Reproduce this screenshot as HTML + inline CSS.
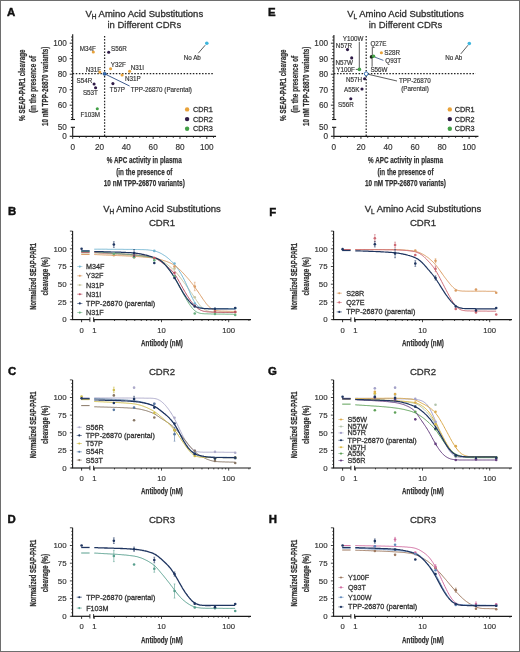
<!DOCTYPE html>
<html><head><meta charset="utf-8"><style>
html,body{margin:0;padding:0;background:#fff;}
#fig{position:relative;width:520px;height:652px;overflow:hidden;background:#fff;}
#fig svg{position:absolute;left:0;top:0;filter:blur(0.45px);}
#frame{position:absolute;left:0;top:0;width:520px;height:652px;box-sizing:border-box;border:1px solid #6e6e6e;}
text{font-family:"Liberation Sans", sans-serif;}
.cond{font-weight:bold;stroke:#303030;stroke-width:0.25px;}
.let{stroke:#111;stroke-width:0.45px;}
</style></head><body><div id="fig">
<svg width="520" height="652" viewBox="0 0 520 652" font-family='"Liberation Sans", sans-serif'>
<text x="6.90" y="16.20" font-size="11.4" font-weight="bold" fill="#111" class="let">A</text>
<text x="144.30" y="17.3" font-size="9.5" text-anchor="middle" fill="#303030" stroke="#303030" stroke-width="0.32">V<tspan font-size="6.5" dy="2">H</tspan><tspan dy="-2"> Amino Acid Substitutions</tspan></text>
<text x="144.30" y="28.30" font-size="9.5" text-anchor="middle" fill="#303030" stroke="#303030" stroke-width="0.26">in Different CDRs</text>
<line x1="72.70" y1="34.20" x2="72.70" y2="119.50" stroke="#1a1a1a" stroke-width="1.1"/>
<line x1="70.80" y1="119.50" x2="75.00" y2="119.50" stroke="#1a1a1a" stroke-width="1.1"/>
<line x1="72.70" y1="127.30" x2="72.70" y2="136.30" stroke="#1a1a1a" stroke-width="1.1"/>
<line x1="70.80" y1="127.30" x2="75.00" y2="127.30" stroke="#1a1a1a" stroke-width="1.1"/>
<line x1="71.10" y1="117.60" x2="72.70" y2="117.60" stroke="#1a1a1a" stroke-width="0.9"/>
<line x1="71.10" y1="114.50" x2="72.70" y2="114.50" stroke="#1a1a1a" stroke-width="0.9"/>
<line x1="71.10" y1="111.40" x2="72.70" y2="111.40" stroke="#1a1a1a" stroke-width="0.9"/>
<line x1="71.10" y1="108.30" x2="72.70" y2="108.30" stroke="#1a1a1a" stroke-width="0.9"/>
<line x1="69.70" y1="105.20" x2="72.70" y2="105.20" stroke="#1a1a1a" stroke-width="0.9"/>
<line x1="71.10" y1="102.10" x2="72.70" y2="102.10" stroke="#1a1a1a" stroke-width="0.9"/>
<line x1="71.10" y1="99.00" x2="72.70" y2="99.00" stroke="#1a1a1a" stroke-width="0.9"/>
<line x1="71.10" y1="95.90" x2="72.70" y2="95.90" stroke="#1a1a1a" stroke-width="0.9"/>
<line x1="71.10" y1="92.80" x2="72.70" y2="92.80" stroke="#1a1a1a" stroke-width="0.9"/>
<line x1="69.70" y1="89.70" x2="72.70" y2="89.70" stroke="#1a1a1a" stroke-width="0.9"/>
<line x1="71.10" y1="86.60" x2="72.70" y2="86.60" stroke="#1a1a1a" stroke-width="0.9"/>
<line x1="71.10" y1="83.50" x2="72.70" y2="83.50" stroke="#1a1a1a" stroke-width="0.9"/>
<line x1="71.10" y1="80.40" x2="72.70" y2="80.40" stroke="#1a1a1a" stroke-width="0.9"/>
<line x1="71.10" y1="77.30" x2="72.70" y2="77.30" stroke="#1a1a1a" stroke-width="0.9"/>
<line x1="69.70" y1="74.20" x2="72.70" y2="74.20" stroke="#1a1a1a" stroke-width="0.9"/>
<line x1="71.10" y1="71.10" x2="72.70" y2="71.10" stroke="#1a1a1a" stroke-width="0.9"/>
<line x1="71.10" y1="68.00" x2="72.70" y2="68.00" stroke="#1a1a1a" stroke-width="0.9"/>
<line x1="71.10" y1="64.90" x2="72.70" y2="64.90" stroke="#1a1a1a" stroke-width="0.9"/>
<line x1="71.10" y1="61.80" x2="72.70" y2="61.80" stroke="#1a1a1a" stroke-width="0.9"/>
<line x1="69.70" y1="58.70" x2="72.70" y2="58.70" stroke="#1a1a1a" stroke-width="0.9"/>
<line x1="71.10" y1="55.60" x2="72.70" y2="55.60" stroke="#1a1a1a" stroke-width="0.9"/>
<line x1="71.10" y1="52.50" x2="72.70" y2="52.50" stroke="#1a1a1a" stroke-width="0.9"/>
<line x1="71.10" y1="49.40" x2="72.70" y2="49.40" stroke="#1a1a1a" stroke-width="0.9"/>
<line x1="71.10" y1="46.30" x2="72.70" y2="46.30" stroke="#1a1a1a" stroke-width="0.9"/>
<line x1="69.70" y1="43.20" x2="72.70" y2="43.20" stroke="#1a1a1a" stroke-width="0.9"/>
<line x1="71.10" y1="40.10" x2="72.70" y2="40.10" stroke="#1a1a1a" stroke-width="0.9"/>
<line x1="71.10" y1="37.00" x2="72.70" y2="37.00" stroke="#1a1a1a" stroke-width="0.9"/>
<text x="66.80" y="46.10" font-size="8.2" text-anchor="end" fill="#333" stroke="#333" stroke-width="0.16">100</text>
<text x="66.80" y="61.60" font-size="8.2" text-anchor="end" fill="#333" stroke="#333" stroke-width="0.16">90</text>
<text x="66.80" y="77.10" font-size="8.2" text-anchor="end" fill="#333" stroke="#333" stroke-width="0.16">80</text>
<text x="66.80" y="92.60" font-size="8.2" text-anchor="end" fill="#333" stroke="#333" stroke-width="0.16">70</text>
<text x="66.80" y="108.10" font-size="8.2" text-anchor="end" fill="#333" stroke="#333" stroke-width="0.16">60</text>
<text x="66.80" y="130.20" font-size="8.2" text-anchor="end" fill="#333" stroke="#333" stroke-width="0.16">50</text>
<text x="66.80" y="139.20" font-size="8.2" text-anchor="end" fill="#333" stroke="#333" stroke-width="0.16">0</text>
<line x1="69.70" y1="136.30" x2="72.70" y2="136.30" stroke="#1a1a1a" stroke-width="1.1"/>
<line x1="72.70" y1="136.30" x2="216.05" y2="136.30" stroke="#1a1a1a" stroke-width="1.2"/>
<line x1="72.70" y1="136.30" x2="72.70" y2="138.90" stroke="#1a1a1a" stroke-width="0.9"/>
<line x1="79.41" y1="136.30" x2="79.41" y2="137.80" stroke="#1a1a1a" stroke-width="0.9"/>
<line x1="86.11" y1="136.30" x2="86.11" y2="137.80" stroke="#1a1a1a" stroke-width="0.9"/>
<line x1="92.81" y1="136.30" x2="92.81" y2="137.80" stroke="#1a1a1a" stroke-width="0.9"/>
<line x1="99.52" y1="136.30" x2="99.52" y2="138.90" stroke="#1a1a1a" stroke-width="0.9"/>
<line x1="106.22" y1="136.30" x2="106.22" y2="137.80" stroke="#1a1a1a" stroke-width="0.9"/>
<line x1="112.93" y1="136.30" x2="112.93" y2="137.80" stroke="#1a1a1a" stroke-width="0.9"/>
<line x1="119.64" y1="136.30" x2="119.64" y2="137.80" stroke="#1a1a1a" stroke-width="0.9"/>
<line x1="126.34" y1="136.30" x2="126.34" y2="138.90" stroke="#1a1a1a" stroke-width="0.9"/>
<line x1="133.05" y1="136.30" x2="133.05" y2="137.80" stroke="#1a1a1a" stroke-width="0.9"/>
<line x1="139.75" y1="136.30" x2="139.75" y2="137.80" stroke="#1a1a1a" stroke-width="0.9"/>
<line x1="146.45" y1="136.30" x2="146.45" y2="137.80" stroke="#1a1a1a" stroke-width="0.9"/>
<line x1="153.16" y1="136.30" x2="153.16" y2="138.90" stroke="#1a1a1a" stroke-width="0.9"/>
<line x1="159.87" y1="136.30" x2="159.87" y2="137.80" stroke="#1a1a1a" stroke-width="0.9"/>
<line x1="166.57" y1="136.30" x2="166.57" y2="137.80" stroke="#1a1a1a" stroke-width="0.9"/>
<line x1="173.28" y1="136.30" x2="173.28" y2="137.80" stroke="#1a1a1a" stroke-width="0.9"/>
<line x1="179.98" y1="136.30" x2="179.98" y2="138.90" stroke="#1a1a1a" stroke-width="0.9"/>
<line x1="186.69" y1="136.30" x2="186.69" y2="137.80" stroke="#1a1a1a" stroke-width="0.9"/>
<line x1="193.39" y1="136.30" x2="193.39" y2="137.80" stroke="#1a1a1a" stroke-width="0.9"/>
<line x1="200.09" y1="136.30" x2="200.09" y2="137.80" stroke="#1a1a1a" stroke-width="0.9"/>
<line x1="206.80" y1="136.30" x2="206.80" y2="138.90" stroke="#1a1a1a" stroke-width="0.9"/>
<line x1="213.50" y1="136.30" x2="213.50" y2="137.80" stroke="#1a1a1a" stroke-width="0.9"/>
<text x="72.70" y="149.60" font-size="8.2" text-anchor="middle" fill="#333" stroke="#333" stroke-width="0.16">0</text>
<text x="99.52" y="149.60" font-size="8.2" text-anchor="middle" fill="#333" stroke="#333" stroke-width="0.16">20</text>
<text x="126.34" y="149.60" font-size="8.2" text-anchor="middle" fill="#333" stroke="#333" stroke-width="0.16">40</text>
<text x="153.16" y="149.60" font-size="8.2" text-anchor="middle" fill="#333" stroke="#333" stroke-width="0.16">60</text>
<text x="179.98" y="149.60" font-size="8.2" text-anchor="middle" fill="#333" stroke="#333" stroke-width="0.16">80</text>
<text x="206.80" y="149.60" font-size="8.2" text-anchor="middle" fill="#333" stroke="#333" stroke-width="0.16">100</text>
<text x="144.30" y="163.20" font-size="9.9" text-anchor="middle" fill="#303030" textLength="74.9" lengthAdjust="spacingAndGlyphs" class="cond">% APC activity in plasma</text>
<text x="144.30" y="174.60" font-size="9.9" text-anchor="middle" fill="#303030" textLength="56.1" lengthAdjust="spacingAndGlyphs" class="cond">(in the presence of</text>
<text x="144.30" y="185.60" font-size="9.9" text-anchor="middle" fill="#303030" textLength="81.0" lengthAdjust="spacingAndGlyphs" class="cond">10 nM TPP-26870 variants)</text>
<text transform="translate(25.00,85.20) rotate(-90)" x="0" y="0" font-size="9.9" text-anchor="middle" fill="#303030" textLength="71.4" lengthAdjust="spacingAndGlyphs" class="cond">% SEAP-PAR1 cleavage</text>
<text transform="translate(36.40,84.40) rotate(-90)" x="0" y="0" font-size="9.9" text-anchor="middle" fill="#303030" textLength="56.9" lengthAdjust="spacingAndGlyphs" class="cond">(in the presence of</text>
<text transform="translate(47.90,86.30) rotate(-90)" x="0" y="0" font-size="9.9" text-anchor="middle" fill="#303030" textLength="79.4" lengthAdjust="spacingAndGlyphs" class="cond">10 nM TPP-26870 variants)</text>
<line x1="104.60" y1="36.00" x2="104.60" y2="136.30" stroke="#222" stroke-width="1.25" stroke-dasharray="1.5,1.58"/>
<line x1="72.70" y1="73.70" x2="213.00" y2="73.70" stroke="#222" stroke-width="1.25" stroke-dasharray="1.5,1.58"/>
<circle cx="93.30" cy="52.00" r="1.55" fill="#e8a23a"/>
<circle cx="108.70" cy="52.30" r="1.55" fill="#2e1a46"/>
<circle cx="110.60" cy="68.70" r="1.55" fill="#e8a23a"/>
<circle cx="129.60" cy="71.30" r="1.55" fill="#e8a23a"/>
<circle cx="99.80" cy="72.10" r="1.55" fill="#e8a23a"/>
<circle cx="122.10" cy="75.00" r="1.55" fill="#e8a23a"/>
<circle cx="94.10" cy="84.00" r="1.55" fill="#2e1a46"/>
<circle cx="95.60" cy="87.70" r="1.55" fill="#2e1a46"/>
<circle cx="112.90" cy="83.60" r="1.55" fill="#2e1a46"/>
<circle cx="97.30" cy="108.80" r="1.55" fill="#43a047"/>
<line x1="104.60" y1="73.80" x2="129.60" y2="86.00" stroke="#2b4a80" stroke-width="0.9"/>
<circle cx="104.60" cy="73.80" r="1.6" fill="#2f6db5" stroke="#1d3f73" stroke-width="0.6"/>
<circle cx="206.80" cy="43.20" r="1.8" fill="#3fb6dd"/>
<line x1="205.20" y1="45.20" x2="198.30" y2="53.20" stroke="#333" stroke-width="0.8"/>
<text x="79.80" y="50.80" font-size="6.3" fill="#333" stroke="#333" stroke-width="0.16">M34F</text>
<text x="111.00" y="51.30" font-size="6.3" fill="#333" stroke="#333" stroke-width="0.16">S56R</text>
<text x="110.80" y="66.70" font-size="6.3" fill="#333" stroke="#333" stroke-width="0.16">Y32F</text>
<text x="130.70" y="69.80" font-size="6.3" fill="#333" stroke="#333" stroke-width="0.16">N31I</text>
<text x="85.80" y="72.10" font-size="6.3" fill="#333" stroke="#333" stroke-width="0.16">N31F</text>
<text x="125.00" y="81.00" font-size="6.3" fill="#333" stroke="#333" stroke-width="0.16">N31P</text>
<text x="92.30" y="83.10" font-size="6.3" text-anchor="end" fill="#333" stroke="#333" stroke-width="0.16">S54R</text>
<text x="82.90" y="95.20" font-size="6.3" fill="#333" stroke="#333" stroke-width="0.16">S53T</text>
<text x="109.80" y="91.70" font-size="6.3" fill="#333" stroke="#333" stroke-width="0.16">T57P</text>
<text x="90.20" y="116.80" font-size="6.3" text-anchor="middle" fill="#333" stroke="#333" stroke-width="0.16">F103M</text>
<text x="130.70" y="91.70" font-size="6.3" fill="#333" stroke="#333" stroke-width="0.16">TPP-26870 (Parental)</text>
<text x="192.30" y="60.20" font-size="6.3" text-anchor="middle" fill="#333" stroke="#333" stroke-width="0.16">No Ab</text>
<circle cx="187.10" cy="109.40" r="2.2" fill="#e8a23a"/>
<text x="192.90" y="111.90" font-size="7.3" fill="#303030" stroke="#303030" stroke-width="0.26">CDR1</text>
<circle cx="187.10" cy="119.10" r="2.2" fill="#2e1a46"/>
<text x="192.90" y="121.60" font-size="7.3" fill="#303030" stroke="#303030" stroke-width="0.26">CDR2</text>
<circle cx="187.10" cy="128.80" r="2.2" fill="#43a047"/>
<text x="192.90" y="131.30" font-size="7.3" fill="#303030" stroke="#303030" stroke-width="0.26">CDR3</text>
<text x="268.10" y="16.20" font-size="11.4" font-weight="bold" fill="#111" class="let">E</text>
<text x="405.50" y="17.3" font-size="9.5" text-anchor="middle" fill="#303030" stroke="#303030" stroke-width="0.32">V<tspan font-size="6.5" dy="2">L</tspan><tspan dy="-2"> Amino Acid Substitutions</tspan></text>
<text x="405.50" y="28.30" font-size="9.5" text-anchor="middle" fill="#303030" stroke="#303030" stroke-width="0.26">in Different CDRs</text>
<line x1="333.90" y1="35.00" x2="333.90" y2="119.50" stroke="#1a1a1a" stroke-width="1.1"/>
<line x1="332.00" y1="119.50" x2="336.20" y2="119.50" stroke="#1a1a1a" stroke-width="1.1"/>
<line x1="333.90" y1="127.30" x2="333.90" y2="136.30" stroke="#1a1a1a" stroke-width="1.1"/>
<line x1="332.00" y1="127.30" x2="336.20" y2="127.30" stroke="#1a1a1a" stroke-width="1.1"/>
<line x1="332.30" y1="117.60" x2="333.90" y2="117.60" stroke="#1a1a1a" stroke-width="0.9"/>
<line x1="332.30" y1="114.50" x2="333.90" y2="114.50" stroke="#1a1a1a" stroke-width="0.9"/>
<line x1="332.30" y1="111.40" x2="333.90" y2="111.40" stroke="#1a1a1a" stroke-width="0.9"/>
<line x1="332.30" y1="108.30" x2="333.90" y2="108.30" stroke="#1a1a1a" stroke-width="0.9"/>
<line x1="330.90" y1="105.20" x2="333.90" y2="105.20" stroke="#1a1a1a" stroke-width="0.9"/>
<line x1="332.30" y1="102.10" x2="333.90" y2="102.10" stroke="#1a1a1a" stroke-width="0.9"/>
<line x1="332.30" y1="99.00" x2="333.90" y2="99.00" stroke="#1a1a1a" stroke-width="0.9"/>
<line x1="332.30" y1="95.90" x2="333.90" y2="95.90" stroke="#1a1a1a" stroke-width="0.9"/>
<line x1="332.30" y1="92.80" x2="333.90" y2="92.80" stroke="#1a1a1a" stroke-width="0.9"/>
<line x1="330.90" y1="89.70" x2="333.90" y2="89.70" stroke="#1a1a1a" stroke-width="0.9"/>
<line x1="332.30" y1="86.60" x2="333.90" y2="86.60" stroke="#1a1a1a" stroke-width="0.9"/>
<line x1="332.30" y1="83.50" x2="333.90" y2="83.50" stroke="#1a1a1a" stroke-width="0.9"/>
<line x1="332.30" y1="80.40" x2="333.90" y2="80.40" stroke="#1a1a1a" stroke-width="0.9"/>
<line x1="332.30" y1="77.30" x2="333.90" y2="77.30" stroke="#1a1a1a" stroke-width="0.9"/>
<line x1="330.90" y1="74.20" x2="333.90" y2="74.20" stroke="#1a1a1a" stroke-width="0.9"/>
<line x1="332.30" y1="71.10" x2="333.90" y2="71.10" stroke="#1a1a1a" stroke-width="0.9"/>
<line x1="332.30" y1="68.00" x2="333.90" y2="68.00" stroke="#1a1a1a" stroke-width="0.9"/>
<line x1="332.30" y1="64.90" x2="333.90" y2="64.90" stroke="#1a1a1a" stroke-width="0.9"/>
<line x1="332.30" y1="61.80" x2="333.90" y2="61.80" stroke="#1a1a1a" stroke-width="0.9"/>
<line x1="330.90" y1="58.70" x2="333.90" y2="58.70" stroke="#1a1a1a" stroke-width="0.9"/>
<line x1="332.30" y1="55.60" x2="333.90" y2="55.60" stroke="#1a1a1a" stroke-width="0.9"/>
<line x1="332.30" y1="52.50" x2="333.90" y2="52.50" stroke="#1a1a1a" stroke-width="0.9"/>
<line x1="332.30" y1="49.40" x2="333.90" y2="49.40" stroke="#1a1a1a" stroke-width="0.9"/>
<line x1="332.30" y1="46.30" x2="333.90" y2="46.30" stroke="#1a1a1a" stroke-width="0.9"/>
<line x1="330.90" y1="43.20" x2="333.90" y2="43.20" stroke="#1a1a1a" stroke-width="0.9"/>
<line x1="332.30" y1="40.10" x2="333.90" y2="40.10" stroke="#1a1a1a" stroke-width="0.9"/>
<line x1="332.30" y1="37.00" x2="333.90" y2="37.00" stroke="#1a1a1a" stroke-width="0.9"/>
<text x="328.00" y="46.10" font-size="8.2" text-anchor="end" fill="#333" stroke="#333" stroke-width="0.16">100</text>
<text x="328.00" y="61.60" font-size="8.2" text-anchor="end" fill="#333" stroke="#333" stroke-width="0.16">90</text>
<text x="328.00" y="77.10" font-size="8.2" text-anchor="end" fill="#333" stroke="#333" stroke-width="0.16">80</text>
<text x="328.00" y="92.60" font-size="8.2" text-anchor="end" fill="#333" stroke="#333" stroke-width="0.16">70</text>
<text x="328.00" y="108.10" font-size="8.2" text-anchor="end" fill="#333" stroke="#333" stroke-width="0.16">60</text>
<text x="328.00" y="130.20" font-size="8.2" text-anchor="end" fill="#333" stroke="#333" stroke-width="0.16">50</text>
<text x="328.00" y="139.20" font-size="8.2" text-anchor="end" fill="#333" stroke="#333" stroke-width="0.16">0</text>
<line x1="330.90" y1="136.30" x2="333.90" y2="136.30" stroke="#1a1a1a" stroke-width="1.1"/>
<line x1="333.90" y1="136.30" x2="478.43" y2="136.30" stroke="#1a1a1a" stroke-width="1.2"/>
<line x1="333.90" y1="136.30" x2="333.90" y2="138.90" stroke="#1a1a1a" stroke-width="0.9"/>
<line x1="340.66" y1="136.30" x2="340.66" y2="137.80" stroke="#1a1a1a" stroke-width="0.9"/>
<line x1="347.42" y1="136.30" x2="347.42" y2="137.80" stroke="#1a1a1a" stroke-width="0.9"/>
<line x1="354.18" y1="136.30" x2="354.18" y2="137.80" stroke="#1a1a1a" stroke-width="0.9"/>
<line x1="360.94" y1="136.30" x2="360.94" y2="138.90" stroke="#1a1a1a" stroke-width="0.9"/>
<line x1="367.70" y1="136.30" x2="367.70" y2="137.80" stroke="#1a1a1a" stroke-width="0.9"/>
<line x1="374.46" y1="136.30" x2="374.46" y2="137.80" stroke="#1a1a1a" stroke-width="0.9"/>
<line x1="381.22" y1="136.30" x2="381.22" y2="137.80" stroke="#1a1a1a" stroke-width="0.9"/>
<line x1="387.98" y1="136.30" x2="387.98" y2="138.90" stroke="#1a1a1a" stroke-width="0.9"/>
<line x1="394.74" y1="136.30" x2="394.74" y2="137.80" stroke="#1a1a1a" stroke-width="0.9"/>
<line x1="401.50" y1="136.30" x2="401.50" y2="137.80" stroke="#1a1a1a" stroke-width="0.9"/>
<line x1="408.26" y1="136.30" x2="408.26" y2="137.80" stroke="#1a1a1a" stroke-width="0.9"/>
<line x1="415.02" y1="136.30" x2="415.02" y2="138.90" stroke="#1a1a1a" stroke-width="0.9"/>
<line x1="421.78" y1="136.30" x2="421.78" y2="137.80" stroke="#1a1a1a" stroke-width="0.9"/>
<line x1="428.54" y1="136.30" x2="428.54" y2="137.80" stroke="#1a1a1a" stroke-width="0.9"/>
<line x1="435.30" y1="136.30" x2="435.30" y2="137.80" stroke="#1a1a1a" stroke-width="0.9"/>
<line x1="442.06" y1="136.30" x2="442.06" y2="138.90" stroke="#1a1a1a" stroke-width="0.9"/>
<line x1="448.82" y1="136.30" x2="448.82" y2="137.80" stroke="#1a1a1a" stroke-width="0.9"/>
<line x1="455.58" y1="136.30" x2="455.58" y2="137.80" stroke="#1a1a1a" stroke-width="0.9"/>
<line x1="462.34" y1="136.30" x2="462.34" y2="137.80" stroke="#1a1a1a" stroke-width="0.9"/>
<line x1="469.10" y1="136.30" x2="469.10" y2="138.90" stroke="#1a1a1a" stroke-width="0.9"/>
<line x1="475.86" y1="136.30" x2="475.86" y2="137.80" stroke="#1a1a1a" stroke-width="0.9"/>
<text x="333.90" y="149.60" font-size="8.2" text-anchor="middle" fill="#333" stroke="#333" stroke-width="0.16">0</text>
<text x="360.94" y="149.60" font-size="8.2" text-anchor="middle" fill="#333" stroke="#333" stroke-width="0.16">20</text>
<text x="387.98" y="149.60" font-size="8.2" text-anchor="middle" fill="#333" stroke="#333" stroke-width="0.16">40</text>
<text x="415.02" y="149.60" font-size="8.2" text-anchor="middle" fill="#333" stroke="#333" stroke-width="0.16">60</text>
<text x="442.06" y="149.60" font-size="8.2" text-anchor="middle" fill="#333" stroke="#333" stroke-width="0.16">80</text>
<text x="469.10" y="149.60" font-size="8.2" text-anchor="middle" fill="#333" stroke="#333" stroke-width="0.16">100</text>
<text x="405.50" y="163.20" font-size="9.9" text-anchor="middle" fill="#303030" textLength="74.9" lengthAdjust="spacingAndGlyphs" class="cond">% APC activity in plasma</text>
<text x="405.50" y="174.60" font-size="9.9" text-anchor="middle" fill="#303030" textLength="56.1" lengthAdjust="spacingAndGlyphs" class="cond">(in the presence of</text>
<text x="405.50" y="185.60" font-size="9.9" text-anchor="middle" fill="#303030" textLength="81.0" lengthAdjust="spacingAndGlyphs" class="cond">10 nM TPP-26870 variants)</text>
<text transform="translate(286.20,85.20) rotate(-90)" x="0" y="0" font-size="9.9" text-anchor="middle" fill="#303030" textLength="71.4" lengthAdjust="spacingAndGlyphs" class="cond">% SEAP-PAR1 cleavage</text>
<text transform="translate(297.60,84.40) rotate(-90)" x="0" y="0" font-size="9.9" text-anchor="middle" fill="#303030" textLength="56.9" lengthAdjust="spacingAndGlyphs" class="cond">(in the presence of</text>
<text transform="translate(309.10,86.30) rotate(-90)" x="0" y="0" font-size="9.9" text-anchor="middle" fill="#303030" textLength="79.4" lengthAdjust="spacingAndGlyphs" class="cond">10 nM TPP-26870 variants)</text>
<line x1="366.20" y1="36.00" x2="366.20" y2="136.30" stroke="#222" stroke-width="1.25" stroke-dasharray="1.5,1.58"/>
<line x1="333.90" y1="73.70" x2="475.70" y2="73.70" stroke="#222" stroke-width="1.25" stroke-dasharray="1.5,1.58"/>
<circle cx="347.50" cy="49.60" r="1.55" fill="#2e1a46"/>
<circle cx="351.70" cy="57.90" r="1.55" fill="#2e1a46"/>
<circle cx="364.60" cy="78.70" r="1.55" fill="#2e1a46"/>
<circle cx="362.00" cy="89.00" r="1.55" fill="#2e1a46"/>
<circle cx="350.80" cy="98.70" r="1.55" fill="#2e1a46"/>
<circle cx="381.40" cy="52.80" r="1.55" fill="#e8a23a"/>
<line x1="359.30" y1="41.80" x2="359.30" y2="69.00" stroke="#333" stroke-width="0.8"/>
<line x1="355.80" y1="69.40" x2="358.00" y2="69.40" stroke="#333" stroke-width="0.8"/>
<circle cx="359.40" cy="69.40" r="1.8" fill="#43a047"/>
<line x1="372.30" y1="46.60" x2="372.30" y2="55.00" stroke="#333" stroke-width="0.8"/>
<line x1="372.10" y1="58.50" x2="372.10" y2="66.70" stroke="#333" stroke-width="0.8"/>
<line x1="375.00" y1="57.20" x2="383.40" y2="60.40" stroke="#2b4a80" stroke-width="0.8"/>
<circle cx="371.50" cy="56.90" r="1.8" fill="#1c2a1c"/>
<circle cx="373.60" cy="56.30" r="1.7" fill="#43a047"/>
<line x1="366.20" y1="73.80" x2="397.00" y2="81.00" stroke="#333" stroke-width="0.8"/>
<circle cx="366.20" cy="73.80" r="1.9" fill="#ffffff" stroke="#2f6db5" stroke-width="0.95"/>
<circle cx="469.30" cy="43.50" r="1.8" fill="#3fb6dd"/>
<line x1="468.00" y1="45.20" x2="460.80" y2="53.90" stroke="#333" stroke-width="0.8"/>
<text x="342.70" y="41.00" font-size="6.3" fill="#333" stroke="#333" stroke-width="0.16">Y100W</text>
<text x="343.90" y="48.20" font-size="6.3" text-anchor="middle" fill="#333" stroke="#333" stroke-width="0.16">N57R</text>
<text x="344.20" y="64.60" font-size="6.3" text-anchor="middle" fill="#333" stroke="#333" stroke-width="0.16">N57W</text>
<text x="354.80" y="72.20" font-size="6.3" text-anchor="end" fill="#333" stroke="#333" stroke-width="0.16">Y100F</text>
<text x="362.00" y="82.10" font-size="6.3" text-anchor="end" fill="#333" stroke="#333" stroke-width="0.16">N57H</text>
<text x="359.40" y="91.70" font-size="6.3" text-anchor="end" fill="#333" stroke="#333" stroke-width="0.16">A55K</text>
<text x="346.00" y="106.50" font-size="6.3" text-anchor="middle" fill="#333" stroke="#333" stroke-width="0.16">S56R</text>
<text x="370.40" y="45.60" font-size="6.3" fill="#333" stroke="#333" stroke-width="0.16">Q27E</text>
<text x="384.30" y="54.80" font-size="6.3" fill="#333" stroke="#333" stroke-width="0.16">S28R</text>
<text x="385.30" y="63.40" font-size="6.3" fill="#333" stroke="#333" stroke-width="0.16">Q93T</text>
<text x="370.40" y="72.20" font-size="6.3" fill="#333" stroke="#333" stroke-width="0.16">S56W</text>
<text x="399.00" y="83.00" font-size="6.3" fill="#333" stroke="#333" stroke-width="0.16">TPP-26870</text>
<text x="415.00" y="91.00" font-size="6.3" text-anchor="middle" fill="#333" stroke="#333" stroke-width="0.16">(Parental)</text>
<text x="453.80" y="60.40" font-size="6.3" text-anchor="middle" fill="#333" stroke="#333" stroke-width="0.16">No Ab</text>
<circle cx="449.80" cy="109.40" r="2.2" fill="#e8a23a"/>
<text x="454.80" y="111.90" font-size="7.3" fill="#303030" stroke="#303030" stroke-width="0.26">CDR1</text>
<circle cx="449.80" cy="119.10" r="2.2" fill="#2e1a46"/>
<text x="454.80" y="121.60" font-size="7.3" fill="#303030" stroke="#303030" stroke-width="0.26">CDR2</text>
<circle cx="449.80" cy="128.80" r="2.2" fill="#43a047"/>
<text x="454.80" y="131.30" font-size="7.3" fill="#303030" stroke="#303030" stroke-width="0.26">CDR3</text>
<text x="8.00" y="215.00" font-size="11.4" font-weight="bold" fill="#111" class="let">B</text>
<text x="162.00" y="211.70" font-size="9.5" text-anchor="middle" fill="#303030" stroke="#303030" stroke-width="0.32">V<tspan font-size="6.4" dy="2">H</tspan><tspan dy="-2"> Amino Acid Substitutions</tspan></text>
<text x="162.00" y="226.20" font-size="9.6" text-anchor="middle" fill="#303030" stroke="#303030" stroke-width="0.26">CDR1</text>
<line x1="72.60" y1="231.10" x2="72.60" y2="319.60" stroke="#1a1a1a" stroke-width="1.1"/>
<line x1="69.90" y1="319.60" x2="72.60" y2="319.60" stroke="#1a1a1a" stroke-width="0.8"/>
<line x1="71.30" y1="316.06" x2="72.60" y2="316.06" stroke="#1a1a1a" stroke-width="0.8"/>
<line x1="71.30" y1="312.52" x2="72.60" y2="312.52" stroke="#1a1a1a" stroke-width="0.8"/>
<line x1="71.30" y1="308.98" x2="72.60" y2="308.98" stroke="#1a1a1a" stroke-width="0.8"/>
<line x1="71.30" y1="305.44" x2="72.60" y2="305.44" stroke="#1a1a1a" stroke-width="0.8"/>
<line x1="69.90" y1="301.90" x2="72.60" y2="301.90" stroke="#1a1a1a" stroke-width="0.8"/>
<line x1="71.30" y1="298.36" x2="72.60" y2="298.36" stroke="#1a1a1a" stroke-width="0.8"/>
<line x1="71.30" y1="294.82" x2="72.60" y2="294.82" stroke="#1a1a1a" stroke-width="0.8"/>
<line x1="71.30" y1="291.28" x2="72.60" y2="291.28" stroke="#1a1a1a" stroke-width="0.8"/>
<line x1="71.30" y1="287.74" x2="72.60" y2="287.74" stroke="#1a1a1a" stroke-width="0.8"/>
<line x1="69.90" y1="284.20" x2="72.60" y2="284.20" stroke="#1a1a1a" stroke-width="0.8"/>
<line x1="71.30" y1="280.66" x2="72.60" y2="280.66" stroke="#1a1a1a" stroke-width="0.8"/>
<line x1="71.30" y1="277.12" x2="72.60" y2="277.12" stroke="#1a1a1a" stroke-width="0.8"/>
<line x1="71.30" y1="273.58" x2="72.60" y2="273.58" stroke="#1a1a1a" stroke-width="0.8"/>
<line x1="71.30" y1="270.04" x2="72.60" y2="270.04" stroke="#1a1a1a" stroke-width="0.8"/>
<line x1="69.90" y1="266.50" x2="72.60" y2="266.50" stroke="#1a1a1a" stroke-width="0.8"/>
<line x1="71.30" y1="262.96" x2="72.60" y2="262.96" stroke="#1a1a1a" stroke-width="0.8"/>
<line x1="71.30" y1="259.42" x2="72.60" y2="259.42" stroke="#1a1a1a" stroke-width="0.8"/>
<line x1="71.30" y1="255.88" x2="72.60" y2="255.88" stroke="#1a1a1a" stroke-width="0.8"/>
<line x1="71.30" y1="252.34" x2="72.60" y2="252.34" stroke="#1a1a1a" stroke-width="0.8"/>
<line x1="69.90" y1="248.80" x2="72.60" y2="248.80" stroke="#1a1a1a" stroke-width="0.8"/>
<line x1="71.30" y1="245.26" x2="72.60" y2="245.26" stroke="#1a1a1a" stroke-width="0.8"/>
<line x1="71.30" y1="241.72" x2="72.60" y2="241.72" stroke="#1a1a1a" stroke-width="0.8"/>
<line x1="71.30" y1="238.18" x2="72.60" y2="238.18" stroke="#1a1a1a" stroke-width="0.8"/>
<line x1="71.30" y1="234.64" x2="72.60" y2="234.64" stroke="#1a1a1a" stroke-width="0.8"/>
<line x1="69.90" y1="231.10" x2="72.60" y2="231.10" stroke="#1a1a1a" stroke-width="0.8"/>
<text x="66.60" y="322.40" font-size="7.9" text-anchor="end" fill="#333" stroke="#333" stroke-width="0.16">0</text>
<text x="66.60" y="304.70" font-size="7.9" text-anchor="end" fill="#333" stroke="#333" stroke-width="0.16">25</text>
<text x="66.60" y="287.00" font-size="7.9" text-anchor="end" fill="#333" stroke="#333" stroke-width="0.16">50</text>
<text x="66.60" y="269.30" font-size="7.9" text-anchor="end" fill="#333" stroke="#333" stroke-width="0.16">75</text>
<text x="66.60" y="251.60" font-size="7.9" text-anchor="end" fill="#333" stroke="#333" stroke-width="0.16">100</text>
<line x1="71.50" y1="319.60" x2="89.90" y2="319.60" stroke="#1a1a1a" stroke-width="1.2"/>
<line x1="93.60" y1="319.60" x2="251.00" y2="319.60" stroke="#1a1a1a" stroke-width="1.2"/>
<line x1="89.90" y1="317.40" x2="89.90" y2="321.80" stroke="#1a1a1a" stroke-width="0.9"/>
<line x1="93.60" y1="317.40" x2="93.60" y2="321.80" stroke="#1a1a1a" stroke-width="0.9"/>
<line x1="81.60" y1="319.60" x2="81.60" y2="322.20" stroke="#1a1a1a" stroke-width="0.9"/>
<line x1="94.30" y1="319.60" x2="94.30" y2="322.20" stroke="#1a1a1a" stroke-width="0.8"/>
<line x1="114.53" y1="319.60" x2="114.53" y2="321.00" stroke="#1a1a1a" stroke-width="0.8"/>
<line x1="126.36" y1="319.60" x2="126.36" y2="321.00" stroke="#1a1a1a" stroke-width="0.8"/>
<line x1="134.76" y1="319.60" x2="134.76" y2="321.00" stroke="#1a1a1a" stroke-width="0.8"/>
<line x1="141.27" y1="319.60" x2="141.27" y2="321.00" stroke="#1a1a1a" stroke-width="0.8"/>
<line x1="146.59" y1="319.60" x2="146.59" y2="321.00" stroke="#1a1a1a" stroke-width="0.8"/>
<line x1="151.09" y1="319.60" x2="151.09" y2="321.00" stroke="#1a1a1a" stroke-width="0.8"/>
<line x1="154.99" y1="319.60" x2="154.99" y2="321.00" stroke="#1a1a1a" stroke-width="0.8"/>
<line x1="158.43" y1="319.60" x2="158.43" y2="321.00" stroke="#1a1a1a" stroke-width="0.8"/>
<line x1="161.50" y1="319.60" x2="161.50" y2="322.20" stroke="#1a1a1a" stroke-width="0.8"/>
<line x1="181.73" y1="319.60" x2="181.73" y2="321.00" stroke="#1a1a1a" stroke-width="0.8"/>
<line x1="193.56" y1="319.60" x2="193.56" y2="321.00" stroke="#1a1a1a" stroke-width="0.8"/>
<line x1="201.96" y1="319.60" x2="201.96" y2="321.00" stroke="#1a1a1a" stroke-width="0.8"/>
<line x1="208.47" y1="319.60" x2="208.47" y2="321.00" stroke="#1a1a1a" stroke-width="0.8"/>
<line x1="213.79" y1="319.60" x2="213.79" y2="321.00" stroke="#1a1a1a" stroke-width="0.8"/>
<line x1="218.29" y1="319.60" x2="218.29" y2="321.00" stroke="#1a1a1a" stroke-width="0.8"/>
<line x1="222.19" y1="319.60" x2="222.19" y2="321.00" stroke="#1a1a1a" stroke-width="0.8"/>
<line x1="225.63" y1="319.60" x2="225.63" y2="321.00" stroke="#1a1a1a" stroke-width="0.8"/>
<line x1="228.70" y1="319.60" x2="228.70" y2="322.20" stroke="#1a1a1a" stroke-width="0.8"/>
<line x1="248.93" y1="319.60" x2="248.93" y2="321.00" stroke="#1a1a1a" stroke-width="0.8"/>
<text x="81.60" y="332.50" font-size="7.7" text-anchor="middle" fill="#333" stroke="#333" stroke-width="0.16">0</text>
<text x="94.30" y="332.50" font-size="7.7" text-anchor="middle" fill="#333" stroke="#333" stroke-width="0.16">1</text>
<text x="161.50" y="332.50" font-size="7.7" text-anchor="middle" fill="#333" stroke="#333" stroke-width="0.16">10</text>
<text x="228.70" y="332.50" font-size="7.7" text-anchor="middle" fill="#333" stroke="#333" stroke-width="0.16">100</text>
<text x="162.00" y="345.90" font-size="8.8" text-anchor="middle" fill="#303030" textLength="41.8" lengthAdjust="spacingAndGlyphs" class="cond">Antibody (nM)</text>
<text transform="translate(36.00,276.40) rotate(-90)" x="0" y="0" font-size="9.3" text-anchor="middle" fill="#303030" textLength="66.8" lengthAdjust="spacingAndGlyphs" class="cond">Normalized SEAP-PAR1</text>
<text transform="translate(47.60,276.40) rotate(-90)" x="0" y="0" font-size="9.3" text-anchor="middle" fill="#303030" textLength="38.4" lengthAdjust="spacingAndGlyphs" class="cond">cleavage (%)</text>
<line x1="81.20" y1="253.05" x2="89.60" y2="253.05" stroke="#c8c5a0" stroke-width="1.0"/>
<polyline points="94.3,253.1 95.1,253.2 95.9,253.2 96.7,253.3 97.5,253.3 98.3,253.4 99.1,253.4 99.9,253.5 100.7,253.5 101.5,253.6 102.3,253.6 103.1,253.7 103.9,253.7 104.7,253.8 105.5,253.8 106.3,253.9 107.1,253.9 107.9,254.0 108.7,254.0 109.5,254.1 110.3,254.1 111.1,254.2 111.9,254.2 112.7,254.3 113.5,254.3 114.3,254.4 115.1,254.4 115.9,254.5 116.7,254.5 117.5,254.6 118.3,254.6 119.1,254.7 119.9,254.7 120.7,254.7 121.5,254.8 122.3,254.8 123.1,254.9 123.9,254.9 124.7,255.0 125.5,255.1 126.3,255.1 127.1,255.2 127.9,255.2 128.7,255.3 129.5,255.3 130.3,255.4 131.1,255.5 131.9,255.5 132.7,255.6 133.5,255.6 134.3,255.7 135.1,255.8 135.9,255.8 136.7,255.9 137.5,256.0 138.3,256.1 139.1,256.1 139.9,256.2 140.7,256.3 141.5,256.4 142.3,256.5 143.1,256.6 143.9,256.7 144.7,256.8 145.5,256.9 146.3,257.0 147.1,257.1 147.9,257.2 148.7,257.3 149.5,257.4 150.3,257.5 151.1,257.6 151.9,257.8 152.7,257.9 153.5,258.1 154.3,258.3 155.1,258.5 155.9,258.7 156.7,258.9 157.5,259.2 158.3,259.5 159.1,259.9 159.9,260.2 160.7,260.6 161.5,261.0 162.3,261.4 163.1,261.9 163.9,262.3 164.7,262.8 165.5,263.3 166.3,263.9 167.1,264.5 167.9,265.0 168.7,265.6 169.5,266.3 170.3,266.9 171.1,267.6 171.9,268.3 172.7,269.0 173.5,269.8 174.3,270.6 175.1,271.4 175.9,272.2 176.7,273.1 177.5,274.1 178.3,275.0 179.1,276.0 179.9,277.1 180.7,278.1 181.5,279.2 182.3,280.3 183.1,281.3 183.9,282.4 184.7,283.5 185.5,284.6 186.3,285.7 187.1,286.8 187.9,287.9 188.7,289.0 189.5,290.1 190.3,291.3 191.1,292.4 191.9,293.5 192.7,294.7 193.5,295.9 194.3,297.1 195.1,298.3 195.9,299.5 196.7,300.7 197.5,301.9 198.3,303.1 199.1,304.2 199.9,305.3 200.7,306.2 201.5,307.1 202.3,307.9 203.1,308.5 203.9,309.1 204.7,309.7 205.5,310.1 206.3,310.5 207.1,310.8 207.9,311.1 208.7,311.3 209.5,311.5 210.3,311.6 211.1,311.8 211.9,311.8 212.7,311.9 213.5,312.0 214.3,312.0 215.1,312.1 215.9,312.1 216.7,312.1 217.5,312.1 218.3,312.2 219.1,312.2 219.9,312.2 220.7,312.2 221.5,312.2 222.3,312.3 223.1,312.3 223.9,312.3 224.7,312.3 225.5,312.3 226.3,312.3 227.1,312.4 227.9,312.4 228.7,312.4 229.5,312.4 230.3,312.4 231.1,312.4 231.9,312.4 232.7,312.5 233.5,312.5 234.3,312.5 235.1,312.5" fill="none" stroke="#c8c5a0" stroke-width="1.0" stroke-linejoin="round"/>
<line x1="81.20" y1="250.92" x2="89.60" y2="250.92" stroke="#74b6d2" stroke-width="1.0"/>
<polyline points="94.3,249.2 95.1,249.2 95.9,249.2 96.7,249.2 97.5,249.2 98.3,249.2 99.1,249.2 99.9,249.2 100.7,249.2 101.5,249.2 102.3,249.2 103.1,249.2 103.9,249.2 104.7,249.2 105.5,249.2 106.3,249.2 107.1,249.2 107.9,249.3 108.7,249.3 109.5,249.3 110.3,249.3 111.1,249.3 111.9,249.3 112.7,249.3 113.5,249.3 114.3,249.3 115.1,249.3 115.9,249.3 116.7,249.3 117.5,249.3 118.3,249.3 119.1,249.3 119.9,249.3 120.7,249.3 121.5,249.3 122.3,249.3 123.1,249.3 123.9,249.4 124.7,249.4 125.5,249.4 126.3,249.4 127.1,249.4 127.9,249.4 128.7,249.4 129.5,249.4 130.3,249.4 131.1,249.4 131.9,249.4 132.7,249.4 133.5,249.5 134.3,249.5 135.1,249.5 135.9,249.5 136.7,249.5 137.5,249.5 138.3,249.5 139.1,249.5 139.9,249.6 140.7,249.6 141.5,249.6 142.3,249.6 143.1,249.6 143.9,249.7 144.7,249.7 145.5,249.7 146.3,249.8 147.1,249.8 147.9,249.9 148.7,250.0 149.5,250.1 150.3,250.2 151.1,250.3 151.9,250.4 152.7,250.6 153.5,250.7 154.3,250.9 155.1,251.1 155.9,251.3 156.7,251.6 157.5,251.9 158.3,252.2 159.1,252.5 159.9,252.9 160.7,253.3 161.5,253.7 162.3,254.2 163.1,254.7 163.9,255.2 164.7,255.7 165.5,256.2 166.3,256.8 167.1,257.4 167.9,258.1 168.7,258.7 169.5,259.4 170.3,260.2 171.1,260.9 171.9,261.7 172.7,262.5 173.5,263.4 174.3,264.3 175.1,265.2 175.9,266.2 176.7,267.3 177.5,268.4 178.3,269.5 179.1,270.7 179.9,272.0 180.7,273.3 181.5,274.7 182.3,276.1 183.1,277.6 183.9,279.1 184.7,280.8 185.5,282.4 186.3,284.2 187.1,286.0 187.9,287.8 188.7,289.7 189.5,291.6 190.3,293.5 191.1,295.3 191.9,297.0 192.7,298.7 193.5,300.2 194.3,301.6 195.1,302.9 195.9,304.0 196.7,304.9 197.5,305.7 198.3,306.3 199.1,306.9 199.9,307.3 200.7,307.7 201.5,307.9 202.3,308.1 203.1,308.3 203.9,308.4 204.7,308.5 205.5,308.5 206.3,308.6 207.1,308.6 207.9,308.6 208.7,308.6 209.5,308.6 210.3,308.6 211.1,308.6 211.9,308.6 212.7,308.6 213.5,308.6 214.3,308.6 215.1,308.6 215.9,308.6 216.7,308.6 217.5,308.6 218.3,308.6 219.1,308.6 219.9,308.6 220.7,308.6 221.5,308.6 222.3,308.6 223.1,308.6 223.9,308.6 224.7,308.6 225.5,308.6 226.3,308.6 227.1,308.6 227.9,308.6 228.7,308.6 229.5,308.6 230.3,308.6 231.1,308.6 231.9,308.6 232.7,308.6 233.5,308.6 234.3,308.6 235.1,308.6" fill="none" stroke="#74b6d2" stroke-width="1.0" stroke-linejoin="round"/>
<line x1="81.20" y1="254.46" x2="89.60" y2="254.46" stroke="#db9d68" stroke-width="1.0"/>
<polyline points="94.3,254.5 95.1,254.6 95.9,254.6 96.7,254.6 97.5,254.7 98.3,254.7 99.1,254.7 99.9,254.8 100.7,254.8 101.5,254.8 102.3,254.9 103.1,254.9 103.9,255.0 104.7,255.0 105.5,255.0 106.3,255.1 107.1,255.1 107.9,255.1 108.7,255.2 109.5,255.2 110.3,255.2 111.1,255.3 111.9,255.3 112.7,255.4 113.5,255.4 114.3,255.4 115.1,255.5 115.9,255.5 116.7,255.5 117.5,255.6 118.3,255.6 119.1,255.6 119.9,255.7 120.7,255.7 121.5,255.7 122.3,255.8 123.1,255.8 123.9,255.8 124.7,255.9 125.5,255.9 126.3,256.0 127.1,256.0 127.9,256.0 128.7,256.1 129.5,256.1 130.3,256.2 131.1,256.2 131.9,256.2 132.7,256.3 133.5,256.3 134.3,256.4 135.1,256.4 135.9,256.5 136.7,256.5 137.5,256.6 138.3,256.6 139.1,256.7 139.9,256.8 140.7,256.8 141.5,256.9 142.3,256.9 143.1,257.0 143.9,257.1 144.7,257.1 145.5,257.2 146.3,257.3 147.1,257.3 147.9,257.4 148.7,257.5 149.5,257.6 150.3,257.7 151.1,257.7 151.9,257.8 152.7,257.9 153.5,258.1 154.3,258.2 155.1,258.3 155.9,258.5 156.7,258.6 157.5,258.8 158.3,259.0 159.1,259.2 159.9,259.4 160.7,259.6 161.5,259.9 162.3,260.1 163.1,260.4 163.9,260.6 164.7,260.9 165.5,261.1 166.3,261.4 167.1,261.7 167.9,262.0 168.7,262.3 169.5,262.7 170.3,263.0 171.1,263.4 171.9,263.8 172.7,264.2 173.5,264.7 174.3,265.2 175.1,265.7 175.9,266.3 176.7,266.9 177.5,267.6 178.3,268.3 179.1,269.0 179.9,269.8 180.7,270.6 181.5,271.4 182.3,272.2 183.1,273.0 183.9,273.9 184.7,274.8 185.5,275.7 186.3,276.6 187.1,277.5 187.9,278.4 188.7,279.3 189.5,280.3 190.3,281.3 191.1,282.3 191.9,283.3 192.7,284.3 193.5,285.4 194.3,286.4 195.1,287.5 195.9,288.7 196.7,289.8 197.5,291.0 198.3,292.1 199.1,293.3 199.9,294.5 200.7,295.7 201.5,296.9 202.3,298.1 203.1,299.3 203.9,300.4 204.7,301.5 205.5,302.6 206.3,303.7 207.1,304.6 207.9,305.5 208.7,306.4 209.5,307.1 210.3,307.8 211.1,308.4 211.9,308.9 212.7,309.3 213.5,309.7 214.3,310.0 215.1,310.3 215.9,310.5 216.7,310.6 217.5,310.7 218.3,310.8 219.1,310.9 219.9,311.0 220.7,311.0 221.5,311.1 222.3,311.1 223.1,311.1 223.9,311.1 224.7,311.2 225.5,311.2 226.3,311.2 227.1,311.2 227.9,311.3 228.7,311.3 229.5,311.3 230.3,311.3 231.1,311.3 231.9,311.4 232.7,311.4 233.5,311.4 234.3,311.4 235.1,311.4" fill="none" stroke="#db9d68" stroke-width="1.0" stroke-linejoin="round"/>
<line x1="81.20" y1="252.34" x2="89.60" y2="252.34" stroke="#ba5165" stroke-width="1.0"/>
<polyline points="94.3,252.4 95.1,252.5 95.9,252.5 96.7,252.5 97.5,252.6 98.3,252.6 99.1,252.7 99.9,252.7 100.7,252.8 101.5,252.9 102.3,252.9 103.1,253.0 103.9,253.0 104.7,253.0 105.5,253.1 106.3,253.1 107.1,253.2 107.9,253.2 108.7,253.3 109.5,253.3 110.3,253.3 111.1,253.4 111.9,253.4 112.7,253.5 113.5,253.5 114.3,253.5 115.1,253.6 115.9,253.6 116.7,253.7 117.5,253.7 118.3,253.8 119.1,253.8 119.9,253.8 120.7,253.9 121.5,253.9 122.3,254.0 123.1,254.0 123.9,254.1 124.7,254.1 125.5,254.2 126.3,254.2 127.1,254.3 127.9,254.3 128.7,254.4 129.5,254.4 130.3,254.5 131.1,254.5 131.9,254.6 132.7,254.7 133.5,254.7 134.3,254.8 135.1,254.9 135.9,254.9 136.7,255.0 137.5,255.1 138.3,255.2 139.1,255.2 139.9,255.3 140.7,255.4 141.5,255.5 142.3,255.6 143.1,255.7 143.9,255.8 144.7,255.9 145.5,256.0 146.3,256.1 147.1,256.2 147.9,256.3 148.7,256.5 149.5,256.6 150.3,256.7 151.1,256.9 151.9,257.1 152.7,257.3 153.5,257.6 154.3,257.9 155.1,258.2 155.9,258.6 156.7,259.0 157.5,259.5 158.3,260.0 159.1,260.5 159.9,261.1 160.7,261.6 161.5,262.2 162.3,262.8 163.1,263.4 163.9,263.9 164.7,264.5 165.5,265.1 166.3,265.7 167.1,266.4 167.9,267.0 168.7,267.7 169.5,268.4 170.3,269.1 171.1,269.9 171.9,270.8 172.7,271.7 173.5,272.7 174.3,273.7 175.1,274.8 175.9,276.0 176.7,277.3 177.5,278.6 178.3,280.0 179.1,281.4 179.9,282.8 180.7,284.3 181.5,285.7 182.3,287.1 183.1,288.6 183.9,290.0 184.7,291.4 185.5,292.7 186.3,294.1 187.1,295.4 187.9,296.6 188.7,297.9 189.5,299.0 190.3,300.2 191.1,301.3 191.9,302.3 192.7,303.3 193.5,304.3 194.3,305.2 195.1,306.0 195.9,306.8 196.7,307.5 197.5,308.2 198.3,308.8 199.1,309.3 199.9,309.8 200.7,310.2 201.5,310.5 202.3,310.8 203.1,311.1 203.9,311.3 204.7,311.4 205.5,311.6 206.3,311.7 207.1,311.8 207.9,311.9 208.7,311.9 209.5,312.0 210.3,312.0 211.1,312.1 211.9,312.1 212.7,312.2 213.5,312.2 214.3,312.2 215.1,312.2 215.9,312.3 216.7,312.3 217.5,312.3 218.3,312.3 219.1,312.3 219.9,312.3 220.7,312.3 221.5,312.4 222.3,312.4 223.1,312.4 223.9,312.4 224.7,312.4 225.5,312.4 226.3,312.4 227.1,312.4 227.9,312.4 228.7,312.4 229.5,312.4 230.3,312.5 231.1,312.5 231.9,312.5 232.7,312.5 233.5,312.5 234.3,312.5 235.1,312.5" fill="none" stroke="#ba5165" stroke-width="1.0" stroke-linejoin="round"/>
<line x1="81.20" y1="251.63" x2="89.60" y2="251.63" stroke="#68ae7d" stroke-width="1.0"/>
<polyline points="94.3,251.7 95.1,251.8 95.9,251.8 96.7,251.9 97.5,252.0 98.3,252.0 99.1,252.1 99.9,252.2 100.7,252.2 101.5,252.3 102.3,252.4 103.1,252.4 103.9,252.5 104.7,252.6 105.5,252.6 106.3,252.7 107.1,252.7 107.9,252.8 108.7,252.9 109.5,252.9 110.3,253.0 111.1,253.1 111.9,253.1 112.7,253.2 113.5,253.2 114.3,253.3 115.1,253.3 115.9,253.4 116.7,253.5 117.5,253.5 118.3,253.6 119.1,253.6 119.9,253.7 120.7,253.8 121.5,253.8 122.3,253.9 123.1,254.0 123.9,254.0 124.7,254.1 125.5,254.2 126.3,254.2 127.1,254.3 127.9,254.4 128.7,254.4 129.5,254.5 130.3,254.6 131.1,254.7 131.9,254.7 132.7,254.8 133.5,254.9 134.3,255.0 135.1,255.0 135.9,255.1 136.7,255.2 137.5,255.3 138.3,255.4 139.1,255.5 139.9,255.6 140.7,255.7 141.5,255.8 142.3,255.9 143.1,256.0 143.9,256.1 144.7,256.2 145.5,256.3 146.3,256.4 147.1,256.6 147.9,256.7 148.7,256.8 149.5,256.9 150.3,257.1 151.1,257.2 151.9,257.4 152.7,257.5 153.5,257.7 154.3,257.9 155.1,258.1 155.9,258.3 156.7,258.6 157.5,258.9 158.3,259.2 159.1,259.6 159.9,260.1 160.7,260.6 161.5,261.1 162.3,261.7 163.1,262.4 163.9,263.2 164.7,264.0 165.5,264.8 166.3,265.8 167.1,266.7 167.9,267.7 168.7,268.8 169.5,269.9 170.3,271.0 171.1,272.2 171.9,273.4 172.7,274.7 173.5,275.9 174.3,277.3 175.1,278.6 175.9,280.0 176.7,281.5 177.5,282.9 178.3,284.4 179.1,286.0 179.9,287.5 180.7,289.0 181.5,290.5 182.3,292.0 183.1,293.4 183.9,294.9 184.7,296.3 185.5,297.7 186.3,299.1 187.1,300.5 187.9,301.8 188.7,303.1 189.5,304.3 190.3,305.5 191.1,306.6 191.9,307.7 192.7,308.6 193.5,309.5 194.3,310.2 195.1,310.9 195.9,311.5 196.7,312.0 197.5,312.4 198.3,312.7 199.1,313.0 199.9,313.2 200.7,313.4 201.5,313.5 202.3,313.6 203.1,313.7 203.9,313.7 204.7,313.8 205.5,313.8 206.3,313.8 207.1,313.8 207.9,313.9 208.7,313.9 209.5,313.9 210.3,313.9 211.1,314.0 211.9,314.0 212.7,314.0 213.5,314.0 214.3,314.0 215.1,314.0 215.9,314.0 216.7,314.1 217.5,314.1 218.3,314.1 219.1,314.1 219.9,314.1 220.7,314.1 221.5,314.1 222.3,314.1 223.1,314.1 223.9,314.1 224.7,314.1 225.5,314.2 226.3,314.2 227.1,314.2 227.9,314.2 228.7,314.2 229.5,314.2 230.3,314.2 231.1,314.2 231.9,314.2 232.7,314.2 233.5,314.3 234.3,314.3 235.1,314.3" fill="none" stroke="#68ae7d" stroke-width="1.0" stroke-linejoin="round"/>
<line x1="81.20" y1="250.92" x2="89.60" y2="250.92" stroke="#1f3560" stroke-width="1.2"/>
<polyline points="94.3,251.5 95.1,251.5 95.9,251.6 96.7,251.6 97.5,251.6 98.3,251.6 99.1,251.6 99.9,251.7 100.7,251.7 101.5,251.7 102.3,251.7 103.1,251.7 103.9,251.8 104.7,251.8 105.5,251.8 106.3,251.8 107.1,251.9 107.9,251.9 108.7,251.9 109.5,251.9 110.3,251.9 111.1,252.0 111.9,252.0 112.7,252.0 113.5,252.0 114.3,252.0 115.1,252.1 115.9,252.1 116.7,252.1 117.5,252.1 118.3,252.2 119.1,252.2 119.9,252.2 120.7,252.2 121.5,252.3 122.3,252.3 123.1,252.3 123.9,252.4 124.7,252.4 125.5,252.4 126.3,252.5 127.1,252.5 127.9,252.6 128.7,252.6 129.5,252.6 130.3,252.7 131.1,252.7 131.9,252.8 132.7,252.9 133.5,252.9 134.3,253.0 135.1,253.1 135.9,253.2 136.7,253.3 137.5,253.4 138.3,253.5 139.1,253.6 139.9,253.8 140.7,253.9 141.5,254.1 142.3,254.3 143.1,254.4 143.9,254.6 144.7,254.8 145.5,255.0 146.3,255.2 147.1,255.4 147.9,255.6 148.7,255.8 149.5,256.1 150.3,256.3 151.1,256.5 151.9,256.8 152.7,257.0 153.5,257.3 154.3,257.5 155.1,257.8 155.9,258.1 156.7,258.4 157.5,258.8 158.3,259.2 159.1,259.6 159.9,260.1 160.7,260.7 161.5,261.3 162.3,262.0 163.1,262.7 163.9,263.5 164.7,264.4 165.5,265.2 166.3,266.2 167.1,267.1 167.9,268.1 168.7,269.1 169.5,270.1 170.3,271.2 171.1,272.3 171.9,273.5 172.7,274.7 173.5,276.0 174.3,277.3 175.1,278.6 175.9,280.0 176.7,281.4 177.5,282.8 178.3,284.2 179.1,285.6 179.9,287.1 180.7,288.5 181.5,289.9 182.3,291.2 183.1,292.6 183.9,293.9 184.7,295.1 185.5,296.3 186.3,297.5 187.1,298.6 187.9,299.6 188.7,300.6 189.5,301.6 190.3,302.4 191.1,303.3 191.9,304.0 192.7,304.7 193.5,305.3 194.3,305.8 195.1,306.3 195.9,306.7 196.7,307.0 197.5,307.3 198.3,307.6 199.1,307.8 199.9,308.0 200.7,308.1 201.5,308.2 202.3,308.3 203.1,308.4 203.9,308.5 204.7,308.6 205.5,308.6 206.3,308.7 207.1,308.7 207.9,308.7 208.7,308.8 209.5,308.8 210.3,308.8 211.1,308.8 211.9,308.8 212.7,308.9 213.5,308.9 214.3,308.9 215.1,308.9 215.9,308.9 216.7,308.9 217.5,308.9 218.3,308.9 219.1,308.9 219.9,308.9 220.7,308.9 221.5,308.9 222.3,308.9 223.1,308.9 223.9,308.9 224.7,308.9 225.5,308.9 226.3,308.9 227.1,308.9 227.9,308.9 228.7,309.0 229.5,309.0 230.3,309.0 231.1,309.0 231.9,309.0 232.7,309.0 233.5,309.0 234.3,309.0 235.1,309.0" fill="none" stroke="#1f3560" stroke-width="1.2" stroke-linejoin="round"/>
<circle cx="174.52" cy="268.62" r="1.3" fill="#c8c5a0"/>
<circle cx="194.75" cy="297.30" r="1.3" fill="#c8c5a0"/>
<circle cx="214.98" cy="311.81" r="1.3" fill="#c8c5a0"/>
<circle cx="235.21" cy="312.52" r="1.3" fill="#c8c5a0"/>
<circle cx="154.30" cy="250.92" r="1.3" fill="#74b6d2"/>
<circle cx="174.52" cy="263.53" r="1.3" fill="#74b6d2"/>
<circle cx="194.75" cy="303.53" r="1.3" fill="#74b6d2"/>
<circle cx="214.98" cy="308.98" r="1.3" fill="#74b6d2"/>
<circle cx="235.21" cy="308.27" r="1.3" fill="#74b6d2"/>
<circle cx="113.84" cy="255.17" r="1.3" fill="#db9d68"/>
<circle cx="134.07" cy="257.30" r="1.3" fill="#db9d68"/>
<circle cx="154.30" cy="258.00" r="1.3" fill="#db9d68"/>
<circle cx="174.52" cy="266.50" r="1.3" fill="#db9d68"/>
<line x1="194.75" y1="290.71" x2="194.75" y2="282.22" stroke="#db9d68" stroke-width="0.6"/>
<line x1="193.85" y1="282.22" x2="195.65" y2="282.22" stroke="#db9d68" stroke-width="0.5"/>
<line x1="193.85" y1="290.71" x2="195.65" y2="290.71" stroke="#db9d68" stroke-width="0.5"/>
<circle cx="194.75" cy="286.47" r="1.3" fill="#db9d68"/>
<circle cx="214.98" cy="311.10" r="1.3" fill="#db9d68"/>
<circle cx="235.21" cy="311.81" r="1.3" fill="#db9d68"/>
<circle cx="134.07" cy="255.88" r="1.3" fill="#ba5165"/>
<circle cx="154.30" cy="258.00" r="1.3" fill="#ba5165"/>
<circle cx="174.52" cy="272.73" r="1.3" fill="#ba5165"/>
<circle cx="194.75" cy="305.79" r="1.3" fill="#ba5165"/>
<circle cx="214.98" cy="311.81" r="1.3" fill="#ba5165"/>
<circle cx="235.21" cy="312.02" r="1.3" fill="#ba5165"/>
<circle cx="113.84" cy="253.76" r="1.3" fill="#68ae7d"/>
<circle cx="134.07" cy="257.30" r="1.3" fill="#68ae7d"/>
<circle cx="154.30" cy="260.13" r="1.3" fill="#68ae7d"/>
<circle cx="174.52" cy="276.41" r="1.3" fill="#68ae7d"/>
<circle cx="194.75" cy="313.51" r="1.3" fill="#68ae7d"/>
<circle cx="214.98" cy="313.94" r="1.3" fill="#68ae7d"/>
<circle cx="235.21" cy="315.00" r="1.3" fill="#68ae7d"/>
<circle cx="81.60" cy="248.80" r="1.3" fill="#1f3560"/>
<line x1="113.84" y1="247.38" x2="113.84" y2="241.72" stroke="#1f3560" stroke-width="0.6"/>
<line x1="112.94" y1="241.72" x2="114.74" y2="241.72" stroke="#1f3560" stroke-width="0.5"/>
<line x1="112.94" y1="247.38" x2="114.74" y2="247.38" stroke="#1f3560" stroke-width="0.5"/>
<circle cx="113.84" cy="244.55" r="1.3" fill="#1f3560"/>
<line x1="134.07" y1="256.59" x2="134.07" y2="249.51" stroke="#1f3560" stroke-width="0.6"/>
<line x1="133.17" y1="249.51" x2="134.97" y2="249.51" stroke="#1f3560" stroke-width="0.5"/>
<line x1="133.17" y1="256.59" x2="134.97" y2="256.59" stroke="#1f3560" stroke-width="0.5"/>
<circle cx="134.07" cy="253.05" r="1.3" fill="#1f3560"/>
<circle cx="154.30" cy="262.96" r="1.3" fill="#1f3560"/>
<circle cx="174.52" cy="277.97" r="1.3" fill="#1f3560"/>
<circle cx="194.75" cy="306.50" r="1.3" fill="#1f3560"/>
<circle cx="214.98" cy="308.84" r="1.3" fill="#1f3560"/>
<circle cx="235.21" cy="307.99" r="1.3" fill="#1f3560"/>
<line x1="77.20" y1="266.60" x2="82.40" y2="266.60" stroke="#74b6d2" stroke-width="0.75" opacity="0.8"/>
<circle cx="79.80" cy="266.60" r="1.05" fill="#74b6d2"/>
<text x="86.10" y="269.10" font-size="7.2" fill="#303030" stroke="#303030" stroke-width="0.26">M34F</text>
<line x1="77.20" y1="275.80" x2="82.40" y2="275.80" stroke="#db9d68" stroke-width="0.75" opacity="0.8"/>
<circle cx="79.80" cy="275.80" r="1.05" fill="#db9d68"/>
<text x="86.10" y="278.30" font-size="7.2" fill="#303030" stroke="#303030" stroke-width="0.26">Y32F</text>
<line x1="77.20" y1="285.00" x2="82.40" y2="285.00" stroke="#c8c5a0" stroke-width="0.75" opacity="0.8"/>
<circle cx="79.80" cy="285.00" r="1.05" fill="#c8c5a0"/>
<text x="86.10" y="287.50" font-size="7.2" fill="#303030" stroke="#303030" stroke-width="0.26">N31P</text>
<line x1="77.20" y1="294.20" x2="82.40" y2="294.20" stroke="#ba5165" stroke-width="0.75" opacity="0.8"/>
<circle cx="79.80" cy="294.20" r="1.05" fill="#ba5165"/>
<text x="86.10" y="296.70" font-size="7.2" fill="#303030" stroke="#303030" stroke-width="0.26">N31I</text>
<line x1="77.20" y1="303.40" x2="82.40" y2="303.40" stroke="#1f3560" stroke-width="0.75" opacity="0.8"/>
<circle cx="79.80" cy="303.40" r="1.05" fill="#1f3560"/>
<text x="86.10" y="305.90" font-size="7.2" fill="#303030" stroke="#303030" stroke-width="0.26">TPP-26870 (parental)</text>
<line x1="77.20" y1="312.60" x2="82.40" y2="312.60" stroke="#68ae7d" stroke-width="0.75" opacity="0.8"/>
<circle cx="79.80" cy="312.60" r="1.05" fill="#68ae7d"/>
<text x="86.10" y="315.10" font-size="7.2" fill="#303030" stroke="#303030" stroke-width="0.26">N31F</text>
<text x="7.90" y="374.50" font-size="11.4" font-weight="bold" fill="#111" class="let">C</text>
<text x="162.00" y="374.60" font-size="9.6" text-anchor="middle" fill="#303030" stroke="#303030" stroke-width="0.26">CDR2</text>
<line x1="72.60" y1="379.88" x2="72.60" y2="468.00" stroke="#1a1a1a" stroke-width="1.1"/>
<line x1="69.90" y1="468.00" x2="72.60" y2="468.00" stroke="#1a1a1a" stroke-width="0.8"/>
<line x1="71.30" y1="464.48" x2="72.60" y2="464.48" stroke="#1a1a1a" stroke-width="0.8"/>
<line x1="71.30" y1="460.95" x2="72.60" y2="460.95" stroke="#1a1a1a" stroke-width="0.8"/>
<line x1="71.30" y1="457.43" x2="72.60" y2="457.43" stroke="#1a1a1a" stroke-width="0.8"/>
<line x1="71.30" y1="453.90" x2="72.60" y2="453.90" stroke="#1a1a1a" stroke-width="0.8"/>
<line x1="69.90" y1="450.38" x2="72.60" y2="450.38" stroke="#1a1a1a" stroke-width="0.8"/>
<line x1="71.30" y1="446.85" x2="72.60" y2="446.85" stroke="#1a1a1a" stroke-width="0.8"/>
<line x1="71.30" y1="443.32" x2="72.60" y2="443.32" stroke="#1a1a1a" stroke-width="0.8"/>
<line x1="71.30" y1="439.80" x2="72.60" y2="439.80" stroke="#1a1a1a" stroke-width="0.8"/>
<line x1="71.30" y1="436.27" x2="72.60" y2="436.27" stroke="#1a1a1a" stroke-width="0.8"/>
<line x1="69.90" y1="432.75" x2="72.60" y2="432.75" stroke="#1a1a1a" stroke-width="0.8"/>
<line x1="71.30" y1="429.23" x2="72.60" y2="429.23" stroke="#1a1a1a" stroke-width="0.8"/>
<line x1="71.30" y1="425.70" x2="72.60" y2="425.70" stroke="#1a1a1a" stroke-width="0.8"/>
<line x1="71.30" y1="422.18" x2="72.60" y2="422.18" stroke="#1a1a1a" stroke-width="0.8"/>
<line x1="71.30" y1="418.65" x2="72.60" y2="418.65" stroke="#1a1a1a" stroke-width="0.8"/>
<line x1="69.90" y1="415.12" x2="72.60" y2="415.12" stroke="#1a1a1a" stroke-width="0.8"/>
<line x1="71.30" y1="411.60" x2="72.60" y2="411.60" stroke="#1a1a1a" stroke-width="0.8"/>
<line x1="71.30" y1="408.07" x2="72.60" y2="408.07" stroke="#1a1a1a" stroke-width="0.8"/>
<line x1="71.30" y1="404.55" x2="72.60" y2="404.55" stroke="#1a1a1a" stroke-width="0.8"/>
<line x1="71.30" y1="401.02" x2="72.60" y2="401.02" stroke="#1a1a1a" stroke-width="0.8"/>
<line x1="69.90" y1="397.50" x2="72.60" y2="397.50" stroke="#1a1a1a" stroke-width="0.8"/>
<line x1="71.30" y1="393.98" x2="72.60" y2="393.98" stroke="#1a1a1a" stroke-width="0.8"/>
<line x1="71.30" y1="390.45" x2="72.60" y2="390.45" stroke="#1a1a1a" stroke-width="0.8"/>
<line x1="71.30" y1="386.93" x2="72.60" y2="386.93" stroke="#1a1a1a" stroke-width="0.8"/>
<line x1="71.30" y1="383.40" x2="72.60" y2="383.40" stroke="#1a1a1a" stroke-width="0.8"/>
<line x1="69.90" y1="379.88" x2="72.60" y2="379.88" stroke="#1a1a1a" stroke-width="0.8"/>
<text x="66.60" y="470.80" font-size="7.9" text-anchor="end" fill="#333" stroke="#333" stroke-width="0.16">0</text>
<text x="66.60" y="453.18" font-size="7.9" text-anchor="end" fill="#333" stroke="#333" stroke-width="0.16">25</text>
<text x="66.60" y="435.55" font-size="7.9" text-anchor="end" fill="#333" stroke="#333" stroke-width="0.16">50</text>
<text x="66.60" y="417.93" font-size="7.9" text-anchor="end" fill="#333" stroke="#333" stroke-width="0.16">75</text>
<text x="66.60" y="400.30" font-size="7.9" text-anchor="end" fill="#333" stroke="#333" stroke-width="0.16">100</text>
<line x1="71.50" y1="468.00" x2="89.90" y2="468.00" stroke="#1a1a1a" stroke-width="1.2"/>
<line x1="93.60" y1="468.00" x2="251.00" y2="468.00" stroke="#1a1a1a" stroke-width="1.2"/>
<line x1="89.90" y1="465.80" x2="89.90" y2="470.20" stroke="#1a1a1a" stroke-width="0.9"/>
<line x1="93.60" y1="465.80" x2="93.60" y2="470.20" stroke="#1a1a1a" stroke-width="0.9"/>
<line x1="81.60" y1="468.00" x2="81.60" y2="470.60" stroke="#1a1a1a" stroke-width="0.9"/>
<line x1="94.30" y1="468.00" x2="94.30" y2="470.60" stroke="#1a1a1a" stroke-width="0.8"/>
<line x1="114.53" y1="468.00" x2="114.53" y2="469.40" stroke="#1a1a1a" stroke-width="0.8"/>
<line x1="126.36" y1="468.00" x2="126.36" y2="469.40" stroke="#1a1a1a" stroke-width="0.8"/>
<line x1="134.76" y1="468.00" x2="134.76" y2="469.40" stroke="#1a1a1a" stroke-width="0.8"/>
<line x1="141.27" y1="468.00" x2="141.27" y2="469.40" stroke="#1a1a1a" stroke-width="0.8"/>
<line x1="146.59" y1="468.00" x2="146.59" y2="469.40" stroke="#1a1a1a" stroke-width="0.8"/>
<line x1="151.09" y1="468.00" x2="151.09" y2="469.40" stroke="#1a1a1a" stroke-width="0.8"/>
<line x1="154.99" y1="468.00" x2="154.99" y2="469.40" stroke="#1a1a1a" stroke-width="0.8"/>
<line x1="158.43" y1="468.00" x2="158.43" y2="469.40" stroke="#1a1a1a" stroke-width="0.8"/>
<line x1="161.50" y1="468.00" x2="161.50" y2="470.60" stroke="#1a1a1a" stroke-width="0.8"/>
<line x1="181.73" y1="468.00" x2="181.73" y2="469.40" stroke="#1a1a1a" stroke-width="0.8"/>
<line x1="193.56" y1="468.00" x2="193.56" y2="469.40" stroke="#1a1a1a" stroke-width="0.8"/>
<line x1="201.96" y1="468.00" x2="201.96" y2="469.40" stroke="#1a1a1a" stroke-width="0.8"/>
<line x1="208.47" y1="468.00" x2="208.47" y2="469.40" stroke="#1a1a1a" stroke-width="0.8"/>
<line x1="213.79" y1="468.00" x2="213.79" y2="469.40" stroke="#1a1a1a" stroke-width="0.8"/>
<line x1="218.29" y1="468.00" x2="218.29" y2="469.40" stroke="#1a1a1a" stroke-width="0.8"/>
<line x1="222.19" y1="468.00" x2="222.19" y2="469.40" stroke="#1a1a1a" stroke-width="0.8"/>
<line x1="225.63" y1="468.00" x2="225.63" y2="469.40" stroke="#1a1a1a" stroke-width="0.8"/>
<line x1="228.70" y1="468.00" x2="228.70" y2="470.60" stroke="#1a1a1a" stroke-width="0.8"/>
<line x1="248.93" y1="468.00" x2="248.93" y2="469.40" stroke="#1a1a1a" stroke-width="0.8"/>
<text x="81.60" y="480.90" font-size="7.7" text-anchor="middle" fill="#333" stroke="#333" stroke-width="0.16">0</text>
<text x="94.30" y="480.90" font-size="7.7" text-anchor="middle" fill="#333" stroke="#333" stroke-width="0.16">1</text>
<text x="161.50" y="480.90" font-size="7.7" text-anchor="middle" fill="#333" stroke="#333" stroke-width="0.16">10</text>
<text x="228.70" y="480.90" font-size="7.7" text-anchor="middle" fill="#333" stroke="#333" stroke-width="0.16">100</text>
<text x="162.00" y="494.30" font-size="8.8" text-anchor="middle" fill="#303030" textLength="41.8" lengthAdjust="spacingAndGlyphs" class="cond">Antibody (nM)</text>
<text transform="translate(36.00,424.80) rotate(-90)" x="0" y="0" font-size="9.3" text-anchor="middle" fill="#303030" textLength="66.8" lengthAdjust="spacingAndGlyphs" class="cond">Normalized SEAP-PAR1</text>
<text transform="translate(47.60,424.80) rotate(-90)" x="0" y="0" font-size="9.3" text-anchor="middle" fill="#303030" textLength="38.4" lengthAdjust="spacingAndGlyphs" class="cond">cleavage (%)</text>
<line x1="81.20" y1="397.92" x2="89.60" y2="397.92" stroke="#adaaca" stroke-width="1.0"/>
<polyline points="94.3,397.9 95.1,397.9 95.9,397.9 96.7,397.9 97.5,397.9 98.3,397.9 99.1,397.9 99.9,398.0 100.7,398.0 101.5,398.0 102.3,398.0 103.1,398.0 103.9,398.0 104.7,398.0 105.5,398.0 106.3,398.0 107.1,398.0 107.9,398.0 108.7,398.0 109.5,398.0 110.3,398.0 111.1,398.0 111.9,398.0 112.7,398.0 113.5,398.0 114.3,398.0 115.1,398.0 115.9,398.0 116.7,398.0 117.5,398.0 118.3,398.0 119.1,398.0 119.9,398.0 120.7,398.0 121.5,398.0 122.3,398.0 123.1,398.0 123.9,398.0 124.7,398.0 125.5,398.0 126.3,398.0 127.1,398.0 127.9,398.0 128.7,398.0 129.5,398.0 130.3,398.0 131.1,398.1 131.9,398.1 132.7,398.1 133.5,398.1 134.3,398.1 135.1,398.1 135.9,398.1 136.7,398.1 137.5,398.1 138.3,398.1 139.1,398.1 139.9,398.1 140.7,398.1 141.5,398.1 142.3,398.1 143.1,398.1 143.9,398.1 144.7,398.2 145.5,398.2 146.3,398.2 147.1,398.2 147.9,398.2 148.7,398.2 149.5,398.2 150.3,398.2 151.1,398.2 151.9,398.3 152.7,398.3 153.5,398.4 154.3,398.5 155.1,398.6 155.9,398.8 156.7,399.0 157.5,399.3 158.3,399.7 159.1,400.0 159.9,400.5 160.7,401.0 161.5,401.6 162.3,402.3 163.1,403.0 163.9,403.7 164.7,404.6 165.5,405.4 166.3,406.4 167.1,407.4 167.9,408.4 168.7,409.5 169.5,410.6 170.3,411.8 171.1,413.0 171.9,414.3 172.7,415.6 173.5,417.0 174.3,418.5 175.1,420.0 175.9,421.6 176.7,423.2 177.5,424.8 178.3,426.5 179.1,428.2 179.9,429.9 180.7,431.5 181.5,433.2 182.3,434.8 183.1,436.4 183.9,437.9 184.7,439.3 185.5,440.7 186.3,442.0 187.1,443.2 187.9,444.4 188.7,445.5 189.5,446.5 190.3,447.4 191.1,448.2 191.9,448.9 192.7,449.6 193.5,450.1 194.3,450.6 195.1,451.0 195.9,451.3 196.7,451.5 197.5,451.7 198.3,451.8 199.1,451.9 199.9,452.0 200.7,452.1 201.5,452.1 202.3,452.1 203.1,452.2 203.9,452.2 204.7,452.2 205.5,452.2 206.3,452.2 207.1,452.2 207.9,452.2 208.7,452.2 209.5,452.2 210.3,452.2 211.1,452.2 211.9,452.2 212.7,452.2 213.5,452.2 214.3,452.2 215.1,452.2 215.9,452.2 216.7,452.2 217.5,452.2 218.3,452.2 219.1,452.2 219.9,452.2 220.7,452.2 221.5,452.2 222.3,452.2 223.1,452.2 223.9,452.2 224.7,452.3 225.5,452.3 226.3,452.3 227.1,452.3 227.9,452.3 228.7,452.3 229.5,452.3 230.3,452.3 231.1,452.3 231.9,452.3 232.7,452.3 233.5,452.3 234.3,452.3 235.1,452.3" fill="none" stroke="#adaaca" stroke-width="1.0" stroke-linejoin="round"/>
<line x1="81.20" y1="398.91" x2="89.60" y2="398.91" stroke="#5879a1" stroke-width="1.0"/>
<polyline points="94.3,398.6 95.1,398.6 95.9,398.7 96.7,398.7 97.5,398.7 98.3,398.8 99.1,398.8 99.9,398.8 100.7,398.9 101.5,398.9 102.3,398.9 103.1,399.0 103.9,399.0 104.7,399.0 105.5,399.1 106.3,399.1 107.1,399.1 107.9,399.2 108.7,399.2 109.5,399.2 110.3,399.3 111.1,399.3 111.9,399.3 112.7,399.4 113.5,399.4 114.3,399.4 115.1,399.5 115.9,399.5 116.7,399.5 117.5,399.6 118.3,399.6 119.1,399.7 119.9,399.7 120.7,399.7 121.5,399.8 122.3,399.8 123.1,399.9 123.9,399.9 124.7,400.0 125.5,400.0 126.3,400.1 127.1,400.1 127.9,400.2 128.7,400.3 129.5,400.3 130.3,400.4 131.1,400.4 131.9,400.5 132.7,400.6 133.5,400.7 134.3,400.8 135.1,400.9 135.9,401.0 136.7,401.1 137.5,401.2 138.3,401.3 139.1,401.4 139.9,401.6 140.7,401.7 141.5,401.9 142.3,402.1 143.1,402.3 143.9,402.5 144.7,402.7 145.5,402.9 146.3,403.1 147.1,403.3 147.9,403.6 148.7,403.8 149.5,404.1 150.3,404.4 151.1,404.7 151.9,405.0 152.7,405.3 153.5,405.7 154.3,406.1 155.1,406.5 155.9,407.0 156.7,407.5 157.5,408.0 158.3,408.6 159.1,409.2 159.9,409.8 160.7,410.5 161.5,411.1 162.3,411.8 163.1,412.5 163.9,413.2 164.7,413.9 165.5,414.6 166.3,415.3 167.1,416.1 167.9,416.9 168.7,417.7 169.5,418.5 170.3,419.4 171.1,420.3 171.9,421.2 172.7,422.2 173.5,423.3 174.3,424.4 175.1,425.6 175.9,426.9 176.7,428.2 177.5,429.7 178.3,431.2 179.1,432.7 179.9,434.3 180.7,435.9 181.5,437.5 182.3,439.0 183.1,440.5 183.9,441.9 184.7,443.3 185.5,444.6 186.3,445.7 187.1,446.9 187.9,447.9 188.7,448.9 189.5,449.8 190.3,450.6 191.1,451.3 191.9,452.0 192.7,452.7 193.5,453.2 194.3,453.7 195.1,454.2 195.9,454.6 196.7,455.0 197.5,455.3 198.3,455.6 199.1,455.8 199.9,456.1 200.7,456.3 201.5,456.5 202.3,456.6 203.1,456.7 203.9,456.8 204.7,456.9 205.5,457.0 206.3,457.1 207.1,457.1 207.9,457.1 208.7,457.1 209.5,457.2 210.3,457.2 211.1,457.2 211.9,457.2 212.7,457.2 213.5,457.2 214.3,457.2 215.1,457.3 215.9,457.3 216.7,457.3 217.5,457.3 218.3,457.3 219.1,457.3 219.9,457.3 220.7,457.3 221.5,457.3 222.3,457.3 223.1,457.3 223.9,457.3 224.7,457.3 225.5,457.3 226.3,457.3 227.1,457.4 227.9,457.4 228.7,457.4 229.5,457.4 230.3,457.4 231.1,457.4 231.9,457.4 232.7,457.4 233.5,457.4 234.3,457.4 235.1,457.4" fill="none" stroke="#5879a1" stroke-width="1.0" stroke-linejoin="round"/>
<line x1="81.20" y1="405.61" x2="89.60" y2="405.61" stroke="#877665" stroke-width="1.0"/>
<polyline points="94.3,406.8 95.1,406.8 95.9,406.8 96.7,406.8 97.5,406.9 98.3,406.9 99.1,406.9 99.9,406.9 100.7,407.0 101.5,407.0 102.3,407.0 103.1,407.0 103.9,407.0 104.7,407.1 105.5,407.1 106.3,407.1 107.1,407.1 107.9,407.2 108.7,407.2 109.5,407.2 110.3,407.2 111.1,407.3 111.9,407.3 112.7,407.3 113.5,407.3 114.3,407.4 115.1,407.4 115.9,407.4 116.7,407.4 117.5,407.5 118.3,407.5 119.1,407.5 119.9,407.5 120.7,407.6 121.5,407.6 122.3,407.6 123.1,407.7 123.9,407.7 124.7,407.8 125.5,407.8 126.3,407.8 127.1,407.9 127.9,407.9 128.7,408.0 129.5,408.0 130.3,408.1 131.1,408.1 131.9,408.2 132.7,408.2 133.5,408.3 134.3,408.4 135.1,408.5 135.9,408.6 136.7,408.7 137.5,408.8 138.3,408.9 139.1,409.0 139.9,409.2 140.7,409.3 141.5,409.5 142.3,409.7 143.1,409.9 143.9,410.1 144.7,410.3 145.5,410.5 146.3,410.7 147.1,411.0 147.9,411.2 148.7,411.5 149.5,411.8 150.3,412.1 151.1,412.4 151.9,412.7 152.7,413.1 153.5,413.5 154.3,413.9 155.1,414.3 155.9,414.8 156.7,415.3 157.5,415.9 158.3,416.4 159.1,417.0 159.9,417.5 160.7,418.1 161.5,418.6 162.3,419.1 163.1,419.6 163.9,420.1 164.7,420.6 165.5,421.1 166.3,421.6 167.1,422.1 167.9,422.6 168.7,423.2 169.5,423.7 170.3,424.3 171.1,425.0 171.9,425.6 172.7,426.3 173.5,427.0 174.3,427.8 175.1,428.5 175.9,429.3 176.7,430.2 177.5,431.1 178.3,432.0 179.1,432.9 179.9,433.9 180.7,434.8 181.5,435.8 182.3,436.8 183.1,437.8 183.9,438.8 184.7,439.8 185.5,440.8 186.3,441.8 187.1,442.8 187.9,443.8 188.7,444.7 189.5,445.7 190.3,446.7 191.1,447.6 191.9,448.5 192.7,449.4 193.5,450.2 194.3,451.0 195.1,451.8 195.9,452.5 196.7,453.1 197.5,453.8 198.3,454.4 199.1,454.9 199.9,455.5 200.7,456.0 201.5,456.4 202.3,456.9 203.1,457.3 203.9,457.7 204.7,458.1 205.5,458.5 206.3,458.9 207.1,459.2 207.9,459.5 208.7,459.8 209.5,460.1 210.3,460.4 211.1,460.6 211.9,460.8 212.7,461.0 213.5,461.2 214.3,461.3 215.1,461.4 215.9,461.5 216.7,461.6 217.5,461.6 218.3,461.7 219.1,461.7 219.9,461.8 220.7,461.8 221.5,461.8 222.3,461.9 223.1,461.9 223.9,461.9 224.7,461.9 225.5,462.0 226.3,462.0 227.1,462.0 227.9,462.0 228.7,462.0 229.5,462.1 230.3,462.1 231.1,462.1 231.9,462.1 232.7,462.1 233.5,462.2 234.3,462.2 235.1,462.2" fill="none" stroke="#877665" stroke-width="1.0" stroke-linejoin="round"/>
<line x1="81.20" y1="399.62" x2="89.60" y2="399.62" stroke="#cfbd4d" stroke-width="1.0"/>
<polyline points="94.3,401.5 95.1,401.5 95.9,401.6 96.7,401.6 97.5,401.6 98.3,401.7 99.1,401.7 99.9,401.7 100.7,401.8 101.5,401.8 102.3,401.8 103.1,401.9 103.9,401.9 104.7,402.0 105.5,402.0 106.3,402.0 107.1,402.1 107.9,402.1 108.7,402.1 109.5,402.2 110.3,402.2 111.1,402.2 111.9,402.3 112.7,402.3 113.5,402.3 114.3,402.4 115.1,402.4 115.9,402.5 116.7,402.5 117.5,402.5 118.3,402.6 119.1,402.6 119.9,402.7 120.7,402.7 121.5,402.8 122.3,402.8 123.1,402.9 123.9,402.9 124.7,403.0 125.5,403.0 126.3,403.1 127.1,403.2 127.9,403.2 128.7,403.3 129.5,403.4 130.3,403.4 131.1,403.5 131.9,403.6 132.7,403.7 133.5,403.8 134.3,403.9 135.1,404.0 135.9,404.2 136.7,404.3 137.5,404.5 138.3,404.7 139.1,404.9 139.9,405.1 140.7,405.3 141.5,405.6 142.3,405.9 143.1,406.1 143.9,406.4 144.7,406.8 145.5,407.1 146.3,407.4 147.1,407.8 147.9,408.1 148.7,408.5 149.5,408.9 150.3,409.3 151.1,409.7 151.9,410.1 152.7,410.5 153.5,411.0 154.3,411.5 155.1,412.0 155.9,412.6 156.7,413.2 157.5,413.8 158.3,414.4 159.1,415.1 159.9,415.8 160.7,416.5 161.5,417.2 162.3,417.9 163.1,418.6 163.9,419.3 164.7,420.0 165.5,420.8 166.3,421.5 167.1,422.3 167.9,423.1 168.7,423.8 169.5,424.6 170.3,425.4 171.1,426.3 171.9,427.1 172.7,428.0 173.5,428.9 174.3,429.9 175.1,430.9 175.9,431.9 176.7,433.0 177.5,434.1 178.3,435.2 179.1,436.4 179.9,437.6 180.7,438.8 181.5,440.0 182.3,441.2 183.1,442.4 183.9,443.5 184.7,444.7 185.5,445.8 186.3,446.9 187.1,448.0 187.9,449.0 188.7,450.0 189.5,451.0 190.3,451.9 191.1,452.7 191.9,453.5 192.7,454.2 193.5,454.8 194.3,455.3 195.1,455.7 195.9,456.1 196.7,456.4 197.5,456.6 198.3,456.8 199.1,457.0 199.9,457.1 200.7,457.2 201.5,457.3 202.3,457.3 203.1,457.4 203.9,457.4 204.7,457.4 205.5,457.5 206.3,457.5 207.1,457.5 207.9,457.5 208.7,457.5 209.5,457.5 210.3,457.5 211.1,457.5 211.9,457.5 212.7,457.5 213.5,457.5 214.3,457.5 215.1,457.5 215.9,457.6 216.7,457.6 217.5,457.6 218.3,457.6 219.1,457.6 219.9,457.6 220.7,457.6 221.5,457.6 222.3,457.6 223.1,457.6 223.9,457.6 224.7,457.6 225.5,457.6 226.3,457.6 227.1,457.6 227.9,457.6 228.7,457.6 229.5,457.6 230.3,457.6 231.1,457.6 231.9,457.6 232.7,457.6 233.5,457.6 234.3,457.6 235.1,457.6" fill="none" stroke="#cfbd4d" stroke-width="1.0" stroke-linejoin="round"/>
<line x1="81.20" y1="398.70" x2="89.60" y2="398.70" stroke="#1f3560" stroke-width="1.2"/>
<polyline points="94.3,399.9 95.1,400.0 95.9,400.0 96.7,400.0 97.5,400.0 98.3,400.0 99.1,400.1 99.9,400.1 100.7,400.1 101.5,400.1 102.3,400.2 103.1,400.2 103.9,400.2 104.7,400.2 105.5,400.3 106.3,400.3 107.1,400.3 107.9,400.3 108.7,400.4 109.5,400.4 110.3,400.4 111.1,400.4 111.9,400.4 112.7,400.5 113.5,400.5 114.3,400.5 115.1,400.5 115.9,400.6 116.7,400.6 117.5,400.6 118.3,400.7 119.1,400.7 119.9,400.7 120.7,400.7 121.5,400.8 122.3,400.8 123.1,400.9 123.9,400.9 124.7,400.9 125.5,401.0 126.3,401.0 127.1,401.0 127.9,401.1 128.7,401.1 129.5,401.2 130.3,401.2 131.1,401.3 131.9,401.3 132.7,401.4 133.5,401.5 134.3,401.5 135.1,401.6 135.9,401.7 136.7,401.8 137.5,401.9 138.3,402.0 139.1,402.1 139.9,402.2 140.7,402.3 141.5,402.5 142.3,402.6 143.1,402.8 143.9,402.9 144.7,403.1 145.5,403.3 146.3,403.5 147.1,403.7 147.9,403.9 148.7,404.1 149.5,404.4 150.3,404.6 151.1,404.9 151.9,405.2 152.7,405.5 153.5,405.9 154.3,406.2 155.1,406.7 155.9,407.2 156.7,407.7 157.5,408.2 158.3,408.8 159.1,409.4 159.9,410.0 160.7,410.7 161.5,411.3 162.3,411.9 163.1,412.5 163.9,413.2 164.7,413.8 165.5,414.5 166.3,415.2 167.1,415.9 167.9,416.6 168.7,417.4 169.5,418.2 170.3,419.1 171.1,419.9 171.9,420.9 172.7,421.9 173.5,423.0 174.3,424.1 175.1,425.3 175.9,426.6 176.7,428.0 177.5,429.4 178.3,430.8 179.1,432.3 179.9,433.8 180.7,435.3 181.5,436.8 182.3,438.3 183.1,439.8 183.9,441.2 184.7,442.5 185.5,443.8 186.3,445.1 187.1,446.2 187.9,447.3 188.7,448.3 189.5,449.2 190.3,450.1 191.1,450.9 191.9,451.6 192.7,452.2 193.5,452.8 194.3,453.3 195.1,453.8 195.9,454.1 196.7,454.5 197.5,454.8 198.3,455.0 199.1,455.3 199.9,455.5 200.7,455.7 201.5,455.9 202.3,456.0 203.1,456.2 203.9,456.4 204.7,456.5 205.5,456.6 206.3,456.8 207.1,456.9 207.9,457.0 208.7,457.1 209.5,457.2 210.3,457.2 211.1,457.3 211.9,457.4 212.7,457.4 213.5,457.4 214.3,457.4 215.1,457.5 215.9,457.5 216.7,457.5 217.5,457.5 218.3,457.5 219.1,457.5 219.9,457.5 220.7,457.5 221.5,457.5 222.3,457.5 223.1,457.6 223.9,457.6 224.7,457.6 225.5,457.6 226.3,457.6 227.1,457.6 227.9,457.6 228.7,457.6 229.5,457.6 230.3,457.6 231.1,457.6 231.9,457.6 232.7,457.6 233.5,457.6 234.3,457.6 235.1,457.6" fill="none" stroke="#1f3560" stroke-width="1.2" stroke-linejoin="round"/>
<circle cx="134.07" cy="387.63" r="1.3" fill="#adaaca"/>
<circle cx="154.30" cy="403.85" r="1.3" fill="#adaaca"/>
<circle cx="174.52" cy="417.80" r="1.3" fill="#adaaca"/>
<circle cx="194.75" cy="450.80" r="1.3" fill="#adaaca"/>
<circle cx="214.98" cy="451.86" r="1.3" fill="#adaaca"/>
<circle cx="235.21" cy="452.77" r="1.3" fill="#adaaca"/>
<circle cx="113.84" cy="409.84" r="1.3" fill="#5879a1"/>
<circle cx="134.07" cy="407.58" r="1.3" fill="#5879a1"/>
<circle cx="154.30" cy="403.85" r="1.3" fill="#5879a1"/>
<line x1="174.52" y1="441.21" x2="174.52" y2="427.11" stroke="#5879a1" stroke-width="0.6"/>
<line x1="173.62" y1="427.11" x2="175.42" y2="427.11" stroke="#5879a1" stroke-width="0.5"/>
<line x1="173.62" y1="441.21" x2="175.42" y2="441.21" stroke="#5879a1" stroke-width="0.5"/>
<circle cx="174.52" cy="434.16" r="1.3" fill="#5879a1"/>
<circle cx="194.75" cy="453.90" r="1.3" fill="#5879a1"/>
<circle cx="214.98" cy="458.41" r="1.3" fill="#5879a1"/>
<circle cx="235.21" cy="458.13" r="1.3" fill="#5879a1"/>
<circle cx="113.84" cy="395.38" r="1.3" fill="#877665"/>
<circle cx="134.07" cy="420.20" r="1.3" fill="#877665"/>
<circle cx="154.30" cy="417.52" r="1.3" fill="#877665"/>
<circle cx="174.52" cy="430.14" r="1.3" fill="#877665"/>
<circle cx="194.75" cy="450.80" r="1.3" fill="#877665"/>
<circle cx="214.98" cy="461.02" r="1.3" fill="#877665"/>
<circle cx="235.21" cy="462.99" r="1.3" fill="#877665"/>
<circle cx="81.60" cy="396.44" r="1.3" fill="#cfbd4d"/>
<line x1="113.84" y1="392.78" x2="113.84" y2="387.14" stroke="#cfbd4d" stroke-width="0.6"/>
<line x1="112.94" y1="387.14" x2="114.74" y2="387.14" stroke="#cfbd4d" stroke-width="0.5"/>
<line x1="112.94" y1="392.78" x2="114.74" y2="392.78" stroke="#cfbd4d" stroke-width="0.5"/>
<circle cx="113.84" cy="389.96" r="1.3" fill="#cfbd4d"/>
<circle cx="154.30" cy="412.94" r="1.3" fill="#cfbd4d"/>
<circle cx="174.52" cy="430.14" r="1.3" fill="#cfbd4d"/>
<circle cx="194.75" cy="456.01" r="1.3" fill="#cfbd4d"/>
<circle cx="214.98" cy="458.41" r="1.3" fill="#cfbd4d"/>
<circle cx="235.21" cy="457.64" r="1.3" fill="#cfbd4d"/>
<circle cx="81.60" cy="398.20" r="1.3" fill="#1f3560"/>
<circle cx="113.84" cy="403.00" r="1.3" fill="#1f3560"/>
<line x1="134.07" y1="401.94" x2="134.07" y2="396.30" stroke="#1f3560" stroke-width="0.6"/>
<line x1="133.17" y1="396.30" x2="134.97" y2="396.30" stroke="#1f3560" stroke-width="0.5"/>
<line x1="133.17" y1="401.94" x2="134.97" y2="401.94" stroke="#1f3560" stroke-width="0.5"/>
<circle cx="134.07" cy="399.12" r="1.3" fill="#1f3560"/>
<circle cx="154.30" cy="407.58" r="1.3" fill="#1f3560"/>
<circle cx="174.52" cy="423.58" r="1.3" fill="#1f3560"/>
<circle cx="194.75" cy="453.90" r="1.3" fill="#1f3560"/>
<circle cx="214.98" cy="458.41" r="1.3" fill="#1f3560"/>
<circle cx="235.21" cy="457.64" r="1.3" fill="#1f3560"/>
<line x1="76.70" y1="427.30" x2="81.90" y2="427.30" stroke="#adaaca" stroke-width="0.75" opacity="0.8"/>
<circle cx="79.30" cy="427.30" r="1.05" fill="#adaaca"/>
<text x="85.70" y="429.80" font-size="7.2" fill="#303030" stroke="#303030" stroke-width="0.26">S56R</text>
<line x1="76.70" y1="435.40" x2="81.90" y2="435.40" stroke="#1f3560" stroke-width="0.75" opacity="0.8"/>
<circle cx="79.30" cy="435.40" r="1.05" fill="#1f3560"/>
<text x="85.70" y="437.90" font-size="7.2" fill="#303030" stroke="#303030" stroke-width="0.26">TPP-26870 (parental)</text>
<line x1="76.70" y1="443.50" x2="81.90" y2="443.50" stroke="#cfbd4d" stroke-width="0.75" opacity="0.8"/>
<circle cx="79.30" cy="443.50" r="1.05" fill="#cfbd4d"/>
<text x="85.70" y="446.00" font-size="7.2" fill="#303030" stroke="#303030" stroke-width="0.26">T57P</text>
<line x1="76.70" y1="451.80" x2="81.90" y2="451.80" stroke="#5879a1" stroke-width="0.75" opacity="0.8"/>
<circle cx="79.30" cy="451.80" r="1.05" fill="#5879a1"/>
<text x="85.70" y="454.30" font-size="7.2" fill="#303030" stroke="#303030" stroke-width="0.26">S54R</text>
<line x1="76.70" y1="460.10" x2="81.90" y2="460.10" stroke="#877665" stroke-width="0.75" opacity="0.8"/>
<circle cx="79.30" cy="460.10" r="1.05" fill="#877665"/>
<text x="85.70" y="462.60" font-size="7.2" fill="#303030" stroke="#303030" stroke-width="0.26">S53T</text>
<text x="7.50" y="522.50" font-size="11.4" font-weight="bold" fill="#111" class="let">D</text>
<text x="162.00" y="522.90" font-size="9.6" text-anchor="middle" fill="#303030" stroke="#303030" stroke-width="0.26">CDR3</text>
<line x1="72.60" y1="527.80" x2="72.60" y2="616.30" stroke="#1a1a1a" stroke-width="1.1"/>
<line x1="69.90" y1="616.30" x2="72.60" y2="616.30" stroke="#1a1a1a" stroke-width="0.8"/>
<line x1="71.30" y1="612.76" x2="72.60" y2="612.76" stroke="#1a1a1a" stroke-width="0.8"/>
<line x1="71.30" y1="609.22" x2="72.60" y2="609.22" stroke="#1a1a1a" stroke-width="0.8"/>
<line x1="71.30" y1="605.68" x2="72.60" y2="605.68" stroke="#1a1a1a" stroke-width="0.8"/>
<line x1="71.30" y1="602.14" x2="72.60" y2="602.14" stroke="#1a1a1a" stroke-width="0.8"/>
<line x1="69.90" y1="598.60" x2="72.60" y2="598.60" stroke="#1a1a1a" stroke-width="0.8"/>
<line x1="71.30" y1="595.06" x2="72.60" y2="595.06" stroke="#1a1a1a" stroke-width="0.8"/>
<line x1="71.30" y1="591.52" x2="72.60" y2="591.52" stroke="#1a1a1a" stroke-width="0.8"/>
<line x1="71.30" y1="587.98" x2="72.60" y2="587.98" stroke="#1a1a1a" stroke-width="0.8"/>
<line x1="71.30" y1="584.44" x2="72.60" y2="584.44" stroke="#1a1a1a" stroke-width="0.8"/>
<line x1="69.90" y1="580.90" x2="72.60" y2="580.90" stroke="#1a1a1a" stroke-width="0.8"/>
<line x1="71.30" y1="577.36" x2="72.60" y2="577.36" stroke="#1a1a1a" stroke-width="0.8"/>
<line x1="71.30" y1="573.82" x2="72.60" y2="573.82" stroke="#1a1a1a" stroke-width="0.8"/>
<line x1="71.30" y1="570.28" x2="72.60" y2="570.28" stroke="#1a1a1a" stroke-width="0.8"/>
<line x1="71.30" y1="566.74" x2="72.60" y2="566.74" stroke="#1a1a1a" stroke-width="0.8"/>
<line x1="69.90" y1="563.20" x2="72.60" y2="563.20" stroke="#1a1a1a" stroke-width="0.8"/>
<line x1="71.30" y1="559.66" x2="72.60" y2="559.66" stroke="#1a1a1a" stroke-width="0.8"/>
<line x1="71.30" y1="556.12" x2="72.60" y2="556.12" stroke="#1a1a1a" stroke-width="0.8"/>
<line x1="71.30" y1="552.58" x2="72.60" y2="552.58" stroke="#1a1a1a" stroke-width="0.8"/>
<line x1="71.30" y1="549.04" x2="72.60" y2="549.04" stroke="#1a1a1a" stroke-width="0.8"/>
<line x1="69.90" y1="545.50" x2="72.60" y2="545.50" stroke="#1a1a1a" stroke-width="0.8"/>
<line x1="71.30" y1="541.96" x2="72.60" y2="541.96" stroke="#1a1a1a" stroke-width="0.8"/>
<line x1="71.30" y1="538.42" x2="72.60" y2="538.42" stroke="#1a1a1a" stroke-width="0.8"/>
<line x1="71.30" y1="534.88" x2="72.60" y2="534.88" stroke="#1a1a1a" stroke-width="0.8"/>
<line x1="71.30" y1="531.34" x2="72.60" y2="531.34" stroke="#1a1a1a" stroke-width="0.8"/>
<line x1="69.90" y1="527.80" x2="72.60" y2="527.80" stroke="#1a1a1a" stroke-width="0.8"/>
<text x="66.60" y="619.10" font-size="7.9" text-anchor="end" fill="#333" stroke="#333" stroke-width="0.16">0</text>
<text x="66.60" y="601.40" font-size="7.9" text-anchor="end" fill="#333" stroke="#333" stroke-width="0.16">25</text>
<text x="66.60" y="583.70" font-size="7.9" text-anchor="end" fill="#333" stroke="#333" stroke-width="0.16">50</text>
<text x="66.60" y="566.00" font-size="7.9" text-anchor="end" fill="#333" stroke="#333" stroke-width="0.16">75</text>
<text x="66.60" y="548.30" font-size="7.9" text-anchor="end" fill="#333" stroke="#333" stroke-width="0.16">100</text>
<line x1="71.50" y1="616.30" x2="89.90" y2="616.30" stroke="#1a1a1a" stroke-width="1.2"/>
<line x1="93.60" y1="616.30" x2="251.00" y2="616.30" stroke="#1a1a1a" stroke-width="1.2"/>
<line x1="89.90" y1="614.10" x2="89.90" y2="618.50" stroke="#1a1a1a" stroke-width="0.9"/>
<line x1="93.60" y1="614.10" x2="93.60" y2="618.50" stroke="#1a1a1a" stroke-width="0.9"/>
<line x1="81.60" y1="616.30" x2="81.60" y2="618.90" stroke="#1a1a1a" stroke-width="0.9"/>
<line x1="94.30" y1="616.30" x2="94.30" y2="618.90" stroke="#1a1a1a" stroke-width="0.8"/>
<line x1="114.53" y1="616.30" x2="114.53" y2="617.70" stroke="#1a1a1a" stroke-width="0.8"/>
<line x1="126.36" y1="616.30" x2="126.36" y2="617.70" stroke="#1a1a1a" stroke-width="0.8"/>
<line x1="134.76" y1="616.30" x2="134.76" y2="617.70" stroke="#1a1a1a" stroke-width="0.8"/>
<line x1="141.27" y1="616.30" x2="141.27" y2="617.70" stroke="#1a1a1a" stroke-width="0.8"/>
<line x1="146.59" y1="616.30" x2="146.59" y2="617.70" stroke="#1a1a1a" stroke-width="0.8"/>
<line x1="151.09" y1="616.30" x2="151.09" y2="617.70" stroke="#1a1a1a" stroke-width="0.8"/>
<line x1="154.99" y1="616.30" x2="154.99" y2="617.70" stroke="#1a1a1a" stroke-width="0.8"/>
<line x1="158.43" y1="616.30" x2="158.43" y2="617.70" stroke="#1a1a1a" stroke-width="0.8"/>
<line x1="161.50" y1="616.30" x2="161.50" y2="618.90" stroke="#1a1a1a" stroke-width="0.8"/>
<line x1="181.73" y1="616.30" x2="181.73" y2="617.70" stroke="#1a1a1a" stroke-width="0.8"/>
<line x1="193.56" y1="616.30" x2="193.56" y2="617.70" stroke="#1a1a1a" stroke-width="0.8"/>
<line x1="201.96" y1="616.30" x2="201.96" y2="617.70" stroke="#1a1a1a" stroke-width="0.8"/>
<line x1="208.47" y1="616.30" x2="208.47" y2="617.70" stroke="#1a1a1a" stroke-width="0.8"/>
<line x1="213.79" y1="616.30" x2="213.79" y2="617.70" stroke="#1a1a1a" stroke-width="0.8"/>
<line x1="218.29" y1="616.30" x2="218.29" y2="617.70" stroke="#1a1a1a" stroke-width="0.8"/>
<line x1="222.19" y1="616.30" x2="222.19" y2="617.70" stroke="#1a1a1a" stroke-width="0.8"/>
<line x1="225.63" y1="616.30" x2="225.63" y2="617.70" stroke="#1a1a1a" stroke-width="0.8"/>
<line x1="228.70" y1="616.30" x2="228.70" y2="618.90" stroke="#1a1a1a" stroke-width="0.8"/>
<line x1="248.93" y1="616.30" x2="248.93" y2="617.70" stroke="#1a1a1a" stroke-width="0.8"/>
<text x="81.60" y="629.20" font-size="7.7" text-anchor="middle" fill="#333" stroke="#333" stroke-width="0.16">0</text>
<text x="94.30" y="629.20" font-size="7.7" text-anchor="middle" fill="#333" stroke="#333" stroke-width="0.16">1</text>
<text x="161.50" y="629.20" font-size="7.7" text-anchor="middle" fill="#333" stroke="#333" stroke-width="0.16">10</text>
<text x="228.70" y="629.20" font-size="7.7" text-anchor="middle" fill="#333" stroke="#333" stroke-width="0.16">100</text>
<text x="162.00" y="642.60" font-size="8.8" text-anchor="middle" fill="#303030" textLength="41.8" lengthAdjust="spacingAndGlyphs" class="cond">Antibody (nM)</text>
<text transform="translate(36.00,573.10) rotate(-90)" x="0" y="0" font-size="9.3" text-anchor="middle" fill="#303030" textLength="66.8" lengthAdjust="spacingAndGlyphs" class="cond">Normalized SEAP-PAR1</text>
<text transform="translate(47.60,573.10) rotate(-90)" x="0" y="0" font-size="9.3" text-anchor="middle" fill="#303030" textLength="38.4" lengthAdjust="spacingAndGlyphs" class="cond">cleavage (%)</text>
<line x1="81.20" y1="553.00" x2="89.60" y2="553.00" stroke="#589f8e" stroke-width="1.0"/>
<polyline points="94.3,553.1 95.1,553.1 95.9,553.1 96.7,553.2 97.5,553.2 98.3,553.3 99.1,553.3 99.9,553.4 100.7,553.4 101.5,553.5 102.3,553.5 103.1,553.6 103.9,553.6 104.7,553.7 105.5,553.7 106.3,553.7 107.1,553.8 107.9,553.8 108.7,553.9 109.5,553.9 110.3,554.0 111.1,554.0 111.9,554.1 112.7,554.1 113.5,554.1 114.3,554.2 115.1,554.2 115.9,554.3 116.7,554.3 117.5,554.4 118.3,554.5 119.1,554.5 119.9,554.6 120.7,554.6 121.5,554.7 122.3,554.8 123.1,554.8 123.9,554.9 124.7,555.0 125.5,555.0 126.3,555.1 127.1,555.2 127.9,555.3 128.7,555.4 129.5,555.5 130.3,555.6 131.1,555.7 131.9,555.8 132.7,555.9 133.5,556.0 134.3,556.1 135.1,556.3 135.9,556.5 136.7,556.6 137.5,556.8 138.3,557.1 139.1,557.3 139.9,557.6 140.7,557.8 141.5,558.1 142.3,558.4 143.1,558.8 143.9,559.1 144.7,559.5 145.5,559.9 146.3,560.3 147.1,560.7 147.9,561.1 148.7,561.6 149.5,562.1 150.3,562.6 151.1,563.1 151.9,563.6 152.7,564.2 153.5,564.8 154.3,565.5 155.1,566.2 155.9,567.0 156.7,567.8 157.5,568.7 158.3,569.6 159.1,570.5 159.9,571.5 160.7,572.5 161.5,573.4 162.3,574.4 163.1,575.3 163.9,576.3 164.7,577.3 165.5,578.3 166.3,579.3 167.1,580.3 167.9,581.3 168.7,582.3 169.5,583.3 170.3,584.4 171.1,585.5 171.9,586.5 172.7,587.6 173.5,588.7 174.3,589.8 175.1,590.8 175.9,591.9 176.7,592.9 177.5,593.9 178.3,594.9 179.1,595.8 179.9,596.7 180.7,597.6 181.5,598.4 182.3,599.2 183.1,599.9 183.9,600.6 184.7,601.2 185.5,601.9 186.3,602.5 187.1,603.0 187.9,603.6 188.7,604.1 189.5,604.6 190.3,605.1 191.1,605.5 191.9,605.9 192.7,606.2 193.5,606.6 194.3,606.8 195.1,607.1 195.9,607.3 196.7,607.4 197.5,607.6 198.3,607.7 199.1,607.8 199.9,607.9 200.7,608.0 201.5,608.1 202.3,608.1 203.1,608.2 203.9,608.2 204.7,608.2 205.5,608.3 206.3,608.3 207.1,608.3 207.9,608.3 208.7,608.3 209.5,608.3 210.3,608.3 211.1,608.3 211.9,608.3 212.7,608.3 213.5,608.3 214.3,608.3 215.1,608.3 215.9,608.3 216.7,608.3 217.5,608.3 218.3,608.3 219.1,608.3 219.9,608.3 220.7,608.3 221.5,608.3 222.3,608.3 223.1,608.4 223.9,608.4 224.7,608.4 225.5,608.4 226.3,608.4 227.1,608.4 227.9,608.4 228.7,608.4 229.5,608.4 230.3,608.4 231.1,608.4 231.9,608.4 232.7,608.4 233.5,608.4 234.3,608.4 235.1,608.4" fill="none" stroke="#589f8e" stroke-width="1.0" stroke-linejoin="round"/>
<line x1="81.20" y1="547.48" x2="89.60" y2="547.48" stroke="#1f3560" stroke-width="1.3"/>
<polyline points="94.3,547.7 95.1,547.7 95.9,547.7 96.7,547.7 97.5,547.7 98.3,547.8 99.1,547.8 99.9,547.8 100.7,547.8 101.5,547.9 102.3,547.9 103.1,547.9 103.9,547.9 104.7,548.0 105.5,548.0 106.3,548.0 107.1,548.0 107.9,548.1 108.7,548.1 109.5,548.1 110.3,548.1 111.1,548.2 111.9,548.2 112.7,548.2 113.5,548.2 114.3,548.3 115.1,548.3 115.9,548.3 116.7,548.3 117.5,548.4 118.3,548.4 119.1,548.4 119.9,548.4 120.7,548.5 121.5,548.5 122.3,548.5 123.1,548.6 123.9,548.6 124.7,548.7 125.5,548.7 126.3,548.7 127.1,548.8 127.9,548.8 128.7,548.9 129.5,548.9 130.3,549.0 131.1,549.0 131.9,549.1 132.7,549.1 133.5,549.2 134.3,549.3 135.1,549.3 135.9,549.4 136.7,549.5 137.5,549.6 138.3,549.7 139.1,549.8 139.9,549.9 140.7,550.1 141.5,550.2 142.3,550.3 143.1,550.5 143.9,550.7 144.7,550.8 145.5,551.0 146.3,551.2 147.1,551.4 147.9,551.6 148.7,551.9 149.5,552.1 150.3,552.4 151.1,552.6 151.9,552.9 152.7,553.2 153.5,553.6 154.3,554.0 155.1,554.4 155.9,554.9 156.7,555.4 157.5,556.0 158.3,556.6 159.1,557.2 159.9,557.9 160.7,558.6 161.5,559.3 162.3,560.0 163.1,560.8 163.9,561.5 164.7,562.2 165.5,563.0 166.3,563.8 167.1,564.6 167.9,565.4 168.7,566.3 169.5,567.2 170.3,568.2 171.1,569.2 171.9,570.3 172.7,571.5 173.5,572.7 174.3,573.9 175.1,575.2 175.9,576.6 176.7,578.0 177.5,579.4 178.3,580.8 179.1,582.2 179.9,583.6 180.7,585.0 181.5,586.4 182.3,587.8 183.1,589.1 183.9,590.3 184.7,591.6 185.5,592.8 186.3,593.9 187.1,595.0 187.9,596.1 188.7,597.1 189.5,598.1 190.3,599.0 191.1,599.9 191.9,600.7 192.7,601.4 193.5,602.1 194.3,602.6 195.1,603.1 195.9,603.6 196.7,603.9 197.5,604.3 198.3,604.5 199.1,604.8 199.9,605.0 200.7,605.1 201.5,605.2 202.3,605.3 203.1,605.4 203.9,605.4 204.7,605.4 205.5,605.5 206.3,605.5 207.1,605.5 207.9,605.5 208.7,605.5 209.5,605.5 210.3,605.5 211.1,605.4 211.9,605.4 212.7,605.4 213.5,605.4 214.3,605.4 215.1,605.4 215.9,605.4 216.7,605.4 217.5,605.4 218.3,605.4 219.1,605.4 219.9,605.4 220.7,605.4 221.5,605.4 222.3,605.4 223.1,605.4 223.9,605.4 224.7,605.4 225.5,605.4 226.3,605.4 227.1,605.4 227.9,605.4 228.7,605.4 229.5,605.4 230.3,605.4 231.1,605.3 231.9,605.3 232.7,605.3 233.5,605.3 234.3,605.3 235.1,605.3" fill="none" stroke="#1f3560" stroke-width="1.3" stroke-linejoin="round"/>
<line x1="113.84" y1="561.64" x2="113.84" y2="550.31" stroke="#589f8e" stroke-width="0.6"/>
<line x1="112.94" y1="550.31" x2="114.74" y2="550.31" stroke="#589f8e" stroke-width="0.5"/>
<line x1="112.94" y1="561.64" x2="114.74" y2="561.64" stroke="#589f8e" stroke-width="0.5"/>
<circle cx="113.84" cy="555.98" r="1.3" fill="#589f8e"/>
<circle cx="134.07" cy="564.47" r="1.3" fill="#589f8e"/>
<line x1="154.30" y1="572.26" x2="154.30" y2="565.18" stroke="#589f8e" stroke-width="0.6"/>
<line x1="153.40" y1="565.18" x2="155.20" y2="565.18" stroke="#589f8e" stroke-width="0.5"/>
<line x1="153.40" y1="572.26" x2="155.20" y2="572.26" stroke="#589f8e" stroke-width="0.5"/>
<circle cx="154.30" cy="568.72" r="1.3" fill="#589f8e"/>
<line x1="174.52" y1="598.10" x2="174.52" y2="583.94" stroke="#589f8e" stroke-width="0.6"/>
<line x1="173.62" y1="583.94" x2="175.42" y2="583.94" stroke="#589f8e" stroke-width="0.5"/>
<line x1="173.62" y1="598.10" x2="175.42" y2="598.10" stroke="#589f8e" stroke-width="0.5"/>
<circle cx="174.52" cy="591.02" r="1.3" fill="#589f8e"/>
<circle cx="194.75" cy="607.52" r="1.3" fill="#589f8e"/>
<circle cx="214.98" cy="608.30" r="1.3" fill="#589f8e"/>
<circle cx="235.21" cy="610.99" r="1.3" fill="#589f8e"/>
<circle cx="81.60" cy="545.50" r="1.3" fill="#1f3560"/>
<line x1="113.84" y1="543.52" x2="113.84" y2="537.85" stroke="#1f3560" stroke-width="0.6"/>
<line x1="112.94" y1="537.85" x2="114.74" y2="537.85" stroke="#1f3560" stroke-width="0.5"/>
<line x1="112.94" y1="543.52" x2="114.74" y2="543.52" stroke="#1f3560" stroke-width="0.5"/>
<circle cx="113.84" cy="540.69" r="1.3" fill="#1f3560"/>
<line x1="134.07" y1="551.31" x2="134.07" y2="547.06" stroke="#1f3560" stroke-width="0.6"/>
<line x1="133.17" y1="547.06" x2="134.97" y2="547.06" stroke="#1f3560" stroke-width="0.5"/>
<line x1="133.17" y1="551.31" x2="134.97" y2="551.31" stroke="#1f3560" stroke-width="0.5"/>
<circle cx="134.07" cy="549.18" r="1.3" fill="#1f3560"/>
<line x1="154.30" y1="562.85" x2="154.30" y2="557.18" stroke="#1f3560" stroke-width="0.6"/>
<line x1="153.40" y1="557.18" x2="155.20" y2="557.18" stroke="#1f3560" stroke-width="0.5"/>
<line x1="153.40" y1="562.85" x2="155.20" y2="562.85" stroke="#1f3560" stroke-width="0.5"/>
<circle cx="154.30" cy="560.01" r="1.3" fill="#1f3560"/>
<line x1="174.52" y1="576.16" x2="174.52" y2="571.91" stroke="#1f3560" stroke-width="0.6"/>
<line x1="173.62" y1="571.91" x2="175.42" y2="571.91" stroke="#1f3560" stroke-width="0.5"/>
<line x1="173.62" y1="576.16" x2="175.42" y2="576.16" stroke="#1f3560" stroke-width="0.5"/>
<circle cx="174.52" cy="574.03" r="1.3" fill="#1f3560"/>
<circle cx="194.75" cy="603.77" r="1.3" fill="#1f3560"/>
<circle cx="214.98" cy="607.17" r="1.3" fill="#1f3560"/>
<circle cx="235.21" cy="603.98" r="1.3" fill="#1f3560"/>
<line x1="76.70" y1="597.20" x2="81.90" y2="597.20" stroke="#1f3560" stroke-width="0.75" opacity="0.8"/>
<circle cx="79.30" cy="597.20" r="1.05" fill="#1f3560"/>
<text x="86.20" y="599.70" font-size="7.2" fill="#303030" stroke="#303030" stroke-width="0.26">TPP-26870 (parental)</text>
<line x1="76.70" y1="608.10" x2="81.90" y2="608.10" stroke="#589f8e" stroke-width="0.75" opacity="0.8"/>
<circle cx="79.30" cy="608.10" r="1.05" fill="#589f8e"/>
<text x="86.20" y="610.60" font-size="7.2" fill="#303030" stroke="#303030" stroke-width="0.26">F103M</text>
<text x="269.20" y="215.50" font-size="11.4" font-weight="bold" fill="#111" class="let">F</text>
<text x="423.00" y="211.70" font-size="9.5" text-anchor="middle" fill="#303030" stroke="#303030" stroke-width="0.32">V<tspan font-size="6.4" dy="2">L</tspan><tspan dy="-2"> Amino Acid Substitutions</tspan></text>
<text x="423.00" y="226.20" font-size="9.6" text-anchor="middle" fill="#303030" stroke="#303030" stroke-width="0.26">CDR1</text>
<line x1="333.60" y1="231.10" x2="333.60" y2="319.60" stroke="#1a1a1a" stroke-width="1.1"/>
<line x1="330.90" y1="319.60" x2="333.60" y2="319.60" stroke="#1a1a1a" stroke-width="0.8"/>
<line x1="332.30" y1="316.06" x2="333.60" y2="316.06" stroke="#1a1a1a" stroke-width="0.8"/>
<line x1="332.30" y1="312.52" x2="333.60" y2="312.52" stroke="#1a1a1a" stroke-width="0.8"/>
<line x1="332.30" y1="308.98" x2="333.60" y2="308.98" stroke="#1a1a1a" stroke-width="0.8"/>
<line x1="332.30" y1="305.44" x2="333.60" y2="305.44" stroke="#1a1a1a" stroke-width="0.8"/>
<line x1="330.90" y1="301.90" x2="333.60" y2="301.90" stroke="#1a1a1a" stroke-width="0.8"/>
<line x1="332.30" y1="298.36" x2="333.60" y2="298.36" stroke="#1a1a1a" stroke-width="0.8"/>
<line x1="332.30" y1="294.82" x2="333.60" y2="294.82" stroke="#1a1a1a" stroke-width="0.8"/>
<line x1="332.30" y1="291.28" x2="333.60" y2="291.28" stroke="#1a1a1a" stroke-width="0.8"/>
<line x1="332.30" y1="287.74" x2="333.60" y2="287.74" stroke="#1a1a1a" stroke-width="0.8"/>
<line x1="330.90" y1="284.20" x2="333.60" y2="284.20" stroke="#1a1a1a" stroke-width="0.8"/>
<line x1="332.30" y1="280.66" x2="333.60" y2="280.66" stroke="#1a1a1a" stroke-width="0.8"/>
<line x1="332.30" y1="277.12" x2="333.60" y2="277.12" stroke="#1a1a1a" stroke-width="0.8"/>
<line x1="332.30" y1="273.58" x2="333.60" y2="273.58" stroke="#1a1a1a" stroke-width="0.8"/>
<line x1="332.30" y1="270.04" x2="333.60" y2="270.04" stroke="#1a1a1a" stroke-width="0.8"/>
<line x1="330.90" y1="266.50" x2="333.60" y2="266.50" stroke="#1a1a1a" stroke-width="0.8"/>
<line x1="332.30" y1="262.96" x2="333.60" y2="262.96" stroke="#1a1a1a" stroke-width="0.8"/>
<line x1="332.30" y1="259.42" x2="333.60" y2="259.42" stroke="#1a1a1a" stroke-width="0.8"/>
<line x1="332.30" y1="255.88" x2="333.60" y2="255.88" stroke="#1a1a1a" stroke-width="0.8"/>
<line x1="332.30" y1="252.34" x2="333.60" y2="252.34" stroke="#1a1a1a" stroke-width="0.8"/>
<line x1="330.90" y1="248.80" x2="333.60" y2="248.80" stroke="#1a1a1a" stroke-width="0.8"/>
<line x1="332.30" y1="245.26" x2="333.60" y2="245.26" stroke="#1a1a1a" stroke-width="0.8"/>
<line x1="332.30" y1="241.72" x2="333.60" y2="241.72" stroke="#1a1a1a" stroke-width="0.8"/>
<line x1="332.30" y1="238.18" x2="333.60" y2="238.18" stroke="#1a1a1a" stroke-width="0.8"/>
<line x1="332.30" y1="234.64" x2="333.60" y2="234.64" stroke="#1a1a1a" stroke-width="0.8"/>
<line x1="330.90" y1="231.10" x2="333.60" y2="231.10" stroke="#1a1a1a" stroke-width="0.8"/>
<text x="327.60" y="322.40" font-size="7.9" text-anchor="end" fill="#333" stroke="#333" stroke-width="0.16">0</text>
<text x="327.60" y="304.70" font-size="7.9" text-anchor="end" fill="#333" stroke="#333" stroke-width="0.16">25</text>
<text x="327.60" y="287.00" font-size="7.9" text-anchor="end" fill="#333" stroke="#333" stroke-width="0.16">50</text>
<text x="327.60" y="269.30" font-size="7.9" text-anchor="end" fill="#333" stroke="#333" stroke-width="0.16">75</text>
<text x="327.60" y="251.60" font-size="7.9" text-anchor="end" fill="#333" stroke="#333" stroke-width="0.16">100</text>
<line x1="332.50" y1="319.60" x2="350.90" y2="319.60" stroke="#1a1a1a" stroke-width="1.2"/>
<line x1="354.60" y1="319.60" x2="512.00" y2="319.60" stroke="#1a1a1a" stroke-width="1.2"/>
<line x1="350.90" y1="317.40" x2="350.90" y2="321.80" stroke="#1a1a1a" stroke-width="0.9"/>
<line x1="354.60" y1="317.40" x2="354.60" y2="321.80" stroke="#1a1a1a" stroke-width="0.9"/>
<line x1="342.60" y1="319.60" x2="342.60" y2="322.20" stroke="#1a1a1a" stroke-width="0.9"/>
<line x1="355.30" y1="319.60" x2="355.30" y2="322.20" stroke="#1a1a1a" stroke-width="0.8"/>
<line x1="375.53" y1="319.60" x2="375.53" y2="321.00" stroke="#1a1a1a" stroke-width="0.8"/>
<line x1="387.36" y1="319.60" x2="387.36" y2="321.00" stroke="#1a1a1a" stroke-width="0.8"/>
<line x1="395.76" y1="319.60" x2="395.76" y2="321.00" stroke="#1a1a1a" stroke-width="0.8"/>
<line x1="402.27" y1="319.60" x2="402.27" y2="321.00" stroke="#1a1a1a" stroke-width="0.8"/>
<line x1="407.59" y1="319.60" x2="407.59" y2="321.00" stroke="#1a1a1a" stroke-width="0.8"/>
<line x1="412.09" y1="319.60" x2="412.09" y2="321.00" stroke="#1a1a1a" stroke-width="0.8"/>
<line x1="415.99" y1="319.60" x2="415.99" y2="321.00" stroke="#1a1a1a" stroke-width="0.8"/>
<line x1="419.43" y1="319.60" x2="419.43" y2="321.00" stroke="#1a1a1a" stroke-width="0.8"/>
<line x1="422.50" y1="319.60" x2="422.50" y2="322.20" stroke="#1a1a1a" stroke-width="0.8"/>
<line x1="442.73" y1="319.60" x2="442.73" y2="321.00" stroke="#1a1a1a" stroke-width="0.8"/>
<line x1="454.56" y1="319.60" x2="454.56" y2="321.00" stroke="#1a1a1a" stroke-width="0.8"/>
<line x1="462.96" y1="319.60" x2="462.96" y2="321.00" stroke="#1a1a1a" stroke-width="0.8"/>
<line x1="469.47" y1="319.60" x2="469.47" y2="321.00" stroke="#1a1a1a" stroke-width="0.8"/>
<line x1="474.79" y1="319.60" x2="474.79" y2="321.00" stroke="#1a1a1a" stroke-width="0.8"/>
<line x1="479.29" y1="319.60" x2="479.29" y2="321.00" stroke="#1a1a1a" stroke-width="0.8"/>
<line x1="483.19" y1="319.60" x2="483.19" y2="321.00" stroke="#1a1a1a" stroke-width="0.8"/>
<line x1="486.63" y1="319.60" x2="486.63" y2="321.00" stroke="#1a1a1a" stroke-width="0.8"/>
<line x1="489.70" y1="319.60" x2="489.70" y2="322.20" stroke="#1a1a1a" stroke-width="0.8"/>
<line x1="509.93" y1="319.60" x2="509.93" y2="321.00" stroke="#1a1a1a" stroke-width="0.8"/>
<text x="342.60" y="332.50" font-size="7.7" text-anchor="middle" fill="#333" stroke="#333" stroke-width="0.16">0</text>
<text x="355.30" y="332.50" font-size="7.7" text-anchor="middle" fill="#333" stroke="#333" stroke-width="0.16">1</text>
<text x="422.50" y="332.50" font-size="7.7" text-anchor="middle" fill="#333" stroke="#333" stroke-width="0.16">10</text>
<text x="489.70" y="332.50" font-size="7.7" text-anchor="middle" fill="#333" stroke="#333" stroke-width="0.16">100</text>
<text x="423.00" y="345.90" font-size="8.8" text-anchor="middle" fill="#303030" textLength="41.8" lengthAdjust="spacingAndGlyphs" class="cond">Antibody (nM)</text>
<text transform="translate(297.00,276.40) rotate(-90)" x="0" y="0" font-size="9.3" text-anchor="middle" fill="#303030" textLength="66.8" lengthAdjust="spacingAndGlyphs" class="cond">Normalized SEAP-PAR1</text>
<text transform="translate(308.60,276.40) rotate(-90)" x="0" y="0" font-size="9.3" text-anchor="middle" fill="#303030" textLength="38.4" lengthAdjust="spacingAndGlyphs" class="cond">cleavage (%)</text>
<line x1="342.20" y1="249.58" x2="350.60" y2="249.58" stroke="#da9c63" stroke-width="1.0"/>
<polyline points="355.3,249.6 356.1,249.6 356.9,249.6 357.7,249.6 358.5,249.6 359.3,249.6 360.1,249.6 360.9,249.6 361.7,249.6 362.5,249.6 363.3,249.6 364.1,249.6 364.9,249.6 365.7,249.6 366.5,249.6 367.3,249.6 368.1,249.6 368.9,249.6 369.7,249.6 370.5,249.6 371.3,249.6 372.1,249.6 372.9,249.6 373.7,249.6 374.5,249.6 375.3,249.6 376.1,249.6 376.9,249.6 377.7,249.6 378.5,249.6 379.3,249.6 380.1,249.6 380.9,249.6 381.7,249.6 382.5,249.6 383.3,249.6 384.1,249.6 384.9,249.6 385.7,249.6 386.5,249.6 387.3,249.6 388.1,249.6 388.9,249.6 389.7,249.6 390.5,249.6 391.3,249.6 392.1,249.6 392.9,249.6 393.7,249.6 394.5,249.6 395.3,249.6 396.1,249.6 396.9,249.6 397.7,249.7 398.5,249.7 399.3,249.7 400.1,249.7 400.9,249.8 401.7,249.8 402.5,249.9 403.3,249.9 404.1,250.0 404.9,250.0 405.7,250.1 406.5,250.2 407.3,250.2 408.1,250.3 408.9,250.4 409.7,250.5 410.5,250.6 411.3,250.7 412.1,250.8 412.9,250.9 413.7,251.0 414.5,251.2 415.3,251.4 416.1,251.5 416.9,251.8 417.7,252.0 418.5,252.3 419.3,252.6 420.1,252.9 420.9,253.3 421.7,253.7 422.5,254.1 423.3,254.5 424.1,255.0 424.9,255.5 425.7,256.0 426.5,256.6 427.3,257.1 428.1,257.7 428.9,258.3 429.7,259.0 430.5,259.7 431.3,260.4 432.1,261.1 432.9,261.9 433.7,262.7 434.5,263.6 435.3,264.5 436.1,265.4 436.9,266.4 437.7,267.5 438.5,268.5 439.3,269.6 440.1,270.8 440.9,271.9 441.7,273.0 442.5,274.2 443.3,275.3 444.1,276.4 444.9,277.5 445.7,278.5 446.5,279.6 447.3,280.6 448.1,281.6 448.9,282.6 449.7,283.6 450.5,284.6 451.3,285.5 452.1,286.4 452.9,287.2 453.7,287.9 454.5,288.6 455.3,289.1 456.1,289.6 456.9,290.0 457.7,290.3 458.5,290.6 459.3,290.7 460.1,290.9 460.9,290.9 461.7,291.0 462.5,291.1 463.3,291.1 464.1,291.1 464.9,291.1 465.7,291.2 466.5,291.2 467.3,291.2 468.1,291.2 468.9,291.2 469.7,291.2 470.5,291.2 471.3,291.2 472.1,291.2 472.9,291.2 473.7,291.2 474.5,291.2 475.3,291.2 476.1,291.2 476.9,291.2 477.7,291.2 478.5,291.2 479.3,291.2 480.1,291.2 480.9,291.2 481.7,291.2 482.5,291.2 483.3,291.2 484.1,291.2 484.9,291.2 485.7,291.2 486.5,291.3 487.3,291.3 488.1,291.3 488.9,291.3 489.7,291.3 490.5,291.3 491.3,291.3 492.1,291.3 492.9,291.3 493.7,291.3 494.5,291.3 495.3,291.3 496.1,291.3" fill="none" stroke="#da9c63" stroke-width="1.0" stroke-linejoin="round"/>
<line x1="342.20" y1="249.58" x2="350.60" y2="249.58" stroke="#cd6974" stroke-width="1.0"/>
<polyline points="355.3,249.6 356.1,249.6 356.9,249.6 357.7,249.6 358.5,249.6 359.3,249.6 360.1,249.6 360.9,249.6 361.7,249.6 362.5,249.6 363.3,249.6 364.1,249.6 364.9,249.6 365.7,249.6 366.5,249.6 367.3,249.6 368.1,249.7 368.9,249.7 369.7,249.7 370.5,249.7 371.3,249.7 372.1,249.7 372.9,249.7 373.7,249.7 374.5,249.7 375.3,249.7 376.1,249.7 376.9,249.7 377.7,249.7 378.5,249.7 379.3,249.7 380.1,249.7 380.9,249.7 381.7,249.7 382.5,249.7 383.3,249.7 384.1,249.7 384.9,249.8 385.7,249.8 386.5,249.8 387.3,249.8 388.1,249.8 388.9,249.8 389.7,249.8 390.5,249.8 391.3,249.8 392.1,249.8 392.9,249.8 393.7,249.9 394.5,249.9 395.3,249.9 396.1,249.9 396.9,249.9 397.7,250.0 398.5,250.0 399.3,250.0 400.1,250.1 400.9,250.1 401.7,250.2 402.5,250.2 403.3,250.3 404.1,250.3 404.9,250.4 405.7,250.5 406.5,250.5 407.3,250.6 408.1,250.7 408.9,250.8 409.7,250.9 410.5,251.0 411.3,251.1 412.1,251.2 412.9,251.3 413.7,251.5 414.5,251.6 415.3,251.8 416.1,252.1 416.9,252.4 417.7,252.7 418.5,253.0 419.3,253.4 420.1,253.9 420.9,254.4 421.7,254.9 422.5,255.6 423.3,256.2 424.1,256.9 424.9,257.7 425.7,258.4 426.5,259.2 427.3,260.1 428.1,260.9 428.9,261.8 429.7,262.6 430.5,263.6 431.3,264.5 432.1,265.5 432.9,266.5 433.7,267.6 434.5,268.8 435.3,270.0 436.1,271.2 436.9,272.6 437.7,274.0 438.5,275.4 439.3,276.9 440.1,278.4 440.9,280.0 441.7,281.6 442.5,283.1 443.3,284.7 444.1,286.2 444.9,287.8 445.7,289.3 446.5,290.8 447.3,292.3 448.1,293.8 448.9,295.3 449.7,296.7 450.5,298.2 451.3,299.5 452.1,300.9 452.9,302.2 453.7,303.3 454.5,304.5 455.3,305.5 456.1,306.4 456.9,307.2 457.7,307.9 458.5,308.5 459.3,309.0 460.1,309.5 460.9,309.8 461.7,310.1 462.5,310.3 463.3,310.5 464.1,310.6 464.9,310.7 465.7,310.8 466.5,310.8 467.3,310.9 468.1,310.9 468.9,310.9 469.7,310.9 470.5,311.0 471.3,311.0 472.1,311.0 472.9,311.0 473.7,311.0 474.5,311.0 475.3,311.0 476.1,311.0 476.9,311.1 477.7,311.1 478.5,311.1 479.3,311.1 480.1,311.1 480.9,311.1 481.7,311.1 482.5,311.1 483.3,311.1 484.1,311.1 484.9,311.1 485.7,311.1 486.5,311.1 487.3,311.2 488.1,311.2 488.9,311.2 489.7,311.2 490.5,311.2 491.3,311.2 492.1,311.2 492.9,311.2 493.7,311.2 494.5,311.2 495.3,311.2 496.1,311.2" fill="none" stroke="#cd6974" stroke-width="1.0" stroke-linejoin="round"/>
<line x1="342.20" y1="250.50" x2="350.60" y2="250.50" stroke="#1f3560" stroke-width="1.2"/>
<polyline points="355.3,250.8 356.1,250.8 356.9,250.8 357.7,250.8 358.5,250.9 359.3,250.9 360.1,250.9 360.9,251.0 361.7,251.0 362.5,251.0 363.3,251.1 364.1,251.1 364.9,251.1 365.7,251.2 366.5,251.2 367.3,251.2 368.1,251.2 368.9,251.3 369.7,251.3 370.5,251.3 371.3,251.4 372.1,251.4 372.9,251.4 373.7,251.5 374.5,251.5 375.3,251.5 376.1,251.6 376.9,251.6 377.7,251.6 378.5,251.7 379.3,251.7 380.1,251.7 380.9,251.8 381.7,251.8 382.5,251.9 383.3,251.9 384.1,252.0 384.9,252.0 385.7,252.1 386.5,252.1 387.3,252.2 388.1,252.2 388.9,252.3 389.7,252.3 390.5,252.4 391.3,252.4 392.1,252.5 392.9,252.6 393.7,252.6 394.5,252.7 395.3,252.8 396.1,252.9 396.9,253.0 397.7,253.1 398.5,253.2 399.3,253.3 400.1,253.5 400.9,253.6 401.7,253.8 402.5,253.9 403.3,254.1 404.1,254.3 404.9,254.4 405.7,254.6 406.5,254.8 407.3,255.0 408.1,255.3 408.9,255.5 409.7,255.7 410.5,256.0 411.3,256.2 412.1,256.5 412.9,256.8 413.7,257.1 414.5,257.4 415.3,257.8 416.1,258.2 416.9,258.6 417.7,259.1 418.5,259.6 419.3,260.2 420.1,260.8 420.9,261.5 421.7,262.2 422.5,263.0 423.3,263.8 424.1,264.7 424.9,265.6 425.7,266.5 426.5,267.4 427.3,268.3 428.1,269.3 428.9,270.2 429.7,271.1 430.5,272.1 431.3,273.0 432.1,274.0 432.9,275.0 433.7,276.0 434.5,277.1 435.3,278.2 436.1,279.4 436.9,280.5 437.7,281.8 438.5,283.0 439.3,284.3 440.1,285.6 440.9,286.9 441.7,288.2 442.5,289.4 443.3,290.7 444.1,291.9 444.9,293.1 445.7,294.3 446.5,295.4 447.3,296.5 448.1,297.6 448.9,298.7 449.7,299.7 450.5,300.6 451.3,301.6 452.1,302.4 452.9,303.3 453.7,304.0 454.5,304.7 455.3,305.4 456.1,306.0 456.9,306.5 457.7,306.9 458.5,307.3 459.3,307.6 460.1,307.8 460.9,308.1 461.7,308.2 462.5,308.4 463.3,308.5 464.1,308.5 464.9,308.6 465.7,308.6 466.5,308.7 467.3,308.7 468.1,308.7 468.9,308.7 469.7,308.7 470.5,308.7 471.3,308.7 472.1,308.7 472.9,308.7 473.7,308.7 474.5,308.7 475.3,308.7 476.1,308.8 476.9,308.8 477.7,308.8 478.5,308.8 479.3,308.8 480.1,308.8 480.9,308.8 481.7,308.8 482.5,308.8 483.3,308.8 484.1,308.8 484.9,308.8 485.7,308.8 486.5,308.8 487.3,308.8 488.1,308.8 488.9,308.8 489.7,308.8 490.5,308.8 491.3,308.8 492.1,308.8 492.9,308.8 493.7,308.8 494.5,308.8 495.3,308.8 496.1,308.8" fill="none" stroke="#1f3560" stroke-width="1.2" stroke-linejoin="round"/>
<circle cx="415.30" cy="250.43" r="1.3" fill="#da9c63"/>
<line x1="435.52" y1="262.96" x2="435.52" y2="258.71" stroke="#da9c63" stroke-width="0.6"/>
<line x1="434.62" y1="258.71" x2="436.42" y2="258.71" stroke="#da9c63" stroke-width="0.5"/>
<line x1="434.62" y1="262.96" x2="436.42" y2="262.96" stroke="#da9c63" stroke-width="0.5"/>
<circle cx="435.52" cy="260.84" r="1.3" fill="#da9c63"/>
<circle cx="455.75" cy="290.43" r="1.3" fill="#da9c63"/>
<circle cx="475.98" cy="289.58" r="1.3" fill="#da9c63"/>
<circle cx="496.21" cy="292.70" r="1.3" fill="#da9c63"/>
<line x1="374.84" y1="241.72" x2="374.84" y2="234.64" stroke="#cd6974" stroke-width="0.6"/>
<line x1="373.94" y1="234.64" x2="375.74" y2="234.64" stroke="#cd6974" stroke-width="0.5"/>
<line x1="373.94" y1="241.72" x2="375.74" y2="241.72" stroke="#cd6974" stroke-width="0.5"/>
<circle cx="374.84" cy="238.18" r="1.3" fill="#cd6974"/>
<line x1="395.07" y1="247.81" x2="395.07" y2="242.14" stroke="#cd6974" stroke-width="0.6"/>
<line x1="394.17" y1="242.14" x2="395.97" y2="242.14" stroke="#cd6974" stroke-width="0.5"/>
<line x1="394.17" y1="247.81" x2="395.97" y2="247.81" stroke="#cd6974" stroke-width="0.5"/>
<circle cx="395.07" cy="244.98" r="1.3" fill="#cd6974"/>
<circle cx="415.30" cy="255.03" r="1.3" fill="#cd6974"/>
<line x1="435.52" y1="271.67" x2="435.52" y2="266.00" stroke="#cd6974" stroke-width="0.6"/>
<line x1="434.62" y1="266.00" x2="436.42" y2="266.00" stroke="#cd6974" stroke-width="0.5"/>
<line x1="434.62" y1="271.67" x2="436.42" y2="271.67" stroke="#cd6974" stroke-width="0.5"/>
<circle cx="435.52" cy="268.84" r="1.3" fill="#cd6974"/>
<circle cx="455.75" cy="308.98" r="1.3" fill="#cd6974"/>
<circle cx="475.98" cy="312.38" r="1.3" fill="#cd6974"/>
<circle cx="496.21" cy="314.50" r="1.3" fill="#cd6974"/>
<circle cx="342.60" cy="249.15" r="1.3" fill="#1f3560"/>
<line x1="374.84" y1="247.03" x2="374.84" y2="241.37" stroke="#1f3560" stroke-width="0.6"/>
<line x1="373.94" y1="241.37" x2="375.74" y2="241.37" stroke="#1f3560" stroke-width="0.5"/>
<line x1="373.94" y1="247.03" x2="375.74" y2="247.03" stroke="#1f3560" stroke-width="0.5"/>
<circle cx="374.84" cy="244.20" r="1.3" fill="#1f3560"/>
<line x1="395.07" y1="257.72" x2="395.07" y2="249.22" stroke="#1f3560" stroke-width="0.6"/>
<line x1="394.17" y1="249.22" x2="395.97" y2="249.22" stroke="#1f3560" stroke-width="0.5"/>
<line x1="394.17" y1="257.72" x2="395.97" y2="257.72" stroke="#1f3560" stroke-width="0.5"/>
<circle cx="395.07" cy="253.47" r="1.3" fill="#1f3560"/>
<line x1="415.30" y1="266.36" x2="415.30" y2="260.69" stroke="#1f3560" stroke-width="0.6"/>
<line x1="414.40" y1="260.69" x2="416.20" y2="260.69" stroke="#1f3560" stroke-width="0.5"/>
<line x1="414.40" y1="266.36" x2="416.20" y2="266.36" stroke="#1f3560" stroke-width="0.5"/>
<circle cx="415.30" cy="263.53" r="1.3" fill="#1f3560"/>
<line x1="435.52" y1="280.09" x2="435.52" y2="275.85" stroke="#1f3560" stroke-width="0.6"/>
<line x1="434.62" y1="275.85" x2="436.42" y2="275.85" stroke="#1f3560" stroke-width="0.5"/>
<line x1="434.62" y1="280.09" x2="436.42" y2="280.09" stroke="#1f3560" stroke-width="0.5"/>
<circle cx="435.52" cy="277.97" r="1.3" fill="#1f3560"/>
<circle cx="455.75" cy="306.50" r="1.3" fill="#1f3560"/>
<circle cx="475.98" cy="310.40" r="1.3" fill="#1f3560"/>
<circle cx="496.21" cy="307.99" r="1.3" fill="#1f3560"/>
<line x1="336.70" y1="293.20" x2="341.90" y2="293.20" stroke="#da9c63" stroke-width="0.75" opacity="0.8"/>
<circle cx="339.30" cy="293.20" r="1.05" fill="#da9c63"/>
<text x="346.20" y="295.70" font-size="7.2" fill="#303030" stroke="#303030" stroke-width="0.26">S28R</text>
<line x1="336.70" y1="302.40" x2="341.90" y2="302.40" stroke="#cd6974" stroke-width="0.75" opacity="0.8"/>
<circle cx="339.30" cy="302.40" r="1.05" fill="#cd6974"/>
<text x="346.20" y="304.90" font-size="7.2" fill="#303030" stroke="#303030" stroke-width="0.26">Q27E</text>
<line x1="336.70" y1="311.90" x2="341.90" y2="311.90" stroke="#1f3560" stroke-width="0.75" opacity="0.8"/>
<circle cx="339.30" cy="311.90" r="1.05" fill="#1f3560"/>
<text x="346.20" y="314.40" font-size="7.2" fill="#303030" stroke="#303030" stroke-width="0.26">TPP-26870 (parental)</text>
<text x="268.00" y="374.50" font-size="11.4" font-weight="bold" fill="#111" class="let">G</text>
<text x="423.00" y="374.60" font-size="9.6" text-anchor="middle" fill="#303030" stroke="#303030" stroke-width="0.26">CDR2</text>
<line x1="333.60" y1="379.88" x2="333.60" y2="468.00" stroke="#1a1a1a" stroke-width="1.1"/>
<line x1="330.90" y1="468.00" x2="333.60" y2="468.00" stroke="#1a1a1a" stroke-width="0.8"/>
<line x1="332.30" y1="464.48" x2="333.60" y2="464.48" stroke="#1a1a1a" stroke-width="0.8"/>
<line x1="332.30" y1="460.95" x2="333.60" y2="460.95" stroke="#1a1a1a" stroke-width="0.8"/>
<line x1="332.30" y1="457.43" x2="333.60" y2="457.43" stroke="#1a1a1a" stroke-width="0.8"/>
<line x1="332.30" y1="453.90" x2="333.60" y2="453.90" stroke="#1a1a1a" stroke-width="0.8"/>
<line x1="330.90" y1="450.38" x2="333.60" y2="450.38" stroke="#1a1a1a" stroke-width="0.8"/>
<line x1="332.30" y1="446.85" x2="333.60" y2="446.85" stroke="#1a1a1a" stroke-width="0.8"/>
<line x1="332.30" y1="443.32" x2="333.60" y2="443.32" stroke="#1a1a1a" stroke-width="0.8"/>
<line x1="332.30" y1="439.80" x2="333.60" y2="439.80" stroke="#1a1a1a" stroke-width="0.8"/>
<line x1="332.30" y1="436.27" x2="333.60" y2="436.27" stroke="#1a1a1a" stroke-width="0.8"/>
<line x1="330.90" y1="432.75" x2="333.60" y2="432.75" stroke="#1a1a1a" stroke-width="0.8"/>
<line x1="332.30" y1="429.23" x2="333.60" y2="429.23" stroke="#1a1a1a" stroke-width="0.8"/>
<line x1="332.30" y1="425.70" x2="333.60" y2="425.70" stroke="#1a1a1a" stroke-width="0.8"/>
<line x1="332.30" y1="422.18" x2="333.60" y2="422.18" stroke="#1a1a1a" stroke-width="0.8"/>
<line x1="332.30" y1="418.65" x2="333.60" y2="418.65" stroke="#1a1a1a" stroke-width="0.8"/>
<line x1="330.90" y1="415.12" x2="333.60" y2="415.12" stroke="#1a1a1a" stroke-width="0.8"/>
<line x1="332.30" y1="411.60" x2="333.60" y2="411.60" stroke="#1a1a1a" stroke-width="0.8"/>
<line x1="332.30" y1="408.07" x2="333.60" y2="408.07" stroke="#1a1a1a" stroke-width="0.8"/>
<line x1="332.30" y1="404.55" x2="333.60" y2="404.55" stroke="#1a1a1a" stroke-width="0.8"/>
<line x1="332.30" y1="401.02" x2="333.60" y2="401.02" stroke="#1a1a1a" stroke-width="0.8"/>
<line x1="330.90" y1="397.50" x2="333.60" y2="397.50" stroke="#1a1a1a" stroke-width="0.8"/>
<line x1="332.30" y1="393.98" x2="333.60" y2="393.98" stroke="#1a1a1a" stroke-width="0.8"/>
<line x1="332.30" y1="390.45" x2="333.60" y2="390.45" stroke="#1a1a1a" stroke-width="0.8"/>
<line x1="332.30" y1="386.93" x2="333.60" y2="386.93" stroke="#1a1a1a" stroke-width="0.8"/>
<line x1="332.30" y1="383.40" x2="333.60" y2="383.40" stroke="#1a1a1a" stroke-width="0.8"/>
<line x1="330.90" y1="379.88" x2="333.60" y2="379.88" stroke="#1a1a1a" stroke-width="0.8"/>
<text x="327.60" y="470.80" font-size="7.9" text-anchor="end" fill="#333" stroke="#333" stroke-width="0.16">0</text>
<text x="327.60" y="453.18" font-size="7.9" text-anchor="end" fill="#333" stroke="#333" stroke-width="0.16">25</text>
<text x="327.60" y="435.55" font-size="7.9" text-anchor="end" fill="#333" stroke="#333" stroke-width="0.16">50</text>
<text x="327.60" y="417.93" font-size="7.9" text-anchor="end" fill="#333" stroke="#333" stroke-width="0.16">75</text>
<text x="327.60" y="400.30" font-size="7.9" text-anchor="end" fill="#333" stroke="#333" stroke-width="0.16">100</text>
<line x1="332.50" y1="468.00" x2="350.90" y2="468.00" stroke="#1a1a1a" stroke-width="1.2"/>
<line x1="354.60" y1="468.00" x2="512.00" y2="468.00" stroke="#1a1a1a" stroke-width="1.2"/>
<line x1="350.90" y1="465.80" x2="350.90" y2="470.20" stroke="#1a1a1a" stroke-width="0.9"/>
<line x1="354.60" y1="465.80" x2="354.60" y2="470.20" stroke="#1a1a1a" stroke-width="0.9"/>
<line x1="342.60" y1="468.00" x2="342.60" y2="470.60" stroke="#1a1a1a" stroke-width="0.9"/>
<line x1="355.30" y1="468.00" x2="355.30" y2="470.60" stroke="#1a1a1a" stroke-width="0.8"/>
<line x1="375.53" y1="468.00" x2="375.53" y2="469.40" stroke="#1a1a1a" stroke-width="0.8"/>
<line x1="387.36" y1="468.00" x2="387.36" y2="469.40" stroke="#1a1a1a" stroke-width="0.8"/>
<line x1="395.76" y1="468.00" x2="395.76" y2="469.40" stroke="#1a1a1a" stroke-width="0.8"/>
<line x1="402.27" y1="468.00" x2="402.27" y2="469.40" stroke="#1a1a1a" stroke-width="0.8"/>
<line x1="407.59" y1="468.00" x2="407.59" y2="469.40" stroke="#1a1a1a" stroke-width="0.8"/>
<line x1="412.09" y1="468.00" x2="412.09" y2="469.40" stroke="#1a1a1a" stroke-width="0.8"/>
<line x1="415.99" y1="468.00" x2="415.99" y2="469.40" stroke="#1a1a1a" stroke-width="0.8"/>
<line x1="419.43" y1="468.00" x2="419.43" y2="469.40" stroke="#1a1a1a" stroke-width="0.8"/>
<line x1="422.50" y1="468.00" x2="422.50" y2="470.60" stroke="#1a1a1a" stroke-width="0.8"/>
<line x1="442.73" y1="468.00" x2="442.73" y2="469.40" stroke="#1a1a1a" stroke-width="0.8"/>
<line x1="454.56" y1="468.00" x2="454.56" y2="469.40" stroke="#1a1a1a" stroke-width="0.8"/>
<line x1="462.96" y1="468.00" x2="462.96" y2="469.40" stroke="#1a1a1a" stroke-width="0.8"/>
<line x1="469.47" y1="468.00" x2="469.47" y2="469.40" stroke="#1a1a1a" stroke-width="0.8"/>
<line x1="474.79" y1="468.00" x2="474.79" y2="469.40" stroke="#1a1a1a" stroke-width="0.8"/>
<line x1="479.29" y1="468.00" x2="479.29" y2="469.40" stroke="#1a1a1a" stroke-width="0.8"/>
<line x1="483.19" y1="468.00" x2="483.19" y2="469.40" stroke="#1a1a1a" stroke-width="0.8"/>
<line x1="486.63" y1="468.00" x2="486.63" y2="469.40" stroke="#1a1a1a" stroke-width="0.8"/>
<line x1="489.70" y1="468.00" x2="489.70" y2="470.60" stroke="#1a1a1a" stroke-width="0.8"/>
<line x1="509.93" y1="468.00" x2="509.93" y2="469.40" stroke="#1a1a1a" stroke-width="0.8"/>
<text x="342.60" y="480.90" font-size="7.7" text-anchor="middle" fill="#333" stroke="#333" stroke-width="0.16">0</text>
<text x="355.30" y="480.90" font-size="7.7" text-anchor="middle" fill="#333" stroke="#333" stroke-width="0.16">1</text>
<text x="422.50" y="480.90" font-size="7.7" text-anchor="middle" fill="#333" stroke="#333" stroke-width="0.16">10</text>
<text x="489.70" y="480.90" font-size="7.7" text-anchor="middle" fill="#333" stroke="#333" stroke-width="0.16">100</text>
<text x="423.00" y="494.30" font-size="8.8" text-anchor="middle" fill="#303030" textLength="41.8" lengthAdjust="spacingAndGlyphs" class="cond">Antibody (nM)</text>
<text transform="translate(297.00,424.80) rotate(-90)" x="0" y="0" font-size="9.3" text-anchor="middle" fill="#303030" textLength="66.8" lengthAdjust="spacingAndGlyphs" class="cond">Normalized SEAP-PAR1</text>
<text transform="translate(308.60,424.80) rotate(-90)" x="0" y="0" font-size="9.3" text-anchor="middle" fill="#303030" textLength="38.4" lengthAdjust="spacingAndGlyphs" class="cond">cleavage (%)</text>
<line x1="342.20" y1="398.91" x2="350.60" y2="398.91" stroke="#b1c3ab" stroke-width="1.0"/>
<polyline points="355.3,399.0 356.1,399.0 356.9,399.0 357.7,399.1 358.5,399.1 359.3,399.2 360.1,399.2 360.9,399.3 361.7,399.3 362.5,399.3 363.3,399.4 364.1,399.4 364.9,399.5 365.7,399.5 366.5,399.6 367.3,399.6 368.1,399.6 368.9,399.7 369.7,399.7 370.5,399.7 371.3,399.8 372.1,399.8 372.9,399.8 373.7,399.9 374.5,399.9 375.3,399.9 376.1,400.0 376.9,400.0 377.7,400.1 378.5,400.1 379.3,400.1 380.1,400.2 380.9,400.2 381.7,400.2 382.5,400.3 383.3,400.3 384.1,400.3 384.9,400.4 385.7,400.4 386.5,400.5 387.3,400.5 388.1,400.6 388.9,400.6 389.7,400.6 390.5,400.7 391.3,400.7 392.1,400.8 392.9,400.8 393.7,400.9 394.5,401.0 395.3,401.0 396.1,401.1 396.9,401.1 397.7,401.2 398.5,401.3 399.3,401.3 400.1,401.4 400.9,401.5 401.7,401.5 402.5,401.6 403.3,401.7 404.1,401.8 404.9,401.9 405.7,402.0 406.5,402.1 407.3,402.2 408.1,402.2 408.9,402.3 409.7,402.5 410.5,402.6 411.3,402.7 412.1,402.8 412.9,403.0 413.7,403.2 414.5,403.4 415.3,403.6 416.1,403.9 416.9,404.3 417.7,404.6 418.5,405.1 419.3,405.6 420.1,406.2 420.9,406.8 421.7,407.4 422.5,408.1 423.3,408.8 424.1,409.5 424.9,410.3 425.7,411.1 426.5,411.9 427.3,412.8 428.1,413.7 428.9,414.6 429.7,415.6 430.5,416.6 431.3,417.7 432.1,418.8 432.9,420.0 433.7,421.2 434.5,422.5 435.3,423.8 436.1,425.2 436.9,426.6 437.7,428.1 438.5,429.6 439.3,431.1 440.1,432.7 440.9,434.2 441.7,435.7 442.5,437.3 443.3,438.8 444.1,440.3 444.9,441.7 445.7,443.1 446.5,444.5 447.3,445.7 448.1,447.0 448.9,448.1 449.7,449.2 450.5,450.3 451.3,451.2 452.1,452.0 452.9,452.8 453.7,453.5 454.5,454.1 455.3,454.7 456.1,455.1 456.9,455.5 457.7,455.8 458.5,456.0 459.3,456.2 460.1,456.3 460.9,456.4 461.7,456.5 462.5,456.5 463.3,456.6 464.1,456.6 464.9,456.6 465.7,456.6 466.5,456.7 467.3,456.7 468.1,456.7 468.9,456.7 469.7,456.7 470.5,456.7 471.3,456.8 472.1,456.8 472.9,456.8 473.7,456.8 474.5,456.8 475.3,456.8 476.1,456.8 476.9,456.8 477.7,456.9 478.5,456.9 479.3,456.9 480.1,456.9 480.9,456.9 481.7,456.9 482.5,456.9 483.3,456.9 484.1,456.9 484.9,456.9 485.7,456.9 486.5,456.9 487.3,457.0 488.1,457.0 488.9,457.0 489.7,457.0 490.5,457.0 491.3,457.0 492.1,457.0 492.9,457.0 493.7,457.0 494.5,457.0 495.3,457.0 496.1,457.1" fill="none" stroke="#b1c3ab" stroke-width="1.0" stroke-linejoin="round"/>
<line x1="342.20" y1="398.20" x2="350.60" y2="398.20" stroke="#a3a1c8" stroke-width="1.0"/>
<polyline points="355.3,398.2 356.1,398.2 356.9,398.2 357.7,398.2 358.5,398.3 359.3,398.3 360.1,398.3 360.9,398.3 361.7,398.3 362.5,398.3 363.3,398.3 364.1,398.3 364.9,398.3 365.7,398.4 366.5,398.4 367.3,398.4 368.1,398.4 368.9,398.4 369.7,398.4 370.5,398.4 371.3,398.4 372.1,398.4 372.9,398.4 373.7,398.4 374.5,398.5 375.3,398.5 376.1,398.5 376.9,398.5 377.7,398.5 378.5,398.5 379.3,398.5 380.1,398.5 380.9,398.5 381.7,398.5 382.5,398.5 383.3,398.6 384.1,398.6 384.9,398.6 385.7,398.6 386.5,398.6 387.3,398.6 388.1,398.6 388.9,398.6 389.7,398.6 390.5,398.6 391.3,398.7 392.1,398.7 392.9,398.7 393.7,398.7 394.5,398.7 395.3,398.7 396.1,398.7 396.9,398.8 397.7,398.8 398.5,398.8 399.3,398.8 400.1,398.8 400.9,398.8 401.7,398.9 402.5,398.9 403.3,398.9 404.1,398.9 404.9,398.9 405.7,399.0 406.5,399.0 407.3,399.0 408.1,399.0 408.9,399.1 409.7,399.1 410.5,399.1 411.3,399.1 412.1,399.2 412.9,399.2 413.7,399.3 414.5,399.3 415.3,399.4 416.1,399.5 416.9,399.6 417.7,399.7 418.5,399.9 419.3,400.0 420.1,400.3 420.9,400.5 421.7,400.8 422.5,401.2 423.3,401.6 424.1,402.1 424.9,402.7 425.7,403.4 426.5,404.1 427.3,405.0 428.1,406.1 428.9,407.2 429.7,408.5 430.5,410.0 431.3,411.5 432.1,413.2 432.9,415.0 433.7,416.8 434.5,418.6 435.3,420.6 436.1,422.5 436.9,424.4 437.7,426.4 438.5,428.3 439.3,430.2 440.1,432.2 440.9,434.0 441.7,435.9 442.5,437.7 443.3,439.5 444.1,441.2 444.9,442.9 445.7,444.5 446.5,446.0 447.3,447.4 448.1,448.8 448.9,450.0 449.7,451.1 450.5,452.1 451.3,453.0 452.1,453.8 452.9,454.5 453.7,455.2 454.5,455.7 455.3,456.1 456.1,456.5 456.9,456.8 457.7,457.0 458.5,457.2 459.3,457.3 460.1,457.4 460.9,457.4 461.7,457.4 462.5,457.5 463.3,457.5 464.1,457.5 464.9,457.5 465.7,457.5 466.5,457.5 467.3,457.5 468.1,457.5 468.9,457.5 469.7,457.5 470.5,457.5 471.3,457.5 472.1,457.5 472.9,457.6 473.7,457.6 474.5,457.6 475.3,457.6 476.1,457.6 476.9,457.6 477.7,457.6 478.5,457.6 479.3,457.6 480.1,457.6 480.9,457.6 481.7,457.6 482.5,457.6 483.3,457.6 484.1,457.6 484.9,457.6 485.7,457.6 486.5,457.6 487.3,457.6 488.1,457.6 488.9,457.6 489.7,457.6 490.5,457.6 491.3,457.6 492.1,457.6 492.9,457.6 493.7,457.6 494.5,457.6 495.3,457.6 496.1,457.6" fill="none" stroke="#a3a1c8" stroke-width="1.0" stroke-linejoin="round"/>
<line x1="342.20" y1="398.56" x2="350.60" y2="398.56" stroke="#daaa4d" stroke-width="1.0"/>
<polyline points="355.3,398.5 356.1,398.5 356.9,398.5 357.7,398.5 358.5,398.5 359.3,398.5 360.1,398.5 360.9,398.5 361.7,398.5 362.5,398.5 363.3,398.5 364.1,398.5 364.9,398.5 365.7,398.4 366.5,398.4 367.3,398.4 368.1,398.4 368.9,398.4 369.7,398.4 370.5,398.4 371.3,398.4 372.1,398.4 372.9,398.4 373.7,398.4 374.5,398.3 375.3,398.3 376.1,398.3 376.9,398.3 377.7,398.3 378.5,398.3 379.3,398.3 380.1,398.3 380.9,398.3 381.7,398.3 382.5,398.3 383.3,398.3 384.1,398.3 384.9,398.2 385.7,398.2 386.5,398.2 387.3,398.2 388.1,398.2 388.9,398.2 389.7,398.2 390.5,398.2 391.3,398.2 392.1,398.2 392.9,398.2 393.7,398.2 394.5,398.2 395.3,398.2 396.1,398.2 396.9,398.2 397.7,398.3 398.5,398.3 399.3,398.3 400.1,398.3 400.9,398.3 401.7,398.4 402.5,398.4 403.3,398.5 404.1,398.5 404.9,398.5 405.7,398.6 406.5,398.7 407.3,398.7 408.1,398.8 408.9,398.9 409.7,398.9 410.5,399.0 411.3,399.1 412.1,399.3 412.9,399.4 413.7,399.6 414.5,399.8 415.3,400.1 416.1,400.4 416.9,400.7 417.7,401.1 418.5,401.5 419.3,401.9 420.1,402.3 420.9,402.8 421.7,403.2 422.5,403.6 423.3,404.0 424.1,404.4 424.9,404.8 425.7,405.3 426.5,405.7 427.3,406.2 428.1,406.7 428.9,407.2 429.7,407.7 430.5,408.3 431.3,408.9 432.1,409.6 432.9,410.3 433.7,411.1 434.5,411.9 435.3,412.9 436.1,413.8 436.9,414.9 437.7,416.0 438.5,417.2 439.3,418.4 440.1,419.8 440.9,421.1 441.7,422.5 442.5,423.9 443.3,425.3 444.1,426.8 444.9,428.3 445.7,429.8 446.5,431.2 447.3,432.7 448.1,434.2 448.9,435.7 449.7,437.2 450.5,438.7 451.3,440.1 452.1,441.5 452.9,442.9 453.7,444.2 454.5,445.5 455.3,446.7 456.1,447.9 456.9,449.0 457.7,450.0 458.5,451.0 459.3,451.8 460.1,452.6 460.9,453.3 461.7,453.9 462.5,454.4 463.3,454.8 464.1,455.2 464.9,455.5 465.7,455.8 466.5,456.0 467.3,456.2 468.1,456.4 468.9,456.5 469.7,456.6 470.5,456.7 471.3,456.8 472.1,456.8 472.9,456.8 473.7,456.8 474.5,456.9 475.3,456.9 476.1,456.9 476.9,456.9 477.7,456.9 478.5,456.9 479.3,456.9 480.1,456.9 480.9,456.9 481.7,456.9 482.5,456.9 483.3,456.9 484.1,456.9 484.9,456.9 485.7,456.9 486.5,456.9 487.3,456.9 488.1,456.9 488.9,456.9 489.7,456.9 490.5,456.9 491.3,456.9 492.1,456.9 492.9,456.9 493.7,456.9 494.5,456.9 495.3,456.9 496.1,456.9" fill="none" stroke="#daaa4d" stroke-width="1.0" stroke-linejoin="round"/>
<line x1="342.20" y1="398.91" x2="350.60" y2="398.91" stroke="#dbba45" stroke-width="1.0"/>
<polyline points="355.3,399.0 356.1,399.0 356.9,399.0 357.7,399.1 358.5,399.1 359.3,399.1 360.1,399.2 360.9,399.2 361.7,399.2 362.5,399.3 363.3,399.3 364.1,399.3 364.9,399.4 365.7,399.4 366.5,399.4 367.3,399.5 368.1,399.5 368.9,399.5 369.7,399.6 370.5,399.6 371.3,399.6 372.1,399.7 372.9,399.7 373.7,399.7 374.5,399.8 375.3,399.8 376.1,399.8 376.9,399.8 377.7,399.9 378.5,399.9 379.3,399.9 380.1,400.0 380.9,400.0 381.7,400.0 382.5,400.0 383.3,400.1 384.1,400.1 384.9,400.1 385.7,400.2 386.5,400.2 387.3,400.3 388.1,400.3 388.9,400.3 389.7,400.4 390.5,400.4 391.3,400.4 392.1,400.5 392.9,400.5 393.7,400.6 394.5,400.6 395.3,400.7 396.1,400.7 396.9,400.8 397.7,400.8 398.5,400.9 399.3,400.9 400.1,401.0 400.9,401.1 401.7,401.1 402.5,401.2 403.3,401.2 404.1,401.3 404.9,401.4 405.7,401.5 406.5,401.5 407.3,401.6 408.1,401.7 408.9,401.8 409.7,401.9 410.5,402.0 411.3,402.1 412.1,402.2 412.9,402.3 413.7,402.4 414.5,402.6 415.3,402.8 416.1,403.0 416.9,403.3 417.7,403.6 418.5,403.9 419.3,404.3 420.1,404.7 420.9,405.1 421.7,405.6 422.5,406.2 423.3,406.7 424.1,407.3 424.9,408.0 425.7,408.7 426.5,409.4 427.3,410.3 428.1,411.1 428.9,412.1 429.7,413.1 430.5,414.2 431.3,415.4 432.1,416.7 432.9,418.0 433.7,419.3 434.5,420.7 435.3,422.2 436.1,423.6 436.9,425.1 437.7,426.6 438.5,428.2 439.3,429.7 440.1,431.3 440.9,432.8 441.7,434.4 442.5,435.9 443.3,437.5 444.1,439.0 444.9,440.5 445.7,441.9 446.5,443.3 447.3,444.7 448.1,446.0 448.9,447.3 449.7,448.4 450.5,449.5 451.3,450.6 452.1,451.5 452.9,452.4 453.7,453.2 454.5,453.8 455.3,454.5 456.1,455.0 456.9,455.4 457.7,455.7 458.5,456.0 459.3,456.2 460.1,456.3 460.9,456.4 461.7,456.5 462.5,456.5 463.3,456.6 464.1,456.6 464.9,456.6 465.7,456.6 466.5,456.7 467.3,456.7 468.1,456.7 468.9,456.7 469.7,456.7 470.5,456.7 471.3,456.8 472.1,456.8 472.9,456.8 473.7,456.8 474.5,456.8 475.3,456.8 476.1,456.8 476.9,456.8 477.7,456.9 478.5,456.9 479.3,456.9 480.1,456.9 480.9,456.9 481.7,456.9 482.5,456.9 483.3,456.9 484.1,456.9 484.9,456.9 485.7,456.9 486.5,456.9 487.3,457.0 488.1,457.0 488.9,457.0 489.7,457.0 490.5,457.0 491.3,457.0 492.1,457.0 492.9,457.0 493.7,457.0 494.5,457.0 495.3,457.0 496.1,457.1" fill="none" stroke="#dbba45" stroke-width="1.0" stroke-linejoin="round"/>
<line x1="342.20" y1="404.13" x2="350.60" y2="404.13" stroke="#5ea158" stroke-width="1.0"/>
<polyline points="355.3,404.8 356.1,404.9 356.9,404.9 357.7,405.0 358.5,405.0 359.3,405.1 360.1,405.1 360.9,405.2 361.7,405.2 362.5,405.3 363.3,405.3 364.1,405.4 364.9,405.4 365.7,405.5 366.5,405.5 367.3,405.6 368.1,405.6 368.9,405.7 369.7,405.7 370.5,405.8 371.3,405.9 372.1,405.9 372.9,406.0 373.7,406.0 374.5,406.1 375.3,406.1 376.1,406.2 376.9,406.2 377.7,406.3 378.5,406.3 379.3,406.4 380.1,406.5 380.9,406.5 381.7,406.6 382.5,406.7 383.3,406.7 384.1,406.8 384.9,406.9 385.7,406.9 386.5,407.0 387.3,407.1 388.1,407.2 388.9,407.2 389.7,407.3 390.5,407.4 391.3,407.5 392.1,407.6 392.9,407.7 393.7,407.8 394.5,407.9 395.3,408.0 396.1,408.1 396.9,408.2 397.7,408.3 398.5,408.4 399.3,408.6 400.1,408.7 400.9,408.9 401.7,409.0 402.5,409.2 403.3,409.3 404.1,409.5 404.9,409.7 405.7,409.9 406.5,410.1 407.3,410.3 408.1,410.5 408.9,410.7 409.7,410.9 410.5,411.2 411.3,411.4 412.1,411.7 412.9,412.0 413.7,412.3 414.5,412.6 415.3,413.0 416.1,413.4 416.9,413.8 417.7,414.2 418.5,414.7 419.3,415.2 420.1,415.7 420.9,416.3 421.7,416.8 422.5,417.4 423.3,418.0 424.1,418.6 424.9,419.3 425.7,419.9 426.5,420.6 427.3,421.3 428.1,422.0 428.9,422.7 429.7,423.5 430.5,424.3 431.3,425.1 432.1,425.9 432.9,426.8 433.7,427.7 434.5,428.6 435.3,429.6 436.1,430.6 436.9,431.7 437.7,432.8 438.5,434.0 439.3,435.1 440.1,436.3 440.9,437.5 441.7,438.7 442.5,439.9 443.3,441.1 444.1,442.3 444.9,443.4 445.7,444.5 446.5,445.6 447.3,446.6 448.1,447.5 448.9,448.5 449.7,449.3 450.5,450.1 451.3,450.8 452.1,451.5 452.9,452.2 453.7,452.7 454.5,453.3 455.3,453.8 456.1,454.2 456.9,454.6 457.7,455.0 458.5,455.3 459.3,455.6 460.1,455.9 460.9,456.1 461.7,456.3 462.5,456.5 463.3,456.7 464.1,456.8 464.9,457.0 465.7,457.1 466.5,457.2 467.3,457.3 468.1,457.4 468.9,457.5 469.7,457.5 470.5,457.6 471.3,457.6 472.1,457.6 472.9,457.6 473.7,457.6 474.5,457.6 475.3,457.6 476.1,457.6 476.9,457.6 477.7,457.6 478.5,457.6 479.3,457.6 480.1,457.6 480.9,457.6 481.7,457.6 482.5,457.6 483.3,457.6 484.1,457.6 484.9,457.6 485.7,457.6 486.5,457.6 487.3,457.6 488.1,457.6 488.9,457.6 489.7,457.6 490.5,457.6 491.3,457.6 492.1,457.6 492.9,457.6 493.7,457.6 494.5,457.6 495.3,457.6 496.1,457.6" fill="none" stroke="#5ea158" stroke-width="1.0" stroke-linejoin="round"/>
<line x1="342.20" y1="398.84" x2="350.60" y2="398.84" stroke="#653f7f" stroke-width="1.0"/>
<polyline points="355.3,399.7 356.1,399.7 356.9,399.8 357.7,399.8 358.5,399.8 359.3,399.9 360.1,399.9 360.9,400.0 361.7,400.0 362.5,400.1 363.3,400.1 364.1,400.2 364.9,400.2 365.7,400.2 366.5,400.3 367.3,400.3 368.1,400.4 368.9,400.4 369.7,400.5 370.5,400.5 371.3,400.5 372.1,400.6 372.9,400.6 373.7,400.7 374.5,400.7 375.3,400.8 376.1,400.8 376.9,400.9 377.7,400.9 378.5,401.0 379.3,401.0 380.1,401.1 380.9,401.1 381.7,401.2 382.5,401.2 383.3,401.3 384.1,401.4 384.9,401.4 385.7,401.5 386.5,401.6 387.3,401.6 388.1,401.7 388.9,401.8 389.7,401.9 390.5,402.0 391.3,402.1 392.1,402.2 392.9,402.3 393.7,402.4 394.5,402.5 395.3,402.6 396.1,402.7 396.9,402.9 397.7,403.0 398.5,403.2 399.3,403.4 400.1,403.6 400.9,403.8 401.7,404.0 402.5,404.3 403.3,404.5 404.1,404.8 404.9,405.1 405.7,405.4 406.5,405.8 407.3,406.1 408.1,406.5 408.9,406.9 409.7,407.3 410.5,407.8 411.3,408.3 412.1,408.8 412.9,409.5 413.7,410.1 414.5,410.9 415.3,411.8 416.1,412.8 416.9,413.8 417.7,414.9 418.5,416.1 419.3,417.3 420.1,418.5 420.9,419.7 421.7,420.8 422.5,422.0 423.3,423.1 424.1,424.3 424.9,425.5 425.7,426.7 426.5,427.9 427.3,429.2 428.1,430.5 428.9,431.8 429.7,433.3 430.5,434.7 431.3,436.2 432.1,437.7 432.9,439.1 433.7,440.6 434.5,442.0 435.3,443.4 436.1,444.8 436.9,446.1 437.7,447.4 438.5,448.6 439.3,449.7 440.1,450.8 440.9,451.8 441.7,452.8 442.5,453.6 443.3,454.5 444.1,455.2 444.9,455.9 445.7,456.5 446.5,457.0 447.3,457.5 448.1,457.9 448.9,458.3 449.7,458.6 450.5,458.9 451.3,459.1 452.1,459.3 452.9,459.4 453.7,459.5 454.5,459.6 455.3,459.7 456.1,459.8 456.9,459.8 457.7,459.9 458.5,459.9 459.3,460.0 460.1,460.0 460.9,460.0 461.7,460.0 462.5,460.0 463.3,460.0 464.1,460.0 464.9,460.0 465.7,460.0 466.5,460.0 467.3,460.0 468.1,460.0 468.9,460.0 469.7,460.0 470.5,460.0 471.3,460.0 472.1,460.0 472.9,460.0 473.7,460.0 474.5,460.0 475.3,460.0 476.1,460.0 476.9,460.0 477.7,460.0 478.5,460.0 479.3,460.0 480.1,460.0 480.9,460.0 481.7,460.0 482.5,460.0 483.3,460.0 484.1,460.0 484.9,460.0 485.7,460.0 486.5,460.0 487.3,460.0 488.1,460.0 488.9,460.0 489.7,460.0 490.5,460.0 491.3,460.0 492.1,460.0 492.9,460.0 493.7,460.0 494.5,460.0 495.3,460.0 496.1,460.0" fill="none" stroke="#653f7f" stroke-width="1.0" stroke-linejoin="round"/>
<line x1="342.20" y1="398.84" x2="350.60" y2="398.84" stroke="#1f3560" stroke-width="1.2"/>
<polyline points="355.3,399.5 356.1,399.5 356.9,399.5 357.7,399.6 358.5,399.6 359.3,399.6 360.1,399.6 360.9,399.7 361.7,399.7 362.5,399.7 363.3,399.7 364.1,399.8 364.9,399.8 365.7,399.8 366.5,399.8 367.3,399.9 368.1,399.9 368.9,399.9 369.7,399.9 370.5,399.9 371.3,400.0 372.1,400.0 372.9,400.0 373.7,400.0 374.5,400.1 375.3,400.1 376.1,400.1 376.9,400.1 377.7,400.2 378.5,400.2 379.3,400.2 380.1,400.3 380.9,400.3 381.7,400.3 382.5,400.4 383.3,400.4 384.1,400.4 384.9,400.5 385.7,400.5 386.5,400.5 387.3,400.6 388.1,400.6 388.9,400.7 389.7,400.7 390.5,400.8 391.3,400.8 392.1,400.9 392.9,400.9 393.7,401.0 394.5,401.1 395.3,401.1 396.1,401.2 396.9,401.3 397.7,401.4 398.5,401.6 399.3,401.7 400.1,401.9 400.9,402.0 401.7,402.2 402.5,402.4 403.3,402.6 404.1,402.8 404.9,403.0 405.7,403.2 406.5,403.4 407.3,403.7 408.1,403.9 408.9,404.2 409.7,404.5 410.5,404.8 411.3,405.0 412.1,405.4 412.9,405.7 413.7,406.0 414.5,406.4 415.3,406.8 416.1,407.2 416.9,407.6 417.7,408.1 418.5,408.6 419.3,409.1 420.1,409.7 420.9,410.3 421.7,410.9 422.5,411.6 423.3,412.2 424.1,412.9 424.9,413.7 425.7,414.4 426.5,415.2 427.3,416.0 428.1,416.9 428.9,417.8 429.7,418.7 430.5,419.7 431.3,420.7 432.1,421.8 432.9,422.8 433.7,424.0 434.5,425.1 435.3,426.3 436.1,427.6 436.9,428.8 437.7,430.2 438.5,431.5 439.3,432.9 440.1,434.2 440.9,435.6 441.7,437.0 442.5,438.4 443.3,439.8 444.1,441.2 444.9,442.5 445.7,443.9 446.5,445.1 447.3,446.4 448.1,447.6 448.9,448.7 449.7,449.7 450.5,450.7 451.3,451.5 452.1,452.3 452.9,453.0 453.7,453.6 454.5,454.1 455.3,454.6 456.1,455.0 456.9,455.3 457.7,455.6 458.5,455.8 459.3,456.0 460.1,456.2 460.9,456.3 461.7,456.4 462.5,456.5 463.3,456.6 464.1,456.7 464.9,456.7 465.7,456.8 466.5,456.8 467.3,456.8 468.1,456.8 468.9,456.9 469.7,456.9 470.5,456.9 471.3,456.9 472.1,456.9 472.9,456.9 473.7,456.9 474.5,456.9 475.3,456.9 476.1,456.9 476.9,456.9 477.7,456.9 478.5,456.9 479.3,456.9 480.1,456.9 480.9,456.9 481.7,456.9 482.5,456.9 483.3,456.9 484.1,456.9 484.9,456.9 485.7,456.9 486.5,456.9 487.3,456.9 488.1,456.9 488.9,456.9 489.7,456.9 490.5,456.9 491.3,456.9 492.1,456.9 492.9,456.9 493.7,456.9 494.5,456.9 495.3,456.9 496.1,456.9" fill="none" stroke="#1f3560" stroke-width="1.2" stroke-linejoin="round"/>
<circle cx="374.84" cy="394.68" r="1.3" fill="#b1c3ab"/>
<circle cx="395.07" cy="394.68" r="1.3" fill="#b1c3ab"/>
<circle cx="435.52" cy="404.76" r="1.3" fill="#b1c3ab"/>
<circle cx="374.84" cy="388.34" r="1.3" fill="#a3a1c8"/>
<circle cx="395.07" cy="387.63" r="1.3" fill="#a3a1c8"/>
<circle cx="415.30" cy="398.91" r="1.3" fill="#a3a1c8"/>
<circle cx="435.52" cy="421.68" r="1.3" fill="#a3a1c8"/>
<circle cx="455.75" cy="456.72" r="1.3" fill="#a3a1c8"/>
<circle cx="475.98" cy="457.64" r="1.3" fill="#a3a1c8"/>
<circle cx="496.21" cy="458.13" r="1.3" fill="#a3a1c8"/>
<circle cx="374.84" cy="391.86" r="1.3" fill="#daaa4d"/>
<circle cx="395.07" cy="393.98" r="1.3" fill="#daaa4d"/>
<circle cx="415.30" cy="402.44" r="1.3" fill="#daaa4d"/>
<circle cx="435.52" cy="411.74" r="1.3" fill="#daaa4d"/>
<circle cx="455.75" cy="446.14" r="1.3" fill="#daaa4d"/>
<circle cx="475.98" cy="457.43" r="1.3" fill="#daaa4d"/>
<circle cx="496.21" cy="457.43" r="1.3" fill="#daaa4d"/>
<circle cx="374.84" cy="393.27" r="1.3" fill="#dbba45"/>
<circle cx="435.52" cy="424.29" r="1.3" fill="#dbba45"/>
<circle cx="374.84" cy="410.19" r="1.3" fill="#5ea158"/>
<circle cx="395.07" cy="412.45" r="1.3" fill="#5ea158"/>
<circle cx="415.30" cy="411.74" r="1.3" fill="#5ea158"/>
<circle cx="435.52" cy="429.23" r="1.3" fill="#5ea158"/>
<circle cx="455.75" cy="456.01" r="1.3" fill="#5ea158"/>
<circle cx="475.98" cy="457.64" r="1.3" fill="#5ea158"/>
<circle cx="496.21" cy="457.64" r="1.3" fill="#5ea158"/>
<circle cx="374.84" cy="397.50" r="1.3" fill="#653f7f"/>
<circle cx="395.07" cy="399.62" r="1.3" fill="#653f7f"/>
<circle cx="415.30" cy="419.36" r="1.3" fill="#653f7f"/>
<circle cx="435.52" cy="443.89" r="1.3" fill="#653f7f"/>
<circle cx="455.75" cy="460.03" r="1.3" fill="#653f7f"/>
<circle cx="475.98" cy="459.54" r="1.3" fill="#653f7f"/>
<circle cx="496.21" cy="459.89" r="1.3" fill="#653f7f"/>
<circle cx="342.60" cy="396.80" r="1.3" fill="#1f3560"/>
<circle cx="374.84" cy="396.80" r="1.3" fill="#1f3560"/>
<circle cx="395.07" cy="397.92" r="1.3" fill="#1f3560"/>
<circle cx="415.30" cy="406.67" r="1.3" fill="#1f3560"/>
<circle cx="435.52" cy="428.52" r="1.3" fill="#1f3560"/>
<circle cx="455.75" cy="455.38" r="1.3" fill="#1f3560"/>
<circle cx="475.98" cy="457.64" r="1.3" fill="#1f3560"/>
<circle cx="496.21" cy="457.64" r="1.3" fill="#1f3560"/>
<line x1="338.40" y1="419.50" x2="343.60" y2="419.50" stroke="#daaa4d" stroke-width="0.75" opacity="0.8"/>
<circle cx="341.00" cy="419.50" r="1.05" fill="#daaa4d"/>
<text x="347.50" y="422.00" font-size="7.2" fill="#303030" stroke="#303030" stroke-width="0.26">S56W</text>
<line x1="338.40" y1="426.50" x2="343.60" y2="426.50" stroke="#b1c3ab" stroke-width="0.75" opacity="0.8"/>
<circle cx="341.00" cy="426.50" r="1.05" fill="#b1c3ab"/>
<text x="347.50" y="429.00" font-size="7.2" fill="#303030" stroke="#303030" stroke-width="0.26">N57W</text>
<line x1="338.40" y1="432.90" x2="343.60" y2="432.90" stroke="#a3a1c8" stroke-width="0.75" opacity="0.8"/>
<circle cx="341.00" cy="432.90" r="1.05" fill="#a3a1c8"/>
<text x="347.50" y="435.40" font-size="7.2" fill="#303030" stroke="#303030" stroke-width="0.26">N57R</text>
<line x1="338.40" y1="440.30" x2="343.60" y2="440.30" stroke="#1f3560" stroke-width="0.75" opacity="0.8"/>
<circle cx="341.00" cy="440.30" r="1.05" fill="#1f3560"/>
<text x="347.50" y="442.80" font-size="7.2" fill="#303030" stroke="#303030" stroke-width="0.26">TPP-26870 (parental)</text>
<line x1="338.40" y1="447.20" x2="343.60" y2="447.20" stroke="#dbba45" stroke-width="0.75" opacity="0.8"/>
<circle cx="341.00" cy="447.20" r="1.05" fill="#dbba45"/>
<text x="347.50" y="449.70" font-size="7.2" fill="#303030" stroke="#303030" stroke-width="0.26">N57H</text>
<line x1="338.40" y1="453.60" x2="343.60" y2="453.60" stroke="#5ea158" stroke-width="0.75" opacity="0.8"/>
<circle cx="341.00" cy="453.60" r="1.05" fill="#5ea158"/>
<text x="347.50" y="456.10" font-size="7.2" fill="#303030" stroke="#303030" stroke-width="0.26">A55K</text>
<line x1="338.40" y1="460.50" x2="343.60" y2="460.50" stroke="#653f7f" stroke-width="0.75" opacity="0.8"/>
<circle cx="341.00" cy="460.50" r="1.05" fill="#653f7f"/>
<text x="347.50" y="463.00" font-size="7.2" fill="#303030" stroke="#303030" stroke-width="0.26">S56R</text>
<text x="268.70" y="522.50" font-size="11.4" font-weight="bold" fill="#111" class="let">H</text>
<text x="423.00" y="522.90" font-size="9.6" text-anchor="middle" fill="#303030" stroke="#303030" stroke-width="0.26">CDR3</text>
<line x1="333.60" y1="527.80" x2="333.60" y2="616.30" stroke="#1a1a1a" stroke-width="1.1"/>
<line x1="330.90" y1="616.30" x2="333.60" y2="616.30" stroke="#1a1a1a" stroke-width="0.8"/>
<line x1="332.30" y1="612.76" x2="333.60" y2="612.76" stroke="#1a1a1a" stroke-width="0.8"/>
<line x1="332.30" y1="609.22" x2="333.60" y2="609.22" stroke="#1a1a1a" stroke-width="0.8"/>
<line x1="332.30" y1="605.68" x2="333.60" y2="605.68" stroke="#1a1a1a" stroke-width="0.8"/>
<line x1="332.30" y1="602.14" x2="333.60" y2="602.14" stroke="#1a1a1a" stroke-width="0.8"/>
<line x1="330.90" y1="598.60" x2="333.60" y2="598.60" stroke="#1a1a1a" stroke-width="0.8"/>
<line x1="332.30" y1="595.06" x2="333.60" y2="595.06" stroke="#1a1a1a" stroke-width="0.8"/>
<line x1="332.30" y1="591.52" x2="333.60" y2="591.52" stroke="#1a1a1a" stroke-width="0.8"/>
<line x1="332.30" y1="587.98" x2="333.60" y2="587.98" stroke="#1a1a1a" stroke-width="0.8"/>
<line x1="332.30" y1="584.44" x2="333.60" y2="584.44" stroke="#1a1a1a" stroke-width="0.8"/>
<line x1="330.90" y1="580.90" x2="333.60" y2="580.90" stroke="#1a1a1a" stroke-width="0.8"/>
<line x1="332.30" y1="577.36" x2="333.60" y2="577.36" stroke="#1a1a1a" stroke-width="0.8"/>
<line x1="332.30" y1="573.82" x2="333.60" y2="573.82" stroke="#1a1a1a" stroke-width="0.8"/>
<line x1="332.30" y1="570.28" x2="333.60" y2="570.28" stroke="#1a1a1a" stroke-width="0.8"/>
<line x1="332.30" y1="566.74" x2="333.60" y2="566.74" stroke="#1a1a1a" stroke-width="0.8"/>
<line x1="330.90" y1="563.20" x2="333.60" y2="563.20" stroke="#1a1a1a" stroke-width="0.8"/>
<line x1="332.30" y1="559.66" x2="333.60" y2="559.66" stroke="#1a1a1a" stroke-width="0.8"/>
<line x1="332.30" y1="556.12" x2="333.60" y2="556.12" stroke="#1a1a1a" stroke-width="0.8"/>
<line x1="332.30" y1="552.58" x2="333.60" y2="552.58" stroke="#1a1a1a" stroke-width="0.8"/>
<line x1="332.30" y1="549.04" x2="333.60" y2="549.04" stroke="#1a1a1a" stroke-width="0.8"/>
<line x1="330.90" y1="545.50" x2="333.60" y2="545.50" stroke="#1a1a1a" stroke-width="0.8"/>
<line x1="332.30" y1="541.96" x2="333.60" y2="541.96" stroke="#1a1a1a" stroke-width="0.8"/>
<line x1="332.30" y1="538.42" x2="333.60" y2="538.42" stroke="#1a1a1a" stroke-width="0.8"/>
<line x1="332.30" y1="534.88" x2="333.60" y2="534.88" stroke="#1a1a1a" stroke-width="0.8"/>
<line x1="332.30" y1="531.34" x2="333.60" y2="531.34" stroke="#1a1a1a" stroke-width="0.8"/>
<line x1="330.90" y1="527.80" x2="333.60" y2="527.80" stroke="#1a1a1a" stroke-width="0.8"/>
<text x="327.60" y="619.10" font-size="7.9" text-anchor="end" fill="#333" stroke="#333" stroke-width="0.16">0</text>
<text x="327.60" y="601.40" font-size="7.9" text-anchor="end" fill="#333" stroke="#333" stroke-width="0.16">25</text>
<text x="327.60" y="583.70" font-size="7.9" text-anchor="end" fill="#333" stroke="#333" stroke-width="0.16">50</text>
<text x="327.60" y="566.00" font-size="7.9" text-anchor="end" fill="#333" stroke="#333" stroke-width="0.16">75</text>
<text x="327.60" y="548.30" font-size="7.9" text-anchor="end" fill="#333" stroke="#333" stroke-width="0.16">100</text>
<line x1="332.50" y1="616.30" x2="350.90" y2="616.30" stroke="#1a1a1a" stroke-width="1.2"/>
<line x1="354.60" y1="616.30" x2="512.00" y2="616.30" stroke="#1a1a1a" stroke-width="1.2"/>
<line x1="350.90" y1="614.10" x2="350.90" y2="618.50" stroke="#1a1a1a" stroke-width="0.9"/>
<line x1="354.60" y1="614.10" x2="354.60" y2="618.50" stroke="#1a1a1a" stroke-width="0.9"/>
<line x1="342.60" y1="616.30" x2="342.60" y2="618.90" stroke="#1a1a1a" stroke-width="0.9"/>
<line x1="355.30" y1="616.30" x2="355.30" y2="618.90" stroke="#1a1a1a" stroke-width="0.8"/>
<line x1="375.53" y1="616.30" x2="375.53" y2="617.70" stroke="#1a1a1a" stroke-width="0.8"/>
<line x1="387.36" y1="616.30" x2="387.36" y2="617.70" stroke="#1a1a1a" stroke-width="0.8"/>
<line x1="395.76" y1="616.30" x2="395.76" y2="617.70" stroke="#1a1a1a" stroke-width="0.8"/>
<line x1="402.27" y1="616.30" x2="402.27" y2="617.70" stroke="#1a1a1a" stroke-width="0.8"/>
<line x1="407.59" y1="616.30" x2="407.59" y2="617.70" stroke="#1a1a1a" stroke-width="0.8"/>
<line x1="412.09" y1="616.30" x2="412.09" y2="617.70" stroke="#1a1a1a" stroke-width="0.8"/>
<line x1="415.99" y1="616.30" x2="415.99" y2="617.70" stroke="#1a1a1a" stroke-width="0.8"/>
<line x1="419.43" y1="616.30" x2="419.43" y2="617.70" stroke="#1a1a1a" stroke-width="0.8"/>
<line x1="422.50" y1="616.30" x2="422.50" y2="618.90" stroke="#1a1a1a" stroke-width="0.8"/>
<line x1="442.73" y1="616.30" x2="442.73" y2="617.70" stroke="#1a1a1a" stroke-width="0.8"/>
<line x1="454.56" y1="616.30" x2="454.56" y2="617.70" stroke="#1a1a1a" stroke-width="0.8"/>
<line x1="462.96" y1="616.30" x2="462.96" y2="617.70" stroke="#1a1a1a" stroke-width="0.8"/>
<line x1="469.47" y1="616.30" x2="469.47" y2="617.70" stroke="#1a1a1a" stroke-width="0.8"/>
<line x1="474.79" y1="616.30" x2="474.79" y2="617.70" stroke="#1a1a1a" stroke-width="0.8"/>
<line x1="479.29" y1="616.30" x2="479.29" y2="617.70" stroke="#1a1a1a" stroke-width="0.8"/>
<line x1="483.19" y1="616.30" x2="483.19" y2="617.70" stroke="#1a1a1a" stroke-width="0.8"/>
<line x1="486.63" y1="616.30" x2="486.63" y2="617.70" stroke="#1a1a1a" stroke-width="0.8"/>
<line x1="489.70" y1="616.30" x2="489.70" y2="618.90" stroke="#1a1a1a" stroke-width="0.8"/>
<line x1="509.93" y1="616.30" x2="509.93" y2="617.70" stroke="#1a1a1a" stroke-width="0.8"/>
<text x="342.60" y="629.20" font-size="7.7" text-anchor="middle" fill="#333" stroke="#333" stroke-width="0.16">0</text>
<text x="355.30" y="629.20" font-size="7.7" text-anchor="middle" fill="#333" stroke="#333" stroke-width="0.16">1</text>
<text x="422.50" y="629.20" font-size="7.7" text-anchor="middle" fill="#333" stroke="#333" stroke-width="0.16">10</text>
<text x="489.70" y="629.20" font-size="7.7" text-anchor="middle" fill="#333" stroke="#333" stroke-width="0.16">100</text>
<text x="423.00" y="642.60" font-size="8.8" text-anchor="middle" fill="#303030" textLength="41.8" lengthAdjust="spacingAndGlyphs" class="cond">Antibody (nM)</text>
<text transform="translate(297.00,573.10) rotate(-90)" x="0" y="0" font-size="9.3" text-anchor="middle" fill="#303030" textLength="66.8" lengthAdjust="spacingAndGlyphs" class="cond">Normalized SEAP-PAR1</text>
<text transform="translate(308.60,573.10) rotate(-90)" x="0" y="0" font-size="9.3" text-anchor="middle" fill="#303030" textLength="38.4" lengthAdjust="spacingAndGlyphs" class="cond">cleavage (%)</text>
<line x1="342.20" y1="550.03" x2="350.60" y2="550.03" stroke="#9e7960" stroke-width="1.0"/>
<polyline points="355.3,550.2 356.1,550.2 356.9,550.3 357.7,550.3 358.5,550.3 359.3,550.3 360.1,550.4 360.9,550.4 361.7,550.4 362.5,550.4 363.3,550.5 364.1,550.5 364.9,550.5 365.7,550.6 366.5,550.6 367.3,550.6 368.1,550.6 368.9,550.7 369.7,550.7 370.5,550.7 371.3,550.8 372.1,550.8 372.9,550.8 373.7,550.8 374.5,550.9 375.3,550.9 376.1,550.9 376.9,551.0 377.7,551.0 378.5,551.0 379.3,551.0 380.1,551.1 380.9,551.1 381.7,551.1 382.5,551.2 383.3,551.2 384.1,551.2 384.9,551.3 385.7,551.3 386.5,551.4 387.3,551.4 388.1,551.4 388.9,551.5 389.7,551.5 390.5,551.6 391.3,551.6 392.1,551.7 392.9,551.7 393.7,551.8 394.5,551.8 395.3,551.9 396.1,551.9 396.9,552.0 397.7,552.0 398.5,552.1 399.3,552.1 400.1,552.2 400.9,552.2 401.7,552.3 402.5,552.4 403.3,552.4 404.1,552.5 404.9,552.6 405.7,552.7 406.5,552.8 407.3,552.9 408.1,553.0 408.9,553.1 409.7,553.2 410.5,553.3 411.3,553.5 412.1,553.6 412.9,553.8 413.7,554.0 414.5,554.3 415.3,554.5 416.1,554.9 416.9,555.2 417.7,555.6 418.5,556.0 419.3,556.4 420.1,556.8 420.9,557.2 421.7,557.7 422.5,558.1 423.3,558.6 424.1,559.0 424.9,559.5 425.7,560.0 426.5,560.5 427.3,561.0 428.1,561.6 428.9,562.2 429.7,562.8 430.5,563.5 431.3,564.2 432.1,564.9 432.9,565.6 433.7,566.4 434.5,567.2 435.3,568.0 436.1,568.8 436.9,569.7 437.7,570.5 438.5,571.4 439.3,572.2 440.1,573.1 440.9,574.0 441.7,574.9 442.5,575.8 443.3,576.8 444.1,577.7 444.9,578.6 445.7,579.5 446.5,580.5 447.3,581.4 448.1,582.4 448.9,583.3 449.7,584.3 450.5,585.2 451.3,586.1 452.1,587.1 452.9,588.0 453.7,588.9 454.5,589.8 455.3,590.8 456.1,591.7 456.9,592.6 457.7,593.4 458.5,594.3 459.3,595.1 460.1,596.0 460.9,596.8 461.7,597.5 462.5,598.3 463.3,599.0 464.1,599.7 464.9,600.3 465.7,601.0 466.5,601.6 467.3,602.1 468.1,602.7 468.9,603.2 469.7,603.7 470.5,604.2 471.3,604.6 472.1,605.1 472.9,605.5 473.7,605.9 474.5,606.3 475.3,606.7 476.1,607.0 476.9,607.3 477.7,607.6 478.5,607.8 479.3,608.0 480.1,608.2 480.9,608.3 481.7,608.4 482.5,608.5 483.3,608.5 484.1,608.6 484.9,608.6 485.7,608.6 486.5,608.6 487.3,608.6 488.1,608.6 488.9,608.6 489.7,608.7 490.5,608.7 491.3,608.7 492.1,608.7 492.9,608.7 493.7,608.7 494.5,608.7 495.3,608.7 496.1,608.7" fill="none" stroke="#9e7960" stroke-width="1.0" stroke-linejoin="round"/>
<line x1="342.20" y1="545.57" x2="350.60" y2="545.57" stroke="#d06ea1" stroke-width="1.0"/>
<polyline points="355.3,545.6 356.1,545.6 356.9,545.6 357.7,545.6 358.5,545.6 359.3,545.7 360.1,545.7 360.9,545.7 361.7,545.7 362.5,545.7 363.3,545.7 364.1,545.7 364.9,545.8 365.7,545.8 366.5,545.8 367.3,545.8 368.1,545.8 368.9,545.8 369.7,545.8 370.5,545.8 371.3,545.9 372.1,545.9 372.9,545.9 373.7,545.9 374.5,545.9 375.3,545.9 376.1,545.9 376.9,546.0 377.7,546.0 378.5,546.0 379.3,546.0 380.1,546.0 380.9,546.0 381.7,546.1 382.5,546.1 383.3,546.1 384.1,546.1 384.9,546.1 385.7,546.2 386.5,546.2 387.3,546.2 388.1,546.2 388.9,546.2 389.7,546.3 390.5,546.3 391.3,546.3 392.1,546.3 392.9,546.4 393.7,546.4 394.5,546.4 395.3,546.5 396.1,546.5 396.9,546.5 397.7,546.5 398.5,546.6 399.3,546.6 400.1,546.7 400.9,546.7 401.7,546.7 402.5,546.8 403.3,546.8 404.1,546.9 404.9,546.9 405.7,547.0 406.5,547.0 407.3,547.1 408.1,547.2 408.9,547.3 409.7,547.3 410.5,547.4 411.3,547.5 412.1,547.6 412.9,547.8 413.7,547.9 414.5,548.1 415.3,548.3 416.1,548.6 416.9,548.9 417.7,549.2 418.5,549.5 419.3,549.9 420.1,550.4 420.9,550.8 421.7,551.3 422.5,551.8 423.3,552.3 424.1,552.9 424.9,553.5 425.7,554.1 426.5,554.8 427.3,555.5 428.1,556.3 428.9,557.2 429.7,558.1 430.5,559.1 431.3,560.2 432.1,561.3 432.9,562.5 433.7,563.8 434.5,565.2 435.3,566.6 436.1,568.1 436.9,569.6 437.7,571.2 438.5,572.9 439.3,574.5 440.1,576.2 440.9,577.9 441.7,579.7 442.5,581.4 443.3,583.1 444.1,584.8 444.9,586.5 445.7,588.1 446.5,589.7 447.3,591.3 448.1,592.8 448.9,594.3 449.7,595.6 450.5,596.9 451.3,598.1 452.1,599.2 452.9,600.2 453.7,601.1 454.5,601.9 455.3,602.6 456.1,603.2 456.9,603.7 457.7,604.1 458.5,604.4 459.3,604.7 460.1,604.9 460.9,605.1 461.7,605.2 462.5,605.3 463.3,605.4 464.1,605.4 464.9,605.4 465.7,605.5 466.5,605.5 467.3,605.5 468.1,605.5 468.9,605.5 469.7,605.5 470.5,605.5 471.3,605.5 472.1,605.5 472.9,605.5 473.7,605.5 474.5,605.5 475.3,605.5 476.1,605.6 476.9,605.6 477.7,605.6 478.5,605.6 479.3,605.6 480.1,605.6 480.9,605.6 481.7,605.6 482.5,605.6 483.3,605.6 484.1,605.6 484.9,605.6 485.7,605.6 486.5,605.6 487.3,605.6 488.1,605.6 488.9,605.6 489.7,605.6 490.5,605.6 491.3,605.6 492.1,605.6 492.9,605.6 493.7,605.6 494.5,605.6 495.3,605.6 496.1,605.6" fill="none" stroke="#d06ea1" stroke-width="1.0" stroke-linejoin="round"/>
<line x1="342.20" y1="548.05" x2="350.60" y2="548.05" stroke="#658cbd" stroke-width="1.0"/>
<polyline points="355.3,548.1 356.1,548.2 356.9,548.2 357.7,548.2 358.5,548.3 359.3,548.3 360.1,548.4 360.9,548.4 361.7,548.5 362.5,548.5 363.3,548.6 364.1,548.6 364.9,548.7 365.7,548.7 366.5,548.7 367.3,548.8 368.1,548.8 368.9,548.9 369.7,548.9 370.5,548.9 371.3,549.0 372.1,549.0 372.9,549.1 373.7,549.1 374.5,549.1 375.3,549.2 376.1,549.2 376.9,549.2 377.7,549.3 378.5,549.3 379.3,549.4 380.1,549.4 380.9,549.4 381.7,549.5 382.5,549.5 383.3,549.6 384.1,549.6 384.9,549.6 385.7,549.7 386.5,549.7 387.3,549.8 388.1,549.8 388.9,549.9 389.7,549.9 390.5,550.0 391.3,550.0 392.1,550.1 392.9,550.1 393.7,550.2 394.5,550.2 395.3,550.3 396.1,550.4 396.9,550.4 397.7,550.5 398.5,550.6 399.3,550.7 400.1,550.7 400.9,550.8 401.7,550.9 402.5,551.0 403.3,551.1 404.1,551.1 404.9,551.2 405.7,551.3 406.5,551.4 407.3,551.5 408.1,551.6 408.9,551.7 409.7,551.9 410.5,552.0 411.3,552.1 412.1,552.3 412.9,552.4 413.7,552.6 414.5,552.8 415.3,553.1 416.1,553.4 416.9,553.8 417.7,554.2 418.5,554.7 419.3,555.3 420.1,555.9 420.9,556.5 421.7,557.2 422.5,558.0 423.3,558.8 424.1,559.7 424.9,560.6 425.7,561.5 426.5,562.5 427.3,563.4 428.1,564.4 428.9,565.3 429.7,566.3 430.5,567.3 431.3,568.4 432.1,569.4 432.9,570.5 433.7,571.7 434.5,572.9 435.3,574.2 436.1,575.5 436.9,576.9 437.7,578.4 438.5,579.9 439.3,581.4 440.1,582.9 440.9,584.5 441.7,586.0 442.5,587.5 443.3,588.9 444.1,590.3 444.9,591.7 445.7,593.0 446.5,594.3 447.3,595.5 448.1,596.6 448.9,597.7 449.7,598.7 450.5,599.6 451.3,600.4 452.1,601.2 452.9,601.9 453.7,602.5 454.5,602.9 455.3,603.4 456.1,603.7 456.9,603.9 457.7,604.1 458.5,604.3 459.3,604.4 460.1,604.5 460.9,604.5 461.7,604.6 462.5,604.6 463.3,604.7 464.1,604.7 464.9,604.8 465.7,604.8 466.5,604.8 467.3,604.9 468.1,604.9 468.9,604.9 469.7,604.9 470.5,605.0 471.3,605.0 472.1,605.0 472.9,605.0 473.7,605.0 474.5,605.1 475.3,605.1 476.1,605.1 476.9,605.1 477.7,605.1 478.5,605.1 479.3,605.1 480.1,605.2 480.9,605.2 481.7,605.2 482.5,605.2 483.3,605.2 484.1,605.2 484.9,605.2 485.7,605.2 486.5,605.3 487.3,605.3 488.1,605.3 488.9,605.3 489.7,605.3 490.5,605.3 491.3,605.3 492.1,605.4 492.9,605.4 493.7,605.4 494.5,605.4 495.3,605.4 496.1,605.4" fill="none" stroke="#658cbd" stroke-width="1.0" stroke-linejoin="round"/>
<line x1="342.20" y1="547.48" x2="350.60" y2="547.48" stroke="#1f3560" stroke-width="1.2"/>
<polyline points="355.3,547.7 356.1,547.7 356.9,547.7 357.7,547.7 358.5,547.7 359.3,547.8 360.1,547.8 360.9,547.8 361.7,547.8 362.5,547.9 363.3,547.9 364.1,547.9 364.9,547.9 365.7,548.0 366.5,548.0 367.3,548.0 368.1,548.0 368.9,548.1 369.7,548.1 370.5,548.1 371.3,548.1 372.1,548.2 372.9,548.2 373.7,548.2 374.5,548.2 375.3,548.3 376.1,548.3 376.9,548.3 377.7,548.3 378.5,548.4 379.3,548.4 380.1,548.4 380.9,548.5 381.7,548.5 382.5,548.5 383.3,548.6 384.1,548.6 384.9,548.6 385.7,548.7 386.5,548.7 387.3,548.7 388.1,548.8 388.9,548.8 389.7,548.9 390.5,548.9 391.3,549.0 392.1,549.0 392.9,549.1 393.7,549.1 394.5,549.2 395.3,549.3 396.1,549.4 396.9,549.4 397.7,549.5 398.5,549.6 399.3,549.7 400.1,549.8 400.9,550.0 401.7,550.1 402.5,550.2 403.3,550.4 404.1,550.5 404.9,550.7 405.7,550.9 406.5,551.0 407.3,551.2 408.1,551.4 408.9,551.6 409.7,551.9 410.5,552.1 411.3,552.3 412.1,552.6 412.9,552.8 413.7,553.1 414.5,553.5 415.3,553.8 416.1,554.2 416.9,554.6 417.7,555.1 418.5,555.6 419.3,556.1 420.1,556.7 420.9,557.4 421.7,558.1 422.5,558.8 423.3,559.5 424.1,560.3 424.9,561.2 425.7,562.1 426.5,563.0 427.3,564.0 428.1,564.9 428.9,566.0 429.7,567.0 430.5,568.2 431.3,569.3 432.1,570.5 432.9,571.7 433.7,573.0 434.5,574.4 435.3,575.7 436.1,577.2 436.9,578.6 437.7,580.1 438.5,581.6 439.3,583.1 440.1,584.6 440.9,586.1 441.7,587.6 442.5,589.0 443.3,590.4 444.1,591.7 444.9,593.0 445.7,594.2 446.5,595.4 447.3,596.5 448.1,597.5 448.9,598.5 449.7,599.4 450.5,600.2 451.3,601.0 452.1,601.7 452.9,602.3 453.7,602.8 454.5,603.3 455.3,603.7 456.1,604.0 456.9,604.3 457.7,604.6 458.5,604.8 459.3,605.0 460.1,605.1 460.9,605.2 461.7,605.3 462.5,605.4 463.3,605.5 464.1,605.5 464.9,605.5 465.7,605.5 466.5,605.5 467.3,605.6 468.1,605.6 468.9,605.6 469.7,605.6 470.5,605.6 471.3,605.6 472.1,605.6 472.9,605.6 473.7,605.6 474.5,605.6 475.3,605.6 476.1,605.6 476.9,605.6 477.7,605.6 478.5,605.6 479.3,605.6 480.1,605.6 480.9,605.6 481.7,605.6 482.5,605.6 483.3,605.6 484.1,605.6 484.9,605.6 485.7,605.6 486.5,605.6 487.3,605.6 488.1,605.6 488.9,605.6 489.7,605.6 490.5,605.6 491.3,605.6 492.1,605.6 492.9,605.6 493.7,605.6 494.5,605.6 495.3,605.6 496.1,605.6" fill="none" stroke="#1f3560" stroke-width="1.2" stroke-linejoin="round"/>
<circle cx="374.84" cy="551.02" r="1.3" fill="#9e7960"/>
<circle cx="395.07" cy="554.85" r="1.3" fill="#9e7960"/>
<circle cx="415.30" cy="554.00" r="1.3" fill="#9e7960"/>
<circle cx="435.52" cy="568.16" r="1.3" fill="#9e7960"/>
<line x1="455.75" y1="592.30" x2="455.75" y2="588.05" stroke="#9e7960" stroke-width="0.6"/>
<line x1="454.85" y1="588.05" x2="456.65" y2="588.05" stroke="#9e7960" stroke-width="0.5"/>
<line x1="454.85" y1="592.30" x2="456.65" y2="592.30" stroke="#9e7960" stroke-width="0.5"/>
<circle cx="455.75" cy="590.17" r="1.3" fill="#9e7960"/>
<circle cx="475.98" cy="608.72" r="1.3" fill="#9e7960"/>
<circle cx="496.21" cy="609.22" r="1.3" fill="#9e7960"/>
<circle cx="374.84" cy="546.42" r="1.3" fill="#d06ea1"/>
<line x1="395.07" y1="541.61" x2="395.07" y2="537.36" stroke="#d06ea1" stroke-width="0.6"/>
<line x1="394.17" y1="537.36" x2="395.97" y2="537.36" stroke="#d06ea1" stroke-width="0.5"/>
<line x1="394.17" y1="541.61" x2="395.97" y2="541.61" stroke="#d06ea1" stroke-width="0.5"/>
<circle cx="395.07" cy="539.48" r="1.3" fill="#d06ea1"/>
<circle cx="415.30" cy="552.58" r="1.3" fill="#d06ea1"/>
<line x1="435.52" y1="568.86" x2="435.52" y2="564.62" stroke="#d06ea1" stroke-width="0.6"/>
<line x1="434.62" y1="564.62" x2="436.42" y2="564.62" stroke="#d06ea1" stroke-width="0.5"/>
<line x1="434.62" y1="568.86" x2="436.42" y2="568.86" stroke="#d06ea1" stroke-width="0.5"/>
<circle cx="435.52" cy="566.74" r="1.3" fill="#d06ea1"/>
<circle cx="455.75" cy="603.98" r="1.3" fill="#d06ea1"/>
<line x1="475.98" y1="606.10" x2="475.98" y2="601.86" stroke="#d06ea1" stroke-width="0.6"/>
<line x1="475.08" y1="601.86" x2="476.88" y2="601.86" stroke="#d06ea1" stroke-width="0.5"/>
<line x1="475.08" y1="606.10" x2="476.88" y2="606.10" stroke="#d06ea1" stroke-width="0.5"/>
<circle cx="475.98" cy="603.98" r="1.3" fill="#d06ea1"/>
<circle cx="496.21" cy="604.26" r="1.3" fill="#d06ea1"/>
<circle cx="374.84" cy="546.42" r="1.3" fill="#658cbd"/>
<circle cx="395.07" cy="544.79" r="1.3" fill="#658cbd"/>
<circle cx="415.30" cy="554.00" r="1.3" fill="#658cbd"/>
<circle cx="435.52" cy="570.28" r="1.3" fill="#658cbd"/>
<circle cx="455.75" cy="604.97" r="1.3" fill="#658cbd"/>
<circle cx="475.98" cy="605.68" r="1.3" fill="#658cbd"/>
<circle cx="496.21" cy="605.68" r="1.3" fill="#658cbd"/>
<circle cx="342.60" cy="545.50" r="1.3" fill="#1f3560"/>
<line x1="374.84" y1="543.16" x2="374.84" y2="538.92" stroke="#1f3560" stroke-width="0.6"/>
<line x1="373.94" y1="538.92" x2="375.74" y2="538.92" stroke="#1f3560" stroke-width="0.5"/>
<line x1="373.94" y1="543.16" x2="375.74" y2="543.16" stroke="#1f3560" stroke-width="0.5"/>
<circle cx="374.84" cy="541.04" r="1.3" fill="#1f3560"/>
<circle cx="395.07" cy="549.54" r="1.3" fill="#1f3560"/>
<circle cx="415.30" cy="559.52" r="1.3" fill="#1f3560"/>
<circle cx="435.52" cy="574.03" r="1.3" fill="#1f3560"/>
<circle cx="455.75" cy="603.98" r="1.3" fill="#1f3560"/>
<circle cx="475.98" cy="605.68" r="1.3" fill="#1f3560"/>
<circle cx="496.21" cy="605.68" r="1.3" fill="#1f3560"/>
<line x1="338.40" y1="577.50" x2="343.60" y2="577.50" stroke="#9e7960" stroke-width="0.75" opacity="0.8"/>
<circle cx="341.00" cy="577.50" r="1.05" fill="#9e7960"/>
<text x="348.00" y="580.00" font-size="7.2" fill="#303030" stroke="#303030" stroke-width="0.26">Y100F</text>
<line x1="338.40" y1="587.40" x2="343.60" y2="587.40" stroke="#d06ea1" stroke-width="0.75" opacity="0.8"/>
<circle cx="341.00" cy="587.40" r="1.05" fill="#d06ea1"/>
<text x="348.00" y="589.90" font-size="7.2" fill="#303030" stroke="#303030" stroke-width="0.26">Q93T</text>
<line x1="338.40" y1="597.30" x2="343.60" y2="597.30" stroke="#658cbd" stroke-width="0.75" opacity="0.8"/>
<circle cx="341.00" cy="597.30" r="1.05" fill="#658cbd"/>
<text x="348.00" y="599.80" font-size="7.2" fill="#303030" stroke="#303030" stroke-width="0.26">Y100W</text>
<line x1="338.40" y1="606.90" x2="343.60" y2="606.90" stroke="#1f3560" stroke-width="0.75" opacity="0.8"/>
<circle cx="341.00" cy="606.90" r="1.05" fill="#1f3560"/>
<text x="348.00" y="609.40" font-size="7.2" fill="#303030" stroke="#303030" stroke-width="0.26">TPP-26870 (parental)</text>
</svg><div id="frame"></div></div></body></html>
